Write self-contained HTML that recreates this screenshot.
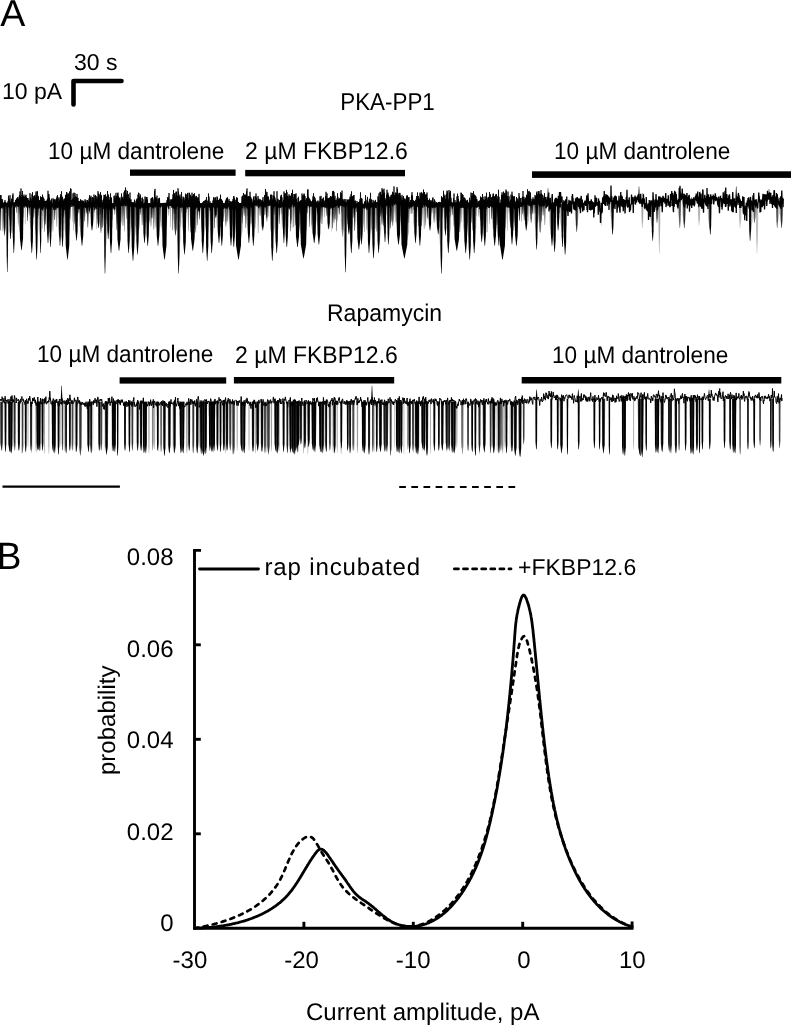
<!DOCTYPE html>
<html><head><meta charset="utf-8"><style>
html,body{margin:0;padding:0;background:#fff;}
svg{display:block;filter:grayscale(1);}
text{font-family:"Liberation Sans", sans-serif;fill:#000;text-rendering:geometricPrecision;}
</style></head><body>
<svg width="792" height="1026" viewBox="0 0 792 1026">
<rect width="792" height="1026" fill="#fff"/>
<text x="0.2" y="26.1" font-size="37.6" text-anchor="start">A</text>
<text x="74" y="70" font-size="23" text-anchor="start">30 s</text>
<text x="2" y="99.3" font-size="23" text-anchor="start">10 pA</text>
<path d="M73.5,104.5 L73.5,81 L121.5,81" fill="none" stroke="#000" stroke-width="4.6" stroke-linecap="round" stroke-linejoin="round"/>
<text x="0" y="0" font-size="22.4" text-anchor="start" transform="translate(340.2 110.3) scale(1.0 1.09)">PKA-PP1</text>
<text x="0" y="0" font-size="22.6" text-anchor="start" transform="translate(48 159) scale(1.0 1.06)">10 &#181;M dantrolene</text>
<text x="0" y="0" font-size="23" text-anchor="start" transform="translate(245 159) scale(1.0 1.05)">2 &#181;M FKBP12.6</text>
<text x="0" y="0" font-size="22.6" text-anchor="start" transform="translate(554 158.5) scale(1.0 1.06)">10 &#181;M dantrolene</text>
<rect x="130" y="169.5" width="105.60" height="6.30"/>
<rect x="245.2" y="169.9" width="159.80" height="6.40"/>
<rect x="532" y="171.3" width="259.00" height="6.60"/>
<text x="0" y="0" font-size="23" text-anchor="start" transform="translate(327 320.8) scale(1.0 1.05)">Rapamycin</text>
<text x="0" y="0" font-size="22.6" text-anchor="start" transform="translate(37 362) scale(1.0 1.06)">10 &#181;M dantrolene</text>
<text x="0" y="0" font-size="23" text-anchor="start" transform="translate(235 363.3) scale(1.0 1.05)">2 &#181;M FKBP12.6</text>
<text x="0" y="0" font-size="22.6" text-anchor="start" transform="translate(552 363) scale(1.0 1.06)">10 &#181;M dantrolene</text>
<rect x="119.6" y="377.3" width="106.60" height="6.30"/>
<rect x="233.9" y="377.0" width="160.30" height="6.50"/>
<rect x="521.7" y="377.0" width="259.60" height="6.50"/>
<line x1="2.5" y1="486.6" x2="119.9" y2="486.6" stroke="#000" stroke-width="2.2"/>
<line x1="399.2" y1="487" x2="515.2" y2="487" stroke="#000" stroke-width="2.2" stroke-dasharray="6.7 5.44"/>
<text x="0" y="0" font-size="37" text-anchor="start" transform="translate(-3.2 568.6) scale(1.0 1.03)">B</text>
<path d="M201,550.4 L194.5,550.4 L194.5,928.3 L632.1,928.3 L632.1,921.5" fill="none" stroke="#000" stroke-width="2.9" stroke-linejoin="miter"/>
<line x1="194.5" y1="833.8" x2="200.8" y2="833.8" stroke="#000" stroke-width="2.9"/>
<line x1="194.5" y1="739.3" x2="200.8" y2="739.3" stroke="#000" stroke-width="2.9"/>
<line x1="194.5" y1="644.8" x2="200.8" y2="644.8" stroke="#000" stroke-width="2.9"/>
<line x1="303.9" y1="928.3" x2="303.9" y2="921.8" stroke="#000" stroke-width="2.9"/>
<line x1="413.3" y1="928.3" x2="413.3" y2="921.8" stroke="#000" stroke-width="2.9"/>
<line x1="522.7" y1="928.3" x2="522.7" y2="921.8" stroke="#000" stroke-width="2.9"/>
<text x="173.5" y="565.1" font-size="24" text-anchor="end">0.08</text>
<text x="173.5" y="656.6" font-size="24" text-anchor="end">0.06</text>
<text x="173.5" y="748.4" font-size="24" text-anchor="end">0.04</text>
<text x="173.5" y="839.7" font-size="24" text-anchor="end">0.02</text>
<text x="173.5" y="931.3000000000001" font-size="24" text-anchor="end">0</text>
<text x="189.9" y="968.4" font-size="24" text-anchor="middle">-30</text>
<text x="301.5" y="968.4" font-size="24" text-anchor="middle">-20</text>
<text x="413.2" y="968.4" font-size="24" text-anchor="middle">-10</text>
<text x="524" y="968.4" font-size="24" text-anchor="middle">0</text>
<text x="632.3" y="968.4" font-size="24" text-anchor="middle">10</text>
<text x="306" y="1020.4" font-size="24" text-anchor="start">Current amplitude, pA</text>
<text x="0" y="0" font-size="24" text-anchor="start" transform="translate(115.3 775) rotate(-90)">probability</text>
<line x1="199.5" y1="569" x2="258.5" y2="569" stroke="#000" stroke-width="2.8" stroke-linecap="round"/>
<text x="264.5" y="575" font-size="24" text-anchor="start" letter-spacing="0.85">rap incubated</text>
<line x1="454.4" y1="568.9" x2="511" y2="568.9" stroke="#000" stroke-width="2.8" stroke-linecap="round" stroke-dasharray="4 5.1"/>
<text x="518" y="575.2" font-size="23" text-anchor="start">+FKBP12.6</text>
<path d="M194.5 928.3L195.3 928.2L196.0 928.0L196.8 927.9L197.6 927.7L198.4 927.6L199.1 927.5L199.9 927.3L200.7 927.1L201.5 927.0L202.2 926.8L203.0 926.7L203.8 926.5L204.6 926.3L205.4 926.2L206.1 926.0L206.9 925.8L207.7 925.6L208.5 925.5L209.3 925.3L210.1 925.1L210.8 924.9L211.6 924.7L212.4 924.5L213.2 924.3L214.0 924.1L214.7 923.9L215.5 923.7L216.3 923.5L217.1 923.2L217.9 923.0L218.6 922.8L219.4 922.6L220.2 922.3L221.0 922.1L221.8 921.9L222.5 921.6L223.3 921.4L224.1 921.1L224.8 920.9L225.6 920.6L226.4 920.4L227.1 920.1L227.9 919.8L228.7 919.6L229.4 919.3L230.2 919.0L230.9 918.7L231.7 918.4L232.5 918.1L233.2 917.9L234.0 917.5L234.7 917.2L235.5 916.9L236.2 916.6L236.9 916.3L237.7 916.0L238.4 915.7L239.2 915.3L239.9 915.0L240.6 914.7L241.3 914.3L242.1 914.0L242.8 913.6L243.5 913.3L244.2 912.9L244.9 912.5L245.7 912.2L246.3 911.8L247.1 911.4L247.8 911.0L248.4 910.6L249.1 910.2L249.8 909.9L250.5 909.5L251.2 909.0L251.9 908.6L252.6 908.2L253.2 907.8L253.9 907.4L254.6 906.9L255.2 906.5L255.9 906.0L256.5 905.6L257.1 905.1L257.8 904.7L258.4 904.2L259.1 903.7L259.7 903.3L260.3 902.8L260.9 902.3L261.6 901.8L262.1 901.3L262.8 900.8L263.4 900.3L263.9 899.8L264.5 899.2L265.1 898.7L265.7 898.2L266.3 897.6L266.8 897.1L267.4 896.6L268.0 896.0L268.5 895.4L269.1 894.9L269.6 894.3L270.1 893.7L270.7 893.1L271.2 892.5L271.7 892.0L272.2 891.3L272.7 890.7L273.2 890.1L273.7 889.5L274.2 888.9L274.7 888.2L275.1 887.6L275.6 886.9L276.1 886.3L276.5 885.6L277.0 885.0L277.4 884.3L277.8 883.6L278.3 882.9L278.7 882.2L279.1 881.5L279.5 880.8L279.9 880.1L280.3 879.4L280.7 878.6L281.0 877.9L281.4 877.2L281.8 876.4L282.1 875.7L282.5 874.9L282.8 874.2L283.2 873.4L283.5 872.6L283.9 871.9L284.2 871.1L284.5 870.3L284.9 869.6L285.2 868.8L285.5 868.0L285.8 867.2L286.1 866.5L286.5 865.7L286.8 864.9L287.1 864.1L287.4 863.4L287.8 862.6L288.1 861.8L288.4 861.0L288.7 860.3L289.1 859.5L289.4 858.7L289.7 858.0L290.1 857.2L290.4 856.5L290.8 855.7L291.1 855.0L291.5 854.3L291.8 853.5L292.2 852.8L292.6 852.1L293.0 851.4L293.4 850.7L293.7 850.0L294.1 849.3L294.6 848.6L295.0 848.0L295.4 847.3L295.8 846.7L296.3 846.0L296.7 845.4L297.2 844.8L297.7 844.2L298.1 843.6L298.6 843.0L299.2 842.5L299.7 841.9L300.2 841.4L300.8 840.8L301.3 840.3L301.9 839.8L302.5 839.3L303.1 838.9L303.7 838.5L304.3 838.1L304.9 837.7L305.5 837.4L306.1 837.1L306.8 836.9L307.4 836.7L308.0 836.6L308.7 836.6L309.3 836.6L309.9 836.7L310.6 836.8L311.2 837.1L311.8 837.4L312.4 837.9L313.0 838.4L313.6 839.0L314.1 839.7L314.7 840.4L315.2 841.2L315.8 842.1L316.3 843.0L316.8 843.9L317.4 844.8L317.9 845.6L318.4 846.5L318.9 847.4L319.3 848.2L319.8 849.0L320.3 849.9L320.7 850.6L321.2 851.4L321.6 852.2L322.1 852.9L322.5 853.7L323.0 854.4L323.4 855.0L323.8 855.7L324.2 856.4L324.6 857.0L325.1 857.6L325.5 858.2L325.9 858.8L326.3 859.4L326.7 860.0L327.1 860.5L327.4 861.1L327.8 861.7L328.2 862.3L328.6 862.9L329.0 863.6L329.4 864.2L329.8 864.8L330.1 865.5L330.5 866.2L330.9 866.9L331.3 867.6L331.6 868.3L332.0 869.0L332.4 869.7L332.8 870.5L333.2 871.2L333.6 871.9L333.9 872.7L334.3 873.4L334.7 874.2L335.1 874.9L335.5 875.7L335.9 876.4L336.3 877.2L336.7 877.9L337.1 878.7L337.6 879.4L338.0 880.1L338.4 880.9L338.8 881.6L339.3 882.3L339.7 883.0L340.2 883.6L340.6 884.3L341.1 885.0L341.5 885.6L342.0 886.2L342.5 886.9L343.0 887.5L343.5 888.0L343.9 888.6L344.5 889.2L345.0 889.8L345.5 890.3L346.0 890.9L346.5 891.4L347.1 891.9L347.6 892.5L348.1 893.0L348.7 893.5L349.2 894.0L349.8 894.5L350.4 894.9L350.9 895.4L351.5 895.9L352.1 896.4L352.6 896.8L353.2 897.3L353.8 897.7L354.4 898.2L355.0 898.6L355.6 899.1L356.2 899.5L356.9 900.0L357.5 900.4L358.1 900.9L358.7 901.3L359.4 901.8L360.0 902.2L360.6 902.6L361.3 903.1L361.9 903.5L362.6 904.0L363.3 904.4L363.9 904.9L364.6 905.3L365.3 905.8L365.9 906.3L366.6 906.7L367.3 907.2L368.0 907.7L368.7 908.1L369.4 908.6L370.1 909.1L370.8 909.6L371.5 910.1L372.2 910.6L372.9 911.0L373.6 911.5L374.3 912.0L375.0 912.5L375.8 913.0L376.5 913.5L377.2 913.9L377.9 914.4L378.7 914.9L379.4 915.3L380.1 915.8L380.9 916.3L381.6 916.7L382.3 917.2L383.1 917.6L383.8 918.0L384.6 918.5L385.3 918.9L386.1 919.3L386.8 919.7L387.6 920.1L388.3 920.5L389.1 920.9L389.8 921.3L390.6 921.6L391.3 922.0L392.1 922.3L392.9 922.7L393.6 923.0L394.4 923.3L395.1 923.6L395.9 923.9L396.7 924.2L397.4 924.4L398.2 924.7L398.9 924.9L399.7 925.1L400.5 925.3L401.2 925.5L402.0 925.7L402.7 925.9L403.5 926.0L404.3 926.1L405.0 926.2L405.8 926.3L406.5 926.4L407.3 926.4L408.1 926.5L408.8 926.5L409.6 926.5L410.3 926.5L411.1 926.4L411.8 926.4L412.6 926.3L413.3 926.3L414.1 926.2L414.8 926.0L415.5 925.9L416.3 925.8L417.0 925.6L417.8 925.5L418.5 925.3L419.2 925.1L419.9 924.9L420.7 924.7L421.4 924.4L422.1 924.2L422.8 923.9L423.6 923.7L424.3 923.4L425.0 923.1L425.7 922.8L426.4 922.5L427.1 922.1L427.8 921.8L428.5 921.5L429.2 921.1L429.9 920.7L430.6 920.4L431.2 920.0L431.9 919.6L432.6 919.2L433.3 918.8L433.9 918.4L434.6 917.9L435.3 917.5L435.9 917.0L436.6 916.6L437.2 916.1L437.9 915.7L438.5 915.2L439.1 914.7L439.8 914.2L440.4 913.8L441.0 913.3L441.6 912.8L442.2 912.3L442.8 911.8L443.4 911.2L444.0 910.7L444.6 910.2L445.2 909.7L445.8 909.1L446.3 908.6L446.9 908.0L447.5 907.5L448.0 906.9L448.6 906.4L449.1 905.8L449.7 905.2L450.2 904.7L450.8 904.1L451.3 903.5L451.9 902.9L452.4 902.3L452.9 901.7L453.4 901.1L453.9 900.5L454.5 899.9L455.0 899.3L455.5 898.7L456.0 898.0L456.5 897.4L456.9 896.8L457.4 896.1L457.9 895.5L458.4 894.9L458.9 894.2L459.3 893.6L459.8 892.9L460.3 892.2L460.7 891.6L461.2 890.9L461.6 890.2L462.1 889.6L462.5 888.9L463.0 888.2L463.4 887.5L463.8 886.9L464.3 886.2L464.7 885.5L465.1 884.8L465.5 884.1L465.9 883.4L466.4 882.7L466.8 882.0L467.2 881.3L467.6 880.6L467.9 879.9L468.3 879.1L468.7 878.4L469.1 877.7L469.5 877.0L469.9 876.3L470.2 875.5L470.6 874.8L471.0 874.1L471.4 873.4L471.7 872.6L472.1 871.9L472.4 871.1L472.8 870.4L473.1 869.7L473.5 868.9L473.8 868.2L474.2 867.4L474.5 866.7L474.8 865.9L475.2 865.2L475.5 864.4L475.8 863.7L476.1 862.9L476.5 862.2L476.8 861.4L477.1 860.7L477.4 859.9L477.7 859.1L478.0 858.4L478.3 857.6L478.6 856.9L478.9 856.1L479.2 855.3L479.5 854.6L479.8 853.8L480.1 853.0L480.3 852.3L480.6 851.5L480.9 850.8L481.2 850.0L481.4 849.2L481.7 848.5L482.0 847.7L482.2 846.9L482.5 846.1L482.8 845.4L483.0 844.6L483.3 843.9L483.5 843.1L483.8 842.3L484.0 841.5L484.2 840.8L484.5 840.0L484.7 839.2L485.0 838.5L485.2 837.7L485.4 836.9L485.7 836.2L485.9 835.4L486.1 834.6L486.4 833.9L486.6 833.1L486.8 832.3L487.0 831.5L487.2 830.8L487.4 830.0L487.6 829.2L487.9 828.5L488.1 827.7L488.3 826.9L488.5 826.1L488.7 825.4L488.9 824.6L489.1 823.8L489.3 823.1L489.5 822.3L489.7 821.5L489.9 820.7L490.1 820.0L490.2 819.2L490.4 818.4L490.6 817.6L490.8 816.9L491.0 816.1L491.2 815.3L491.3 814.5L491.5 813.8L491.7 813.0L491.9 812.2L492.0 811.5L492.2 810.7L492.4 809.9L492.5 809.1L492.7 808.4L492.9 807.6L493.0 806.8L493.2 806.0L493.4 805.2L493.5 804.5L493.7 803.7L493.8 802.9L494.0 802.1L494.1 801.4L494.3 800.6L494.5 799.8L494.6 799.0L494.8 798.2L494.9 797.5L495.1 796.7L495.2 795.9L495.4 795.1L495.5 794.3L495.6 793.6L495.8 792.8L495.9 792.0L496.1 791.2L496.2 790.4L496.4 789.7L496.5 788.9L496.6 788.1L496.8 787.3L496.9 786.5L497.1 785.8L497.2 785.0L497.3 784.2L497.5 783.4L497.6 782.6L497.7 781.8L497.9 781.1L498.0 780.3L498.1 779.5L498.3 778.7L498.4 777.9L498.5 777.1L498.6 776.4L498.8 775.6L498.9 774.8L499.0 774.0L499.2 773.2L499.3 772.4L499.4 771.6L499.6 770.9L499.7 770.1L499.8 769.3L499.9 768.5L500.1 767.7L500.2 766.9L500.3 766.1L500.4 765.4L500.6 764.6L500.7 763.8L500.8 763.0L500.9 762.2L501.1 761.4L501.2 760.6L501.3 759.8L501.4 759.0L501.6 758.3L501.7 757.5L501.8 756.7L501.9 755.9L502.1 755.1L502.2 754.3L502.3 753.5L502.4 752.7L502.6 751.9L502.7 751.1L502.8 750.4L502.9 749.6L503.1 748.8L503.2 748.0L503.3 747.2L503.4 746.4L503.5 745.6L503.7 744.8L503.8 744.0L503.9 743.2L504.0 742.5L504.2 741.7L504.3 740.9L504.4 740.1L504.5 739.3L504.6 738.5L504.8 737.7L504.9 736.9L505.0 736.1L505.1 735.3L505.3 734.5L505.4 733.7L505.5 732.9L505.6 732.1L505.7 731.4L505.9 730.6L506.0 729.8L506.1 729.0L506.2 728.2L506.4 727.4L506.5 726.6L506.6 725.8L506.7 725.0L506.8 724.2L506.9 723.4L507.1 722.6L507.2 721.8L507.3 721.0L507.4 720.2L507.6 719.5L507.7 718.6L507.8 717.9L507.9 717.1L508.0 716.3L508.2 715.5L508.3 714.7L508.4 713.9L508.5 713.1L508.6 712.3L508.8 711.5L508.9 710.7L509.0 709.9L509.1 709.1L509.2 708.3L509.4 707.5L509.5 706.7L509.6 705.9L509.7 705.1L509.8 704.4L509.9 703.6L510.1 702.8L510.2 702.0L510.3 701.2L510.4 700.4L510.5 699.6L510.7 698.8L510.8 698.0L510.9 697.2L511.0 696.4L511.1 695.6L511.2 694.8L511.4 694.0L511.5 693.2L511.6 692.4L511.7 691.6L511.8 690.9L512.0 690.1L512.1 689.3L512.2 688.5L512.3 687.7L512.4 686.9L512.5 686.1L512.7 685.3L512.8 684.5L512.9 683.7L513.0 682.9L513.1 682.1L513.3 681.3L513.4 680.5L513.5 679.8L513.6 679.0L513.7 678.2L513.9 677.4L514.0 676.6L514.1 675.8L514.2 675.0L514.3 674.2L514.4 673.4L514.5 672.6L514.7 671.8L514.8 671.0L514.9 670.3L515.0 669.5L515.1 668.7L515.3 667.9L515.4 667.1L515.5 666.3L515.6 665.5L515.7 664.7L515.9 663.9L516.0 663.1L516.1 662.4L516.2 661.6L516.3 660.8L516.4 660.0L516.5 659.2L516.7 658.4L516.8 657.6L516.9 656.8L517.0 656.0L517.1 655.3L517.2 654.5L517.4 653.7L517.5 652.9L517.6 652.1L517.8 651.3L517.9 650.5L518.0 649.7L518.2 648.9L518.4 648.1L518.6 647.3L518.8 646.5L519.0 645.6L519.2 644.8L519.5 643.9L519.8 643.1L520.1 642.2L520.5 641.3L520.9 640.4L521.3 639.6L521.7 638.8L522.1 638.0L522.5 637.4L523.0 636.9L523.4 636.5L523.8 636.3L524.2 636.2L524.6 636.4L525.0 636.7L525.4 637.1L525.7 637.7L526.0 638.4L526.4 639.2L526.7 640.0L527.0 640.9L527.3 641.8L527.5 642.7L527.8 643.6L528.0 644.4L528.3 645.3L528.5 646.2L528.7 647.0L529.0 647.8L529.2 648.7L529.4 649.5L529.6 650.3L529.8 651.1L530.0 651.9L530.1 652.8L530.3 653.5L530.5 654.4L530.7 655.1L530.9 656.0L531.0 656.8L531.2 657.5L531.4 658.4L531.5 659.1L531.7 659.9L531.9 660.7L532.0 661.5L532.2 662.3L532.4 663.1L532.5 663.9L532.7 664.7L532.8 665.5L533.0 666.3L533.1 667.1L533.3 667.8L533.4 668.6L533.6 669.4L533.7 670.2L533.9 671.0L534.0 671.8L534.2 672.5L534.3 673.3L534.5 674.1L534.6 674.9L534.7 675.7L534.9 676.5L535.0 677.2L535.1 678.0L535.3 678.8L535.4 679.6L535.5 680.4L535.7 681.1L535.8 681.9L535.9 682.7L536.0 683.5L536.2 684.2L536.3 685.0L536.4 685.8L536.5 686.6L536.7 687.4L536.8 688.1L536.9 688.9L537.0 689.7L537.1 690.5L537.2 691.3L537.4 692.0L537.5 692.8L537.6 693.6L537.7 694.4L537.8 695.1L537.9 695.9L538.0 696.7L538.1 697.5L538.3 698.3L538.4 699.0L538.5 699.8L538.6 700.6L538.7 701.4L538.8 702.2L538.9 702.9L539.0 703.7L539.1 704.5L539.2 705.3L539.3 706.1L539.4 706.9L539.5 707.6L539.6 708.4L539.7 709.2L539.8 710.0L539.9 710.8L540.0 711.6L540.1 712.4L540.2 713.1L540.3 713.9L540.4 714.7L540.5 715.5L540.6 716.3L540.7 717.1L540.8 717.9L540.9 718.7L541.0 719.5L541.1 720.3L541.1 721.1L541.2 721.9L541.3 722.7L541.4 723.5L541.5 724.2L541.6 725.0L541.7 725.9L541.8 726.6L541.9 727.4L542.0 728.2L542.1 729.0L542.2 729.8L542.3 730.6L542.4 731.4L542.5 732.2L542.5 733.0L542.6 733.8L542.7 734.6L542.8 735.5L542.9 736.2L543.0 737.0L543.1 737.9L543.2 738.6L543.3 739.5L543.4 740.3L543.5 741.1L543.6 741.9L543.6 742.7L543.8 743.5L543.8 744.3L543.9 745.1L544.0 745.9L544.1 746.7L544.2 747.5L544.3 748.3L544.4 749.1L544.5 749.9L544.6 750.7L544.7 751.5L544.8 752.3L544.9 753.1L545.0 753.9L545.1 754.7L545.2 755.5L545.3 756.3L545.4 757.1L545.5 757.9L545.6 758.7L545.7 759.5L545.8 760.3L545.9 761.1L546.0 761.9L546.1 762.7L546.2 763.5L546.3 764.3L546.4 765.1L546.5 765.9L546.6 766.7L546.7 767.5L546.9 768.3L547.0 769.1L547.1 769.9L547.2 770.7L547.3 771.5L547.4 772.3L547.5 773.1L547.6 773.9L547.8 774.7L547.9 775.5L548.0 776.3L548.1 777.1L548.2 777.9L548.3 778.7L548.5 779.5L548.6 780.2L548.7 781.0L548.8 781.8L549.0 782.6L549.1 783.4L549.2 784.2L549.3 785.0L549.5 785.8L549.6 786.6L549.7 787.4L549.9 788.1L550.0 788.9L550.1 789.7L550.3 790.5L550.4 791.3L550.5 792.1L550.7 792.9L550.8 793.6L551.0 794.4L551.1 795.2L551.3 796.0L551.4 796.8L551.6 797.6L551.7 798.3L551.9 799.1L552.0 799.9L552.2 800.7L552.3 801.5L552.5 802.2L552.6 803.0L552.8 803.8L553.0 804.6L553.1 805.4L553.3 806.1L553.5 806.9L553.6 807.7L553.8 808.5L554.0 809.2L554.2 810.0L554.3 810.8L554.5 811.5L554.7 812.3L554.9 813.1L555.0 813.9L555.2 814.6L555.4 815.4L555.6 816.2L555.8 817.0L556.0 817.7L556.2 818.5L556.4 819.3L556.6 820.0L556.8 820.8L557.0 821.6L557.2 822.3L557.4 823.1L557.6 823.9L557.8 824.6L558.0 825.4L558.2 826.1L558.4 826.9L558.7 827.7L558.9 828.4L559.1 829.2L559.3 830.0L559.5 830.7L559.8 831.5L560.0 832.2L560.2 833.0L560.5 833.8L560.7 834.5L561.0 835.3L561.2 836.0L561.4 836.8L561.7 837.6L561.9 838.3L562.2 839.1L562.4 839.8L562.7 840.6L562.9 841.3L563.2 842.1L563.5 842.8L563.7 843.6L564.0 844.3L564.3 845.1L564.5 845.9L564.8 846.6L565.1 847.4L565.4 848.1L565.6 848.9L565.9 849.6L566.2 850.3L566.5 851.1L566.8 851.8L567.1 852.6L567.4 853.3L567.7 854.1L568.0 854.8L568.3 855.6L568.6 856.3L568.9 857.0L569.2 857.8L569.6 858.5L569.9 859.3L570.2 860.0L570.5 860.8L570.9 861.5L571.2 862.2L571.5 863.0L571.9 863.7L572.2 864.5L572.5 865.2L572.9 865.9L573.2 866.7L573.6 867.4L574.0 868.1L574.3 868.9L574.7 869.6L575.0 870.3L575.4 871.0L575.8 871.8L576.1 872.5L576.5 873.2L576.9 873.9L577.3 874.7L577.7 875.4L578.1 876.1L578.5 876.8L578.9 877.5L579.2 878.2L579.6 878.9L580.0 879.6L580.5 880.4L580.9 881.0L581.3 881.8L581.7 882.5L582.1 883.1L582.6 883.8L583.0 884.5L583.4 885.2L583.9 885.9L584.3 886.6L584.7 887.3L585.2 887.9L585.6 888.6L586.1 889.3L586.5 890.0L587.0 890.6L587.5 891.3L587.9 891.9L588.4 892.6L588.9 893.2L589.4 893.9L589.8 894.5L590.3 895.2L590.8 895.8L591.3 896.5L591.8 897.1L592.3 897.7L592.8 898.3L593.3 899.0L593.8 899.6L594.4 900.2L594.9 900.8L595.4 901.4L595.9 902.0L596.5 902.6L597.0 903.2L597.5 903.8L598.1 904.3L598.6 904.9L599.2 905.5L599.7 906.0L600.3 906.6L600.9 907.2L601.4 907.7L602.0 908.3L602.6 908.8L603.1 909.4L603.7 909.9L604.3 910.4L604.9 910.9L605.5 911.4L606.1 912.0L606.7 912.5L607.3 913.0L607.9 913.5L608.5 914.0L609.2 914.4L609.8 914.9L610.4 915.4L611.1 915.9L611.7 916.3L612.3 916.8L613.0 917.2L613.6 917.6L614.3 918.1L615.0 918.5L615.6 918.9L616.3 919.4L617.0 919.8L617.6 920.2L618.3 920.6L619.0 921.0L619.7 921.4L620.4 921.7L621.1 922.1L621.8 922.5L622.5 922.8L623.2 923.2L624.0 923.5L624.7 923.9L625.4 924.2L626.1 924.5L626.9 924.8L627.6 925.1L628.4 925.4L629.1 925.7L629.9 926.0L630.7 926.3L631.4 926.5L632.2 926.8" fill="none" stroke="#000" stroke-width="2.7" stroke-linecap="round" stroke-linejoin="round" stroke-dasharray="4 5.3"/>
<path d="M194.5 928.3L195.3 928.3L196.0 928.2L196.8 928.2L197.6 928.2L198.3 928.2L199.1 928.1L199.9 928.1L200.7 928.1L201.4 928.0L202.2 928.0L203.0 927.9L203.8 927.9L204.6 927.8L205.4 927.8L206.2 927.7L206.9 927.7L207.7 927.6L208.5 927.5L209.3 927.5L210.1 927.4L210.9 927.3L211.7 927.2L212.5 927.1L213.3 927.0L214.1 927.0L214.9 926.9L215.7 926.8L216.5 926.7L217.3 926.6L218.1 926.5L218.9 926.4L219.7 926.2L220.5 926.1L221.3 926.0L222.1 925.9L222.9 925.8L223.8 925.6L224.6 925.5L225.4 925.3L226.2 925.2L227.0 925.0L227.8 924.9L228.6 924.8L229.4 924.6L230.2 924.4L231.0 924.3L231.8 924.1L232.6 923.9L233.4 923.7L234.2 923.6L235.0 923.4L235.8 923.2L236.6 923.0L237.4 922.8L238.2 922.6L238.9 922.4L239.7 922.2L240.5 922.0L241.3 921.7L242.1 921.5L242.9 921.3L243.7 921.1L244.4 920.8L245.2 920.6L246.0 920.3L246.8 920.1L247.6 919.8L248.3 919.6L249.1 919.3L249.9 919.0L250.6 918.8L251.4 918.5L252.2 918.2L252.9 917.9L253.7 917.6L254.4 917.3L255.2 917.0L255.9 916.7L256.6 916.4L257.4 916.1L258.1 915.8L258.9 915.5L259.6 915.1L260.3 914.8L261.1 914.5L261.8 914.1L262.5 913.8L263.2 913.4L263.9 913.0L264.6 912.7L265.3 912.3L266.0 911.9L266.7 911.5L267.4 911.2L268.1 910.8L268.8 910.4L269.5 910.0L270.1 909.5L270.8 909.1L271.5 908.7L272.1 908.3L272.8 907.9L273.4 907.4L274.1 907.0L274.7 906.5L275.4 906.1L276.0 905.6L276.6 905.2L277.3 904.7L277.9 904.2L278.5 903.7L279.1 903.2L279.7 902.8L280.3 902.3L280.9 901.8L281.5 901.2L282.1 900.7L282.7 900.2L283.2 899.7L283.8 899.1L284.4 898.6L284.9 898.0L285.5 897.5L286.0 896.9L286.6 896.4L287.1 895.8L287.6 895.2L288.1 894.6L288.6 894.0L289.1 893.5L289.6 892.8L290.1 892.2L290.6 891.6L291.1 891.0L291.6 890.4L292.1 889.8L292.5 889.1L293.0 888.5L293.5 887.8L293.9 887.2L294.4 886.5L294.8 885.9L295.3 885.2L295.7 884.5L296.2 883.9L296.6 883.2L297.1 882.5L297.5 881.9L297.9 881.2L298.4 880.5L298.8 879.8L299.2 879.1L299.6 878.4L300.1 877.7L300.5 877.0L300.9 876.3L301.4 875.6L301.8 874.9L302.2 874.2L302.6 873.5L303.0 872.8L303.5 872.1L303.9 871.4L304.3 870.6L304.7 869.9L305.2 869.2L305.6 868.5L306.0 867.8L306.5 867.1L306.9 866.4L307.3 865.6L307.8 864.9L308.2 864.2L308.7 863.5L309.1 862.8L309.6 862.0L310.0 861.3L310.5 860.6L310.9 859.9L311.4 859.2L311.9 858.5L312.3 857.8L312.8 857.1L313.3 856.4L313.8 855.7L314.3 855.0L314.8 854.3L315.3 853.6L315.8 852.9L316.3 852.3L316.8 851.7L317.3 851.1L317.8 850.6L318.4 850.2L318.9 849.8L319.4 849.5L319.9 849.3L320.5 849.2L321.0 849.2L321.6 849.2L322.1 849.4L322.6 849.6L323.2 850.0L323.7 850.3L324.2 850.8L324.8 851.3L325.3 851.9L325.9 852.5L326.4 853.1L326.9 853.8L327.4 854.5L328.0 855.2L328.5 856.0L329.0 856.7L329.5 857.5L330.0 858.2L330.6 859.0L331.1 859.7L331.6 860.5L332.1 861.2L332.6 861.9L333.0 862.6L333.5 863.4L334.0 864.1L334.5 864.8L335.0 865.5L335.5 866.2L335.9 866.9L336.4 867.5L336.9 868.2L337.4 868.9L337.8 869.5L338.3 870.2L338.8 870.9L339.2 871.5L339.7 872.2L340.2 872.8L340.6 873.4L341.1 874.0L341.6 874.7L342.0 875.3L342.5 875.9L342.9 876.5L343.4 877.2L343.9 877.8L344.3 878.4L344.8 879.1L345.3 879.7L345.7 880.4L346.2 881.1L346.7 881.8L347.1 882.5L347.6 883.2L348.1 883.9L348.6 884.6L349.1 885.3L349.5 886.0L350.0 886.7L350.5 887.4L351.0 888.1L351.5 888.8L352.0 889.5L352.5 890.1L353.0 890.8L353.5 891.4L354.0 892.0L354.5 892.6L355.0 893.2L355.6 893.8L356.1 894.3L356.6 894.8L357.2 895.3L357.7 895.8L358.2 896.3L358.8 896.7L359.3 897.1L359.9 897.6L360.4 898.0L361.0 898.4L361.6 898.8L362.2 899.2L362.7 899.6L363.3 900.0L363.9 900.3L364.5 900.7L365.1 901.1L365.7 901.5L366.3 901.9L366.9 902.3L367.5 902.8L368.1 903.2L368.7 903.6L369.3 904.1L370.0 904.6L370.6 905.1L371.2 905.6L371.9 906.1L372.5 906.6L373.1 907.2L373.8 907.7L374.4 908.3L375.1 908.8L375.8 909.4L376.4 910.0L377.1 910.6L377.8 911.2L378.4 911.8L379.1 912.3L379.8 912.9L380.5 913.5L381.2 914.1L381.9 914.7L382.6 915.3L383.3 915.8L384.0 916.4L384.7 917.0L385.4 917.5L386.1 918.0L386.8 918.6L387.5 919.1L388.2 919.6L389.0 920.0L389.7 920.5L390.4 921.0L391.2 921.4L391.9 921.8L392.7 922.2L393.4 922.6L394.2 922.9L394.9 923.3L395.7 923.6L396.4 923.9L397.2 924.2L398.0 924.5L398.7 924.7L399.5 924.9L400.3 925.2L401.0 925.4L401.8 925.5L402.6 925.7L403.3 925.9L404.1 926.0L404.9 926.1L405.7 926.2L406.4 926.3L407.2 926.4L408.0 926.5L408.8 926.5L409.5 926.5L410.3 926.6L411.1 926.6L411.9 926.5L412.6 926.5L413.4 926.5L414.2 926.4L414.9 926.4L415.7 926.3L416.5 926.2L417.2 926.1L418.0 925.9L418.8 925.8L419.5 925.7L420.3 925.5L421.0 925.3L421.8 925.1L422.5 924.9L423.3 924.7L424.0 924.5L424.8 924.3L425.5 924.0L426.2 923.8L427.0 923.5L427.7 923.2L428.4 922.9L429.1 922.6L429.8 922.3L430.5 922.0L431.2 921.6L431.9 921.3L432.6 920.9L433.3 920.6L434.0 920.2L434.7 919.8L435.4 919.4L436.0 919.0L436.7 918.6L437.4 918.2L438.0 917.7L438.7 917.3L439.3 916.9L440.0 916.4L440.6 915.9L441.2 915.5L441.9 915.0L442.5 914.5L443.1 914.0L443.7 913.5L444.4 913.0L445.0 912.4L445.6 911.9L446.2 911.4L446.8 910.8L447.4 910.3L447.9 909.7L448.5 909.2L449.1 908.6L449.7 908.0L450.2 907.4L450.8 906.9L451.4 906.3L451.9 905.7L452.4 905.1L453.0 904.5L453.5 903.8L454.1 903.2L454.6 902.6L455.1 902.0L455.6 901.3L456.2 900.7L456.7 900.1L457.2 899.4L457.7 898.8L458.2 898.1L458.7 897.5L459.2 896.8L459.7 896.1L460.1 895.5L460.6 894.8L461.1 894.1L461.6 893.5L462.0 892.8L462.5 892.1L462.9 891.4L463.4 890.7L463.8 890.1L464.3 889.4L464.7 888.7L465.1 888.0L465.6 887.3L466.0 886.6L466.4 885.9L466.8 885.2L467.2 884.5L467.6 883.8L468.1 883.1L468.4 882.4L468.8 881.7L469.2 881.0L469.6 880.3L470.0 879.6L470.4 878.9L470.7 878.2L471.1 877.5L471.5 876.8L471.8 876.1L472.2 875.4L472.5 874.7L472.9 873.9L473.2 873.2L473.6 872.5L473.9 871.8L474.2 871.1L474.6 870.4L474.9 869.6L475.2 868.9L475.6 868.2L475.9 867.5L476.2 866.8L476.5 866.0L476.8 865.3L477.1 864.6L477.4 863.8L477.7 863.1L478.0 862.4L478.3 861.6L478.6 860.9L478.9 860.2L479.1 859.4L479.4 858.7L479.7 858.0L480.0 857.2L480.2 856.5L480.5 855.8L480.8 855.0L481.0 854.3L481.3 853.5L481.6 852.8L481.8 852.0L482.1 851.3L482.3 850.5L482.6 849.8L482.8 849.1L483.0 848.3L483.3 847.6L483.5 846.8L483.7 846.1L484.0 845.3L484.2 844.6L484.4 843.8L484.7 843.0L484.9 842.3L485.1 841.5L485.3 840.8L485.5 840.0L485.8 839.3L486.0 838.5L486.2 837.7L486.4 837.0L486.6 836.2L486.8 835.5L487.0 834.7L487.2 833.9L487.4 833.2L487.6 832.4L487.8 831.6L488.0 830.9L488.2 830.1L488.4 829.3L488.6 828.6L488.8 827.8L488.9 827.0L489.1 826.2L489.3 825.5L489.5 824.7L489.7 823.9L489.9 823.2L490.1 822.4L490.2 821.6L490.4 820.8L490.6 820.1L490.8 819.3L490.9 818.5L491.1 817.7L491.3 816.9L491.5 816.2L491.6 815.4L491.8 814.6L492.0 813.8L492.1 813.0L492.3 812.3L492.5 811.5L492.6 810.7L492.8 809.9L493.0 809.1L493.1 808.3L493.3 807.5L493.5 806.8L493.6 806.0L493.8 805.2L493.9 804.4L494.1 803.6L494.3 802.8L494.4 802.0L494.6 801.2L494.8 800.5L494.9 799.7L495.1 798.9L495.2 798.1L495.4 797.3L495.5 796.5L495.7 795.7L495.8 794.9L496.0 794.1L496.1 793.3L496.3 792.5L496.4 791.8L496.6 791.0L496.7 790.2L496.9 789.4L497.0 788.6L497.2 787.8L497.3 787.0L497.4 786.2L497.6 785.4L497.7 784.6L497.9 783.8L498.0 783.0L498.1 782.2L498.3 781.4L498.4 780.6L498.6 779.8L498.7 779.0L498.8 778.2L499.0 777.4L499.1 776.6L499.2 775.8L499.4 775.0L499.5 774.2L499.6 773.4L499.8 772.6L499.9 771.8L500.0 771.0L500.2 770.2L500.3 769.4L500.4 768.6L500.6 767.8L500.7 767.0L500.8 766.2L500.9 765.4L501.1 764.6L501.2 763.8L501.3 763.0L501.4 762.1L501.6 761.4L501.7 760.5L501.8 759.7L501.9 758.9L502.0 758.1L502.2 757.3L502.3 756.5L502.4 755.7L502.5 754.9L502.6 754.1L502.8 753.3L502.9 752.5L503.0 751.7L503.1 750.9L503.2 750.1L503.3 749.3L503.4 748.5L503.6 747.7L503.7 746.9L503.8 746.1L503.9 745.3L504.0 744.5L504.1 743.6L504.2 742.9L504.3 742.0L504.4 741.2L504.5 740.4L504.6 739.6L504.7 738.8L504.9 738.0L504.9 737.2L505.1 736.4L505.2 735.6L505.3 734.8L505.4 734.0L505.5 733.2L505.6 732.4L505.7 731.6L505.8 730.8L505.9 730.0L506.0 729.2L506.1 728.4L506.2 727.6L506.3 726.8L506.4 726.0L506.5 725.2L506.6 724.4L506.6 723.6L506.8 722.8L506.8 722.0L506.9 721.2L507.0 720.4L507.1 719.6L507.2 718.8L507.3 718.0L507.4 717.2L507.5 716.4L507.6 715.6L507.7 714.8L507.8 714.0L507.9 713.2L507.9 712.4L508.0 711.6L508.1 710.8L508.2 710.0L508.3 709.2L508.4 708.4L508.5 707.6L508.6 706.8L508.6 706.0L508.7 705.2L508.8 704.4L508.9 703.6L509.0 702.8L509.1 702.0L509.1 701.2L509.2 700.5L509.3 699.7L509.4 698.9L509.5 698.1L509.5 697.3L509.6 696.5L509.7 695.7L509.8 694.9L509.9 694.1L509.9 693.3L510.0 692.5L510.1 691.8L510.2 691.0L510.2 690.2L510.3 689.4L510.4 688.6L510.5 687.8L510.5 687.0L510.6 686.2L510.7 685.5L510.8 684.7L510.8 683.9L510.9 683.1L511.0 682.3L511.1 681.5L511.1 680.7L511.2 680.0L511.3 679.2L511.3 678.4L511.4 677.6L511.5 676.8L511.6 676.0L511.6 675.2L511.7 674.5L511.8 673.7L511.8 672.9L511.9 672.1L512.0 671.3L512.0 670.5L512.1 669.8L512.2 669.0L512.2 668.2L512.3 667.4L512.4 666.6L512.4 665.9L512.5 665.1L512.6 664.3L512.6 663.5L512.7 662.7L512.8 661.9L512.8 661.1L512.9 660.4L513.0 659.6L513.0 658.8L513.1 658.0L513.1 657.2L513.2 656.5L513.3 655.7L513.3 654.9L513.4 654.1L513.4 653.3L513.5 652.5L513.6 651.8L513.6 651.0L513.7 650.2L513.8 649.4L513.8 648.6L513.9 647.9L513.9 647.1L514.0 646.3L514.0 645.5L514.1 644.7L514.2 644.0L514.2 643.2L514.3 642.4L514.3 641.6L514.4 640.8L514.5 640.0L514.5 639.2L514.6 638.5L514.6 637.7L514.7 636.9L514.7 636.1L514.8 635.3L514.8 634.5L514.9 633.8L515.0 633.0L515.0 632.2L515.1 631.4L515.1 630.6L515.2 629.8L515.3 629.1L515.3 628.3L515.4 627.5L515.5 626.7L515.5 625.9L515.6 625.1L515.7 624.3L515.8 623.5L515.9 622.7L516.0 621.9L516.1 621.1L516.2 620.4L516.3 619.5L516.4 618.8L516.5 617.9L516.7 617.1L516.8 616.3L516.9 615.5L517.1 614.7L517.2 613.9L517.4 613.1L517.6 612.2L517.8 611.4L517.9 610.5L518.1 609.7L518.3 608.8L518.5 607.9L518.8 607.0L519.0 606.1L519.2 605.2L519.5 604.2L519.8 603.2L520.0 602.3L520.3 601.3L520.6 600.3L520.9 599.4L521.2 598.5L521.5 597.7L521.9 596.9L522.2 596.3L522.5 595.8L522.9 595.4L523.2 595.1L523.6 595.0L524.0 595.1L524.3 595.3L524.7 595.7L525.0 596.2L525.4 596.9L525.8 597.6L526.1 598.4L526.5 599.2L526.8 600.1L527.1 601.0L527.4 601.8L527.7 602.7L528.0 603.6L528.3 604.5L528.5 605.3L528.8 606.2L529.0 607.0L529.2 607.9L529.4 608.7L529.6 609.6L529.8 610.4L530.0 611.2L530.2 612.1L530.4 612.9L530.5 613.7L530.7 614.5L530.9 615.4L531.0 616.2L531.1 617.0L531.3 617.8L531.4 618.6L531.5 619.4L531.7 620.2L531.8 621.0L531.9 621.8L532.0 622.6L532.1 623.4L532.2 624.2L532.3 625.0L532.4 625.7L532.5 626.5L532.6 627.3L532.7 628.1L532.8 628.9L532.9 629.6L533.0 630.4L533.1 631.2L533.1 632.0L533.2 632.8L533.3 633.6L533.4 634.3L533.5 635.1L533.5 635.9L533.6 636.7L533.7 637.5L533.8 638.2L533.9 639.0L534.0 639.8L534.0 640.6L534.1 641.4L534.2 642.1L534.3 642.9L534.4 643.7L534.4 644.5L534.5 645.3L534.6 646.1L534.7 646.9L534.7 647.6L534.8 648.4L534.9 649.2L535.0 650.0L535.0 650.8L535.1 651.6L535.2 652.4L535.3 653.1L535.4 653.9L535.4 654.7L535.5 655.5L535.6 656.3L535.7 657.1L535.7 657.9L535.8 658.7L535.9 659.5L536.0 660.2L536.0 661.0L536.1 661.8L536.2 662.6L536.3 663.4L536.3 664.2L536.4 665.0L536.5 665.8L536.6 666.6L536.6 667.4L536.7 668.1L536.8 668.9L536.9 669.7L537.0 670.5L537.0 671.3L537.1 672.1L537.2 672.9L537.2 673.7L537.3 674.5L537.4 675.3L537.5 676.1L537.6 676.9L537.6 677.7L537.7 678.5L537.8 679.3L537.9 680.0L537.9 680.9L538.0 681.6L538.1 682.4L538.2 683.2L538.2 684.0L538.3 684.8L538.4 685.6L538.5 686.4L538.5 687.2L538.6 688.0L538.7 688.8L538.8 689.6L538.9 690.4L538.9 691.2L539.0 692.0L539.1 692.8L539.2 693.6L539.2 694.4L539.3 695.2L539.4 696.0L539.5 696.8L539.5 697.6L539.6 698.4L539.7 699.2L539.8 700.0L539.9 700.8L540.0 701.6L540.0 702.4L540.1 703.2L540.2 704.0L540.3 704.8L540.4 705.6L540.4 706.4L540.5 707.1L540.6 708.0L540.7 708.8L540.8 709.5L540.8 710.4L540.9 711.1L541.0 712.0L541.1 712.8L541.2 713.5L541.2 714.3L541.3 715.1L541.4 715.9L541.5 716.7L541.6 717.5L541.7 718.3L541.8 719.1L541.8 719.9L541.9 720.7L542.0 721.5L542.1 722.3L542.2 723.1L542.3 723.9L542.3 724.7L542.4 725.5L542.5 726.3L542.6 727.1L542.7 727.9L542.8 728.7L542.9 729.5L543.0 730.3L543.0 731.1L543.1 731.9L543.2 732.7L543.3 733.5L543.4 734.3L543.5 735.1L543.6 735.9L543.7 736.7L543.8 737.5L543.9 738.3L544.0 739.1L544.0 739.9L544.1 740.7L544.2 741.5L544.3 742.3L544.4 743.1L544.5 743.9L544.6 744.7L544.7 745.5L544.8 746.3L544.9 747.1L545.0 747.9L545.1 748.7L545.2 749.5L545.3 750.3L545.4 751.1L545.5 751.9L545.6 752.7L545.7 753.5L545.8 754.3L545.9 755.1L546.0 755.9L546.1 756.6L546.2 757.5L546.3 758.2L546.4 759.0L546.5 759.8L546.6 760.6L546.7 761.4L546.8 762.2L546.9 763.0L547.0 763.8L547.2 764.6L547.3 765.4L547.4 766.2L547.5 767.0L547.6 767.8L547.7 768.6L547.8 769.4L547.9 770.2L548.0 771.0L548.1 771.8L548.3 772.5L548.4 773.3L548.5 774.1L548.6 774.9L548.7 775.7L548.8 776.5L549.0 777.3L549.1 778.1L549.2 778.9L549.3 779.7L549.4 780.5L549.6 781.2L549.7 782.0L549.8 782.8L549.9 783.6L550.0 784.4L550.2 785.2L550.3 786.0L550.4 786.8L550.6 787.5L550.7 788.3L550.8 789.1L551.0 789.9L551.1 790.7L551.2 791.5L551.4 792.3L551.5 793.1L551.6 793.9L551.8 794.6L551.9 795.4L552.0 796.2L552.2 797.0L552.3 797.8L552.5 798.6L552.6 799.3L552.8 800.1L552.9 800.9L553.1 801.7L553.2 802.5L553.4 803.2L553.5 804.0L553.7 804.8L553.8 805.6L554.0 806.4L554.2 807.2L554.3 807.9L554.5 808.7L554.6 809.5L554.8 810.3L555.0 811.0L555.1 811.8L555.3 812.6L555.5 813.4L555.7 814.2L555.8 814.9L556.0 815.7L556.2 816.5L556.4 817.3L556.6 818.0L556.7 818.8L556.9 819.6L557.1 820.4L557.3 821.1L557.5 821.9L557.7 822.7L557.9 823.5L558.1 824.2L558.3 825.0L558.5 825.8L558.7 826.5L558.9 827.3L559.1 828.1L559.3 828.9L559.5 829.6L559.7 830.4L560.0 831.2L560.2 831.9L560.4 832.7L560.6 833.5L560.8 834.2L561.0 835.0L561.3 835.8L561.5 836.5L561.7 837.3L562.0 838.0L562.2 838.8L562.5 839.6L562.7 840.3L562.9 841.1L563.2 841.9L563.4 842.6L563.7 843.4L563.9 844.1L564.2 844.9L564.5 845.7L564.7 846.4L565.0 847.2L565.2 847.9L565.5 848.7L565.8 849.4L566.0 850.2L566.3 851.0L566.6 851.7L566.9 852.5L567.2 853.2L567.5 854.0L567.7 854.7L568.0 855.5L568.3 856.2L568.6 857.0L568.9 857.7L569.2 858.5L569.5 859.2L569.8 860.0L570.1 860.7L570.5 861.5L570.8 862.2L571.1 863.0L571.4 863.7L571.8 864.5L572.1 865.2L572.4 865.9L572.8 866.7L573.1 867.4L573.4 868.1L573.8 868.9L574.1 869.6L574.5 870.4L574.8 871.1L575.2 871.8L575.5 872.6L575.9 873.3L576.3 874.0L576.6 874.7L577.0 875.5L577.4 876.2L577.8 876.9L578.1 877.6L578.5 878.3L578.9 879.0L579.3 879.8L579.7 880.5L580.1 881.2L580.5 881.9L580.9 882.6L581.3 883.3L581.7 884.0L582.1 884.7L582.6 885.4L583.0 886.0L583.4 886.7L583.9 887.4L584.3 888.1L584.7 888.8L585.2 889.4L585.6 890.1L586.1 890.8L586.5 891.4L587.0 892.1L587.4 892.8L587.9 893.4L588.4 894.0L588.9 894.7L589.3 895.3L589.8 896.0L590.3 896.6L590.8 897.2L591.3 897.9L591.8 898.5L592.3 899.1L592.8 899.7L593.3 900.3L593.8 900.9L594.3 901.5L594.8 902.1L595.4 902.7L595.9 903.3L596.4 903.9L597.0 904.5L597.5 905.0L598.1 905.6L598.6 906.2L599.2 906.7L599.7 907.3L600.3 907.9L600.9 908.4L601.4 908.9L602.0 909.5L602.6 910.0L603.2 910.5L603.8 911.0L604.4 911.5L605.0 912.0L605.6 912.5L606.2 913.0L606.8 913.5L607.4 914.0L608.0 914.5L608.7 915.0L609.3 915.4L610.0 915.9L610.6 916.4L611.2 916.8L611.9 917.2L612.5 917.7L613.2 918.1L613.9 918.5L614.5 918.9L615.2 919.4L615.9 919.8L616.6 920.1L617.3 920.5L618.0 920.9L618.7 921.3L619.4 921.7L620.1 922.0L620.8 922.4L621.5 922.7L622.3 923.1L623.0 923.4L623.7 923.7L624.5 924.0L625.2 924.4L626.0 924.7L626.7 925.0L627.5 925.2L628.3 925.5L629.0 925.8L629.8 926.1L630.6 926.3L631.4 926.6L632.2 926.8" fill="none" stroke="#000" stroke-width="2.8" stroke-linejoin="round"/>
<defs><filter id="bl" x="-5%" y="-5%" width="110%" height="110%"><feGaussianBlur stdDeviation="0.35"/></filter></defs>
<g filter="url(#bl)">
<path d="M0.00 197.0L0.25 206.8L0.50 195.3L0.75 208.3L1.00 195.0L1.25 206.6L1.50 199.0L1.75 208.0L2.00 201.2L2.25 208.5L2.50 199.3L2.75 206.6L3.00 203.2L3.25 207.5L3.50 203.4L3.75 206.7L4.00 202.3L4.25 205.8L4.50 201.8L4.75 206.1L5.00 200.1L5.25 206.9L5.50 202.2L5.75 205.8L6.00 202.5L6.25 205.9L6.50 203.0L6.75 206.8L7.00 203.0L7.25 207.6L7.50 202.9L7.75 207.8L8.00 201.2L8.25 206.8L8.50 195.7L8.75 206.7L9.00 198.4L9.25 206.4L9.50 199.5L9.75 208.5L10.00 195.1L10.25 209.4L10.50 201.9L10.75 206.6L11.00 201.6L11.25 207.9L11.50 198.9L11.75 205.9L12.00 198.7L12.25 205.4L12.50 195.4L12.75 205.2L13.00 193.4L13.25 206.4L13.50 202.7L13.75 205.6L14.00 203.0L14.25 206.9L14.50 202.2L14.75 205.6L15.00 203.0L15.25 207.3L15.50 199.9L15.75 205.9L16.00 200.8L16.25 205.7L16.50 198.7L16.75 205.0L17.00 198.5L17.25 205.7L17.50 197.2L17.75 206.7L18.00 198.6L18.25 207.1L18.50 199.7L18.75 205.7L19.00 196.7L19.25 206.1L19.50 195.0L19.75 205.2L20.00 191.5L20.25 205.4L20.50 196.5L20.75 205.5L21.00 188.5L21.25 205.7L21.50 197.1L21.75 206.5L22.00 194.7L22.25 206.4L22.50 191.0L22.75 206.2L23.00 196.4L23.25 206.7L23.50 196.4L23.75 205.9L24.00 194.6L24.25 207.5L24.50 196.8L24.75 205.7L25.00 198.6L25.25 206.2L25.50 195.9L25.75 205.9L26.00 194.7L26.25 207.1L26.50 197.3L26.75 206.4L27.00 198.3L27.25 208.0L27.50 198.1L27.75 206.4L28.00 198.2L28.25 206.3L28.50 200.1L28.75 205.6L29.00 200.7L29.25 208.1L29.50 200.8L29.75 207.7L30.00 193.1L30.25 206.2L30.50 197.7L30.75 206.6L31.00 198.7L31.25 206.4L31.50 200.9L31.75 206.7L32.00 194.2L32.25 209.7L32.50 192.2L32.75 207.8L33.00 196.2L33.25 207.2L33.50 198.0L33.75 208.2L34.00 195.9L34.25 206.4L34.50 195.9L34.75 207.5L35.00 195.1L35.25 208.7L35.50 197.0L35.75 207.1L36.00 191.6L36.25 207.6L36.50 194.6L36.75 207.8L37.00 191.3L37.25 206.4L37.50 191.5L37.75 208.3L38.00 195.9L38.25 206.9L38.50 196.7L38.75 208.8L39.00 201.2L39.25 207.9L39.50 200.0L39.75 206.9L40.00 201.8L40.25 206.4L40.50 196.3L40.75 209.4L41.00 198.2L41.25 207.5L41.50 197.0L41.75 207.7L42.00 198.4L42.25 209.6L42.50 194.7L42.75 210.4L43.00 196.7L43.25 208.4L43.50 198.3L43.75 206.7L44.00 198.8L44.25 207.1L44.50 201.0L44.75 206.5L45.00 201.0L45.25 206.2L45.50 200.9L45.75 207.4L46.00 201.4L46.25 208.7L46.50 201.3L46.75 207.0L47.00 199.8L47.25 207.4L47.50 198.8L47.75 208.6L48.00 190.8L48.25 207.6L48.50 194.0L48.75 206.7L49.00 194.3L49.25 208.5L49.50 197.8L49.75 208.9L50.00 202.0L50.25 207.4L50.50 201.4L50.75 206.8L51.00 199.9L51.25 206.2L51.50 198.7L51.75 207.3L52.00 202.4L52.25 206.5L52.50 204.1L52.75 207.4L53.00 198.2L53.25 206.6L53.50 199.6L53.75 209.9L54.00 199.5L54.25 208.3L54.50 199.4L54.75 207.4L55.00 203.7L55.25 208.1L55.50 200.5L55.75 209.8L56.00 198.9L56.25 207.1L56.50 198.5L56.75 208.3L57.00 196.5L57.25 207.1L57.50 195.2L57.75 208.1L58.00 198.4L58.25 207.2L58.50 201.8L58.75 207.4L59.00 197.3L59.25 207.0L59.50 200.1L59.75 209.0L60.00 198.8L60.25 207.1L60.50 194.4L60.75 208.0L61.00 197.0L61.25 207.3L61.50 191.3L61.75 207.0L62.00 199.9L62.25 207.8L62.50 196.8L62.75 208.8L63.00 199.9L63.25 207.2L63.50 201.1L63.75 209.4L64.00 198.8L64.25 206.9L64.50 199.1L64.75 210.1L65.00 198.4L65.25 207.6L65.50 194.9L65.75 208.6L66.00 195.9L66.25 207.8L66.50 192.1L66.75 206.2L67.00 192.6L67.25 209.5L67.50 194.3L67.75 206.1L68.00 196.9L68.25 206.8L68.50 193.5L68.75 206.9L69.00 197.0L69.25 208.8L69.50 191.5L69.75 208.2L70.00 196.7L70.25 205.6L70.50 188.4L70.75 205.1L71.00 188.9L71.25 207.0L71.50 200.2L71.75 205.0L72.00 202.1L72.25 204.7L72.50 198.7L72.75 206.5L73.00 193.4L73.25 205.6L73.50 198.3L73.75 206.1L74.00 192.6L74.25 206.0L74.50 197.0L74.75 205.0L75.00 193.2L75.25 205.2L75.50 196.3L75.75 207.7L76.00 197.5L76.25 206.3L76.50 197.0L76.75 205.6L77.00 193.9L77.25 207.6L77.50 197.8L77.75 207.8L78.00 197.9L78.25 208.6L78.50 201.2L78.75 208.2L79.00 202.3L79.25 209.0L79.50 201.0L79.75 206.1L80.00 201.4L80.25 206.3L80.50 199.3L80.75 206.1L81.00 199.9L81.25 207.9L81.50 200.9L81.75 207.5L82.00 202.1L82.25 210.1L82.50 200.5L82.75 208.3L83.00 202.0L83.25 207.3L83.50 200.8L83.75 207.7L84.00 201.6L84.25 207.0L84.50 202.9L84.75 207.0L85.00 199.3L85.25 207.0L85.50 201.4L85.75 207.9L86.00 199.9L86.25 207.9L86.50 203.1L86.75 207.6L87.00 201.6L87.25 206.7L87.50 200.0L87.75 206.2L88.00 202.3L88.25 206.9L88.50 201.3L88.75 207.3L89.00 198.5L89.25 210.6L89.50 195.2L89.75 207.0L90.00 196.9L90.25 206.9L90.50 197.1L90.75 207.6L91.00 195.8L91.25 208.8L91.50 202.2L91.75 206.3L92.00 198.1L92.25 208.4L92.50 197.0L92.75 208.0L93.00 199.7L93.25 206.9L93.50 197.8L93.75 206.6L94.00 194.5L94.25 206.9L94.50 201.0L94.75 209.8L95.00 196.1L95.25 207.3L95.50 195.1L95.75 208.3L96.00 195.9L96.25 207.3L96.50 199.0L96.75 209.0L97.00 196.9L97.25 206.2L97.50 198.9L97.75 205.9L98.00 191.2L98.25 207.0L98.50 193.5L98.75 205.3L99.00 193.9L99.25 205.2L99.50 196.8L99.75 207.7L100.00 195.1L100.25 207.0L100.50 192.1L100.75 206.5L101.00 194.9L101.25 206.1L101.50 195.6L101.75 207.3L102.00 200.0L102.25 207.1L102.50 202.6L102.75 207.2L103.00 202.1L103.25 208.9L103.50 198.7L103.75 206.8L104.00 194.8L104.25 209.2L104.50 195.1L104.75 209.0L105.00 196.1L105.25 207.1L105.50 194.4L105.75 208.1L106.00 199.3L106.25 207.8L106.50 196.5L106.75 207.5L107.00 198.2L107.25 209.7L107.50 191.0L107.75 209.3L108.00 194.2L108.25 208.4L108.50 195.3L108.75 209.2L109.00 199.5L109.25 207.4L109.50 200.1L109.75 209.9L110.00 197.0L110.25 206.8L110.50 193.4L110.75 208.2L111.00 197.2L111.25 208.9L111.50 198.1L111.75 206.2L112.00 203.5L112.25 206.6L112.50 203.2L112.75 208.6L113.00 203.1L113.25 206.7L113.50 203.8L113.75 208.3L114.00 195.9L114.25 209.8L114.50 197.9L114.75 209.3L115.00 195.4L115.25 206.1L115.50 199.3L115.75 206.3L116.00 192.8L116.25 206.0L116.50 196.3L116.75 206.4L117.00 196.3L117.25 206.6L117.50 193.5L117.75 207.6L118.00 192.6L118.25 205.9L118.50 196.5L118.75 205.6L119.00 198.4L119.25 206.1L119.50 198.2L119.75 205.7L120.00 197.3L120.25 206.3L120.50 201.7L120.75 206.1L121.00 199.6L121.25 206.0L121.50 193.5L121.75 205.9L122.00 198.9L122.25 205.2L122.50 197.6L122.75 206.0L123.00 196.7L123.25 204.3L123.50 199.2L123.75 206.0L124.00 192.4L124.25 204.1L124.50 190.9L124.75 205.5L125.00 190.3L125.25 205.2L125.50 187.6L125.75 206.4L126.00 190.0L126.25 205.4L126.50 195.5L126.75 205.0L127.00 193.6L127.25 204.9L127.50 190.9L127.75 205.5L128.00 198.4L128.25 206.7L128.50 194.3L128.75 204.1L129.00 198.9L129.25 206.7L129.50 197.8L129.75 206.6L130.00 192.6L130.25 206.9L130.50 199.9L130.75 204.3L131.00 199.3L131.25 205.0L131.50 202.0L131.75 206.1L132.00 202.0L132.25 207.4L132.50 202.3L132.75 206.8L133.00 202.7L133.25 206.0L133.50 203.0L133.75 205.5L134.00 201.9L134.25 206.3L134.50 199.6L134.75 206.3L135.00 200.9L135.25 206.9L135.50 203.0L135.75 206.8L136.00 203.4L136.25 208.1L136.50 199.7L136.75 207.0L137.00 198.5L137.25 207.2L137.50 199.3L137.75 207.1L138.00 194.6L138.25 208.8L138.50 192.7L138.75 208.1L139.00 193.2L139.25 207.1L139.50 196.8L139.75 208.8L140.00 196.5L140.25 207.2L140.50 194.6L140.75 208.6L141.00 197.9L141.25 206.8L141.50 202.0L141.75 207.7L142.00 201.1L142.25 207.4L142.50 197.5L142.75 206.9L143.00 199.2L143.25 207.6L143.50 204.5L143.75 207.9L144.00 203.3L144.25 209.2L144.50 202.7L144.75 206.7L145.00 196.5L145.25 207.9L145.50 199.8L145.75 206.3L146.00 197.0L146.25 206.2L146.50 197.1L146.75 208.4L147.00 197.0L147.25 209.0L147.50 199.5L147.75 206.6L148.00 203.4L148.25 206.7L148.50 203.6L148.75 207.7L149.00 203.6L149.25 206.6L149.50 203.1L149.75 206.4L150.00 203.4L150.25 206.9L150.50 203.4L150.75 206.7L151.00 198.6L151.25 207.2L151.50 197.9L151.75 206.6L152.00 198.5L152.25 207.5L152.50 197.1L152.75 207.4L153.00 198.5L153.25 208.1L153.50 202.5L153.75 208.4L154.00 200.2L154.25 206.9L154.50 190.9L154.75 206.3L155.00 188.9L155.25 206.4L155.50 197.4L155.75 207.6L156.00 197.5L156.25 206.2L156.50 198.6L156.75 206.5L157.00 195.6L157.25 205.9L157.50 202.3L157.75 207.0L158.00 198.8L158.25 206.5L158.50 198.5L158.75 206.1L159.00 199.2L159.25 206.7L159.50 197.8L159.75 206.9L160.00 202.9L160.25 207.6L160.50 203.5L160.75 206.3L161.00 203.4L161.25 206.4L161.50 203.2L161.75 206.1L162.00 203.6L162.25 206.7L162.50 203.3L162.75 207.3L163.00 203.2L163.25 206.7L163.50 202.9L163.75 208.7L164.00 203.4L164.25 207.3L164.50 203.1L164.75 207.3L165.00 202.8L165.25 207.0L165.50 203.1L165.75 209.7L166.00 202.8L166.25 210.3L166.50 202.8L166.75 205.9L167.00 200.2L167.25 206.3L167.50 197.2L167.75 205.7L168.00 198.3L168.25 207.7L168.50 196.8L168.75 208.8L169.00 193.0L169.25 205.6L169.50 202.2L169.75 205.5L170.00 199.3L170.25 206.0L170.50 200.8L170.75 205.9L171.00 199.8L171.25 205.8L171.50 199.4L171.75 207.5L172.00 201.3L172.25 207.5L172.50 198.7L172.75 206.0L173.00 194.3L173.25 208.4L173.50 190.1L173.75 207.9L174.00 196.3L174.25 208.5L174.50 193.5L174.75 205.4L175.00 193.1L175.25 205.7L175.50 196.5L175.75 205.8L176.00 191.7L176.25 209.0L176.50 191.8L176.75 206.7L177.00 196.5L177.25 206.0L177.50 195.7L177.75 206.8L178.00 188.3L178.25 206.8L178.50 191.6L178.75 205.7L179.00 195.9L179.25 206.3L179.50 196.4L179.75 207.6L180.00 194.5L180.25 207.8L180.50 197.5L180.75 206.3L181.00 200.2L181.25 206.6L181.50 192.1L181.75 207.4L182.00 199.4L182.25 207.6L182.50 203.6L182.75 207.0L183.00 196.6L183.25 206.6L183.50 197.7L183.75 205.6L184.00 197.5L184.25 206.5L184.50 200.7L184.75 207.1L185.00 199.5L185.25 206.8L185.50 193.7L185.75 206.7L186.00 194.8L186.25 206.7L186.50 197.1L186.75 207.0L187.00 194.1L187.25 208.5L187.50 193.3L187.75 206.5L188.00 192.8L188.25 207.0L188.50 200.3L188.75 206.4L189.00 198.4L189.25 206.8L189.50 192.8L189.75 207.3L190.00 196.2L190.25 206.8L190.50 194.8L190.75 206.5L191.00 200.2L191.25 207.0L191.50 196.6L191.75 207.4L192.00 192.7L192.25 207.4L192.50 195.7L192.75 206.5L193.00 195.9L193.25 206.0L193.50 194.2L193.75 207.7L194.00 194.7L194.25 207.8L194.50 193.3L194.75 206.8L195.00 196.8L195.25 206.8L195.50 197.7L195.75 208.9L196.00 195.9L196.25 206.4L196.50 196.1L196.75 207.9L197.00 197.2L197.25 207.1L197.50 198.2L197.75 206.8L198.00 197.6L198.25 208.3L198.50 197.7L198.75 207.2L199.00 193.9L199.25 211.3L199.50 201.2L199.75 207.5L200.00 203.4L200.25 207.2L200.50 203.5L200.75 207.5L201.00 203.6L201.25 206.5L201.50 203.5L201.75 206.9L202.00 203.1L202.25 206.5L202.50 202.8L202.75 207.4L203.00 202.3L203.25 206.6L203.50 201.2L203.75 208.3L204.00 204.6L204.25 207.9L204.50 200.7L204.75 207.8L205.00 201.4L205.25 207.0L205.50 199.8L205.75 206.7L206.00 200.7L206.25 209.0L206.50 197.0L206.75 208.5L207.00 201.0L207.25 206.8L207.50 203.8L207.75 206.7L208.00 200.5L208.25 206.4L208.50 193.5L208.75 207.0L209.00 196.7L209.25 207.6L209.50 203.0L209.75 207.6L210.00 201.3L210.25 210.5L210.50 203.0L210.75 206.0L211.00 202.9L211.25 207.2L211.50 203.2L211.75 207.4L212.00 203.1L212.25 208.3L212.50 203.4L212.75 206.4L213.00 200.5L213.25 207.1L213.50 197.3L213.75 205.3L214.00 197.7L214.25 208.1L214.50 200.8L214.75 205.6L215.00 197.5L215.25 207.3L215.50 197.6L215.75 207.4L216.00 199.8L216.25 206.2L216.50 200.3L216.75 206.6L217.00 196.5L217.25 207.8L217.50 197.3L217.75 205.9L218.00 199.9L218.25 207.2L218.50 200.0L218.75 206.6L219.00 200.3L219.25 208.0L219.50 199.2L219.75 206.0L220.00 198.4L220.25 207.0L220.50 194.7L220.75 206.2L221.00 199.0L221.25 208.5L221.50 199.6L221.75 207.8L222.00 200.4L222.25 209.6L222.50 201.2L222.75 206.0L223.00 203.5L223.25 207.3L223.50 203.3L223.75 208.9L224.00 203.1L224.25 206.3L224.50 203.6L224.75 207.9L225.00 202.8L225.25 207.3L225.50 201.1L225.75 208.3L226.00 199.6L226.25 207.3L226.50 197.9L226.75 209.0L227.00 198.5L227.25 208.0L227.50 197.3L227.75 208.2L228.00 200.1L228.25 206.8L228.50 203.7L228.75 206.4L229.00 198.9L229.25 206.5L229.50 201.2L229.75 209.8L230.00 201.4L230.25 206.8L230.50 201.5L230.75 206.6L231.00 202.5L231.25 208.5L231.50 201.6L231.75 206.2L232.00 202.5L232.25 207.6L232.50 201.2L232.75 209.3L233.00 199.2L233.25 208.3L233.50 196.3L233.75 206.4L234.00 196.3L234.25 210.0L234.50 198.5L234.75 206.8L235.00 200.2L235.25 209.5L235.50 202.2L235.75 207.2L236.00 199.7L236.25 208.7L236.50 197.4L236.75 206.3L237.00 199.8L237.25 207.3L237.50 197.8L237.75 208.1L238.00 202.0L238.25 206.5L238.50 202.2L238.75 206.4L239.00 203.2L239.25 206.1L239.50 203.5L239.75 205.7L240.00 203.0L240.25 207.7L240.50 203.2L240.75 207.8L241.00 203.3L241.25 206.4L241.50 202.4L241.75 205.7L242.00 196.6L242.25 206.1L242.50 195.7L242.75 208.2L243.00 198.8L243.25 205.7L243.50 193.0L243.75 206.1L244.00 199.7L244.25 205.6L244.50 194.6L244.75 207.2L245.00 195.3L245.25 206.1L245.50 194.6L245.75 205.6L246.00 195.4L246.25 206.4L246.50 191.4L246.75 207.7L247.00 188.5L247.25 208.4L247.50 196.5L247.75 208.4L248.00 196.7L248.25 207.3L248.50 196.0L248.75 205.2L249.00 197.1L249.25 207.7L249.50 196.3L249.75 207.5L250.00 191.8L250.25 205.4L250.50 196.6L250.75 205.3L251.00 197.5L251.25 206.7L251.50 199.2L251.75 208.0L252.00 199.4L252.25 205.2L252.50 202.0L252.75 205.5L253.00 201.9L253.25 207.2L253.50 197.3L253.75 206.6L254.00 196.2L254.25 205.6L254.50 200.3L254.75 204.8L255.00 201.2L255.25 205.1L255.50 196.2L255.75 205.6L256.00 193.5L256.25 204.6L256.50 197.6L256.75 206.3L257.00 199.7L257.25 204.7L257.50 200.8L257.75 205.2L258.00 196.0L258.25 207.0L258.50 198.7L258.75 208.2L259.00 198.8L259.25 206.4L259.50 199.7L259.75 206.4L260.00 199.9L260.25 205.7L260.50 199.5L260.75 205.1L261.00 202.4L261.25 206.9L261.50 200.8L261.75 205.4L262.00 200.2L262.25 207.8L262.50 199.7L262.75 206.7L263.00 197.1L263.25 205.7L263.50 202.1L263.75 205.8L264.00 201.4L264.25 207.2L264.50 195.1L264.75 205.7L265.00 198.8L265.25 207.4L265.50 189.1L265.75 205.1L266.00 191.6L266.25 206.2L266.50 193.5L266.75 204.7L267.00 192.2L267.25 204.9L267.50 196.9L267.75 205.7L268.00 196.3L268.25 204.4L268.50 196.9L268.75 206.2L269.00 201.4L269.25 205.5L269.50 200.5L269.75 205.3L270.00 199.6L270.25 205.5L270.50 195.2L270.75 204.8L271.00 194.3L271.25 204.8L271.50 195.0L271.75 205.2L272.00 198.8L272.25 206.1L272.50 199.3L272.75 207.2L273.00 195.1L273.25 207.2L273.50 196.0L273.75 205.8L274.00 191.3L274.25 206.6L274.50 196.5L274.75 206.4L275.00 197.7L275.25 206.5L275.50 199.9L275.75 205.8L276.00 202.9L276.25 206.2L276.50 201.6L276.75 206.0L277.00 191.2L277.25 207.5L277.50 199.2L277.75 207.3L278.00 198.8L278.25 207.0L278.50 203.8L278.75 207.9L279.00 200.0L279.25 206.7L279.50 200.5L279.75 207.3L280.00 200.3L280.25 207.9L280.50 196.7L280.75 207.0L281.00 195.3L281.25 207.4L281.50 194.8L281.75 206.5L282.00 197.4L282.25 206.8L282.50 201.7L282.75 206.9L283.00 203.6L283.25 207.3L283.50 199.9L283.75 209.7L284.00 191.5L284.25 208.0L284.50 193.6L284.75 206.4L285.00 197.0L285.25 207.1L285.50 193.3L285.75 207.0L286.00 197.0L286.25 206.7L286.50 189.9L286.75 207.4L287.00 192.1L287.25 206.3L287.50 196.0L287.75 206.3L288.00 196.0L288.25 207.3L288.50 198.9L288.75 207.5L289.00 194.3L289.25 209.2L289.50 195.8L289.75 207.8L290.00 196.5L290.25 206.3L290.50 195.7L290.75 207.1L291.00 196.7L291.25 206.4L291.50 193.2L291.75 205.2L292.00 193.7L292.25 204.7L292.50 189.8L292.75 204.7L293.00 197.0L293.25 207.4L293.50 199.8L293.75 204.9L294.00 194.0L294.25 206.4L294.50 194.1L294.75 206.1L295.00 194.3L295.25 204.9L295.50 194.9L295.75 206.1L296.00 193.4L296.25 205.4L296.50 199.2L296.75 207.8L297.00 202.6L297.25 207.4L297.50 202.4L297.75 205.5L298.00 197.9L298.25 206.4L298.50 196.8L298.75 206.6L299.00 202.3L299.25 206.6L299.50 201.3L299.75 205.4L300.00 203.0L300.25 208.5L300.50 200.6L300.75 206.3L301.00 200.1L301.25 206.2L301.50 200.5L301.75 206.8L302.00 193.5L302.25 207.3L302.50 196.9L302.75 207.7L303.00 195.0L303.25 206.0L303.50 195.5L303.75 205.3L304.00 193.5L304.25 206.1L304.50 194.7L304.75 205.3L305.00 196.1L305.25 208.6L305.50 200.2L305.75 206.0L306.00 202.6L306.25 207.4L306.50 198.4L306.75 207.2L307.00 198.4L307.25 206.0L307.50 189.8L307.75 205.6L308.00 189.4L308.25 205.9L308.50 196.8L308.75 205.9L309.00 197.9L309.25 207.5L309.50 199.1L309.75 205.6L310.00 199.5L310.25 206.8L310.50 200.9L310.75 206.2L311.00 201.7L311.25 206.3L311.50 202.5L311.75 206.4L312.00 201.0L312.25 206.2L312.50 199.8L312.75 206.2L313.00 196.4L313.25 206.5L313.50 193.3L313.75 207.5L314.00 196.5L314.25 205.9L314.50 197.3L314.75 206.4L315.00 197.9L315.25 206.7L315.50 199.9L315.75 205.8L316.00 203.3L316.25 207.2L316.50 201.6L316.75 207.5L317.00 203.3L317.25 206.3L317.50 201.2L317.75 205.7L318.00 200.5L318.25 206.3L318.50 203.3L318.75 208.3L319.00 201.6L319.25 205.7L319.50 201.7L319.75 206.4L320.00 196.3L320.25 207.5L320.50 197.7L320.75 206.2L321.00 195.9L321.25 207.1L321.50 201.5L321.75 205.8L322.00 198.9L322.25 206.4L322.50 198.7L322.75 207.2L323.00 201.1L323.25 206.9L323.50 197.5L323.75 206.7L324.00 200.9L324.25 207.4L324.50 203.0L324.75 206.3L325.00 200.4L325.25 207.5L325.50 196.1L325.75 206.0L326.00 191.8L326.25 208.1L326.50 196.6L326.75 205.6L327.00 193.4L327.25 207.2L327.50 198.3L327.75 207.2L328.00 198.8L328.25 207.2L328.50 198.4L328.75 208.9L329.00 198.0L329.25 208.8L329.50 197.8L329.75 208.3L330.00 197.3L330.25 206.8L330.50 196.0L330.75 208.6L331.00 197.7L331.25 207.3L331.50 196.6L331.75 207.7L332.00 197.3L332.25 207.6L332.50 191.2L332.75 206.9L333.00 193.2L333.25 208.0L333.50 190.9L333.75 207.8L334.00 191.9L334.25 206.6L334.50 197.8L334.75 206.6L335.00 195.8L335.25 207.0L335.50 200.2L335.75 205.9L336.00 202.2L336.25 205.5L336.50 200.3L336.75 205.6L337.00 198.5L337.25 205.5L337.50 193.3L337.75 205.4L338.00 197.3L338.25 207.8L338.50 199.0L338.75 206.8L339.00 200.2L339.25 205.8L339.50 198.4L339.75 205.4L340.00 198.5L340.25 205.6L340.50 192.4L340.75 205.4L341.00 195.8L341.25 205.6L341.50 193.0L341.75 204.8L342.00 190.6L342.25 205.5L342.50 199.1L342.75 206.5L343.00 200.1L343.25 205.1L343.50 200.7L343.75 206.2L344.00 198.9L344.25 207.2L344.50 201.0L344.75 205.5L345.00 199.4L345.25 205.1L345.50 202.4L345.75 207.1L346.00 199.2L346.25 204.8L346.50 202.2L346.75 206.2L347.00 202.3L347.25 204.9L347.50 200.1L347.75 206.1L348.00 199.2L348.25 206.0L348.50 200.3L348.75 205.6L349.00 199.8L349.25 207.2L349.50 199.2L349.75 206.8L350.00 196.6L350.25 206.0L350.50 197.2L350.75 206.6L351.00 194.0L351.25 206.5L351.50 191.4L351.75 208.0L352.00 196.7L352.25 206.5L352.50 196.2L352.75 208.5L353.00 197.6L353.25 207.6L353.50 195.3L353.75 206.2L354.00 195.0L354.25 207.0L354.50 200.9L354.75 207.2L355.00 200.9L355.25 208.6L355.50 200.6L355.75 207.7L356.00 203.7L356.25 206.2L356.50 203.6L356.75 207.3L357.00 201.0L357.25 206.1L357.50 202.6L357.75 207.2L358.00 203.4L358.25 206.7L358.50 202.1L358.75 206.5L359.00 202.3L359.25 206.4L359.50 201.5L359.75 209.2L360.00 198.9L360.25 206.8L360.50 192.4L360.75 206.0L361.00 199.9L361.25 207.9L361.50 198.2L361.75 207.9L362.00 198.7L362.25 207.5L362.50 204.1L362.75 207.4L363.00 203.9L363.25 207.2L363.50 204.3L363.75 208.3L364.00 203.8L364.25 207.9L364.50 201.5L364.75 208.8L365.00 202.5L365.25 207.3L365.50 195.2L365.75 207.4L366.00 199.7L366.25 207.7L366.50 204.7L366.75 209.8L367.00 201.7L367.25 208.3L367.50 196.9L367.75 207.3L368.00 201.5L368.25 209.9L368.50 203.5L368.75 207.1L369.00 203.0L369.25 206.3L369.50 198.8L369.75 207.0L370.00 202.1L370.25 208.4L370.50 192.8L370.75 207.1L371.00 199.6L371.25 206.7L371.50 199.6L371.75 207.5L372.00 202.7L372.25 207.0L372.50 202.9L372.75 208.2L373.00 199.9L373.25 207.5L373.50 203.0L373.75 206.2L374.00 200.8L374.25 205.5L374.50 202.6L374.75 205.7L375.00 201.5L375.25 207.2L375.50 199.9L375.75 207.9L376.00 202.4L376.25 207.8L376.50 202.6L376.75 205.8L377.00 202.2L377.25 205.0L377.50 202.1L377.75 205.3L378.00 196.2L378.25 204.9L378.50 197.8L378.75 204.5L379.00 193.3L379.25 204.9L379.50 200.0L379.75 205.0L380.00 191.8L380.25 205.8L380.50 192.1L380.75 205.5L381.00 198.3L381.25 205.8L381.50 194.7L381.75 204.8L382.00 188.2L382.25 204.7L382.50 190.7L382.75 206.6L383.00 189.7L383.25 204.3L383.50 193.4L383.75 206.0L384.00 188.7L384.25 204.7L384.50 192.7L384.75 205.6L385.00 198.2L385.25 205.3L385.50 199.7L385.75 206.3L386.00 201.3L386.25 205.3L386.50 194.7L386.75 205.8L387.00 189.8L387.25 205.7L387.50 193.1L387.75 205.0L388.00 192.7L388.25 204.8L388.50 194.9L388.75 205.1L389.00 197.2L389.25 207.5L389.50 199.4L389.75 205.6L390.00 196.5L390.25 204.7L390.50 197.0L390.75 204.1L391.00 195.2L391.25 204.9L391.50 195.0L391.75 205.0L392.00 194.3L392.25 204.5L392.50 191.8L392.75 206.4L393.00 196.9L393.25 203.8L393.50 192.7L393.75 203.2L394.00 186.4L394.25 205.0L394.50 194.9L394.75 204.4L395.00 195.6L395.25 203.8L395.50 192.6L395.75 203.5L396.00 195.3L396.25 204.3L396.50 192.9L396.75 203.6L397.00 187.1L397.25 205.6L397.50 189.0L397.75 205.3L398.00 194.2L398.25 205.4L398.50 194.9L398.75 204.9L399.00 192.9L399.25 203.6L399.50 193.1L399.75 205.0L400.00 192.9L400.25 205.5L400.50 195.7L400.75 203.8L401.00 197.2L401.25 204.6L401.50 199.7L401.75 205.1L402.00 194.9L402.25 206.2L402.50 200.2L402.75 208.6L403.00 197.5L403.25 206.4L403.50 196.0L403.75 205.1L404.00 200.5L404.25 205.4L404.50 198.5L404.75 205.0L405.00 199.3L405.25 204.7L405.50 200.7L405.75 204.2L406.00 198.6L406.25 206.0L406.50 196.4L406.75 206.5L407.00 195.3L407.25 206.1L407.50 195.7L407.75 208.1L408.00 199.6L408.25 205.3L408.50 197.5L408.75 206.8L409.00 197.0L409.25 208.7L409.50 202.1L409.75 208.2L410.00 202.7L410.25 207.2L410.50 200.1L410.75 206.3L411.00 200.2L411.25 207.6L411.50 195.3L411.75 207.0L412.00 192.2L412.25 206.1L412.50 195.5L412.75 206.4L413.00 201.7L413.25 205.2L413.50 200.3L413.75 206.2L414.00 201.4L414.25 209.5L414.50 201.2L414.75 206.7L415.00 203.1L415.25 207.1L415.50 199.8L415.75 209.2L416.00 201.8L416.25 205.4L416.50 196.2L416.75 205.7L417.00 198.2L417.25 205.3L417.50 192.5L417.75 207.1L418.00 196.3L418.25 206.5L418.50 196.3L418.75 207.4L419.00 199.5L419.25 205.1L419.50 198.7L419.75 207.0L420.00 192.6L420.25 205.7L420.50 195.1L420.75 205.1L421.00 192.8L421.25 204.9L421.50 192.4L421.75 206.7L422.00 193.8L422.25 206.2L422.50 194.5L422.75 207.8L423.00 192.8L423.25 204.6L423.50 189.6L423.75 204.7L424.00 192.2L424.25 206.9L424.50 192.0L424.75 205.4L425.00 194.6L425.25 204.7L425.50 195.1L425.75 205.2L426.00 194.1L426.25 205.7L426.50 194.9L426.75 206.7L427.00 192.5L427.25 206.3L427.50 198.1L427.75 204.3L428.00 201.6L428.25 206.9L428.50 200.1L428.75 208.0L429.00 201.5L429.25 205.7L429.50 198.6L429.75 204.7L430.00 200.4L430.25 205.3L430.50 201.5L430.75 207.5L431.00 200.2L431.25 207.1L431.50 201.8L431.75 205.3L432.00 200.8L432.25 208.2L432.50 198.4L432.75 207.2L433.00 197.4L433.25 207.7L433.50 202.6L433.75 205.9L434.00 202.4L434.25 207.4L434.50 199.4L434.75 207.6L435.00 200.8L435.25 205.9L435.50 202.9L435.75 207.5L436.00 202.7L436.25 207.0L436.50 202.1L436.75 206.5L437.00 202.7L437.25 206.0L437.50 203.0L437.75 207.1L438.00 202.7L438.25 205.8L438.50 202.1L438.75 205.6L439.00 202.4L439.25 205.4L439.50 201.9L439.75 205.7L440.00 202.1L440.25 206.4L440.50 202.6L440.75 205.8L441.00 202.4L441.25 207.5L441.50 196.3L441.75 205.5L442.00 197.9L442.25 204.8L442.50 198.3L442.75 207.7L443.00 197.0L443.25 207.7L443.50 190.8L443.75 205.6L444.00 194.4L444.25 206.3L444.50 196.0L444.75 206.4L445.00 198.7L445.25 206.1L445.50 199.1L445.75 205.6L446.00 194.9L446.25 206.3L446.50 193.6L446.75 204.4L447.00 190.6L447.25 205.9L447.50 191.5L447.75 204.5L448.00 198.5L448.25 205.0L448.50 200.5L448.75 204.9L449.00 190.0L449.25 204.1L449.50 193.5L449.75 205.6L450.00 191.8L450.25 204.3L450.50 190.9L450.75 206.2L451.00 197.8L451.25 205.5L451.50 202.0L451.75 206.5L452.00 202.8L452.25 208.5L452.50 202.6L452.75 206.3L453.00 202.9L453.25 205.7L453.50 198.0L453.75 206.1L454.00 193.5L454.25 207.2L454.50 202.9L454.75 206.1L455.00 200.0L455.25 205.4L455.50 202.5L455.75 206.4L456.00 202.7L456.25 206.2L456.50 202.0L456.75 205.5L457.00 196.4L457.25 208.0L457.50 193.7L457.75 207.8L458.00 196.0L458.25 208.3L458.50 199.0L458.75 206.2L459.00 203.3L459.25 208.7L459.50 202.7L459.75 207.2L460.00 201.2L460.25 207.0L460.50 200.3L460.75 207.8L461.00 192.6L461.25 208.1L461.50 193.0L461.75 207.3L462.00 196.7L462.25 207.1L462.50 194.3L462.75 207.6L463.00 194.9L463.25 207.8L463.50 197.5L463.75 207.1L464.00 199.8L464.25 208.0L464.50 197.6L464.75 210.0L465.00 198.2L465.25 207.6L465.50 199.8L465.75 207.1L466.00 201.0L466.25 208.1L466.50 200.8L466.75 208.1L467.00 200.4L467.25 207.0L467.50 199.9L467.75 206.7L468.00 203.0L468.25 209.0L468.50 204.1L468.75 207.3L469.00 202.0L469.25 208.3L469.50 197.8L469.75 206.8L470.00 202.8L470.25 206.5L470.50 200.4L470.75 208.1L471.00 192.6L471.25 208.3L471.50 196.2L471.75 207.2L472.00 193.1L472.25 206.6L472.50 195.9L472.75 206.6L473.00 193.1L473.25 206.1L473.50 191.3L473.75 206.1L474.00 195.0L474.25 206.4L474.50 194.6L474.75 205.9L475.00 196.3L475.25 206.4L475.50 195.6L475.75 207.4L476.00 196.7L476.25 207.2L476.50 199.3L476.75 207.8L477.00 199.3L477.25 207.3L477.50 203.3L477.75 206.2L478.00 201.4L478.25 206.5L478.50 201.0L478.75 206.4L479.00 202.5L479.25 206.9L479.50 200.8L479.75 209.0L480.00 200.3L480.25 206.5L480.50 196.6L480.75 208.4L481.00 198.6L481.25 207.5L481.50 198.5L481.75 208.6L482.00 197.0L482.25 208.6L482.50 194.0L482.75 208.4L483.00 196.8L483.25 207.7L483.50 199.5L483.75 206.6L484.00 201.0L484.25 206.3L484.50 199.9L484.75 206.7L485.00 196.3L485.25 206.7L485.50 199.4L485.75 207.5L486.00 196.8L486.25 208.8L486.50 192.7L486.75 207.0L487.00 198.6L487.25 206.0L487.50 200.1L487.75 207.1L488.00 197.4L488.25 205.9L488.50 197.5L488.75 207.9L489.00 196.8L489.25 208.0L489.50 192.0L489.75 206.6L490.00 200.1L490.25 206.4L490.50 194.3L490.75 205.9L491.00 200.8L491.25 206.5L491.50 197.2L491.75 206.7L492.00 200.7L492.25 206.1L492.50 196.7L492.75 207.4L493.00 193.8L493.25 207.5L493.50 193.7L493.75 206.8L494.00 197.1L494.25 205.4L494.50 196.6L494.75 207.0L495.00 196.2L495.25 208.6L495.50 194.5L495.75 205.9L496.00 198.3L496.25 207.7L496.50 194.1L496.75 205.6L497.00 197.5L497.25 206.3L497.50 199.3L497.75 205.3L498.00 196.0L498.25 206.3L498.50 189.8L498.75 206.9L499.00 196.9L499.25 205.7L499.50 203.0L499.75 205.5L500.00 202.7L500.25 205.9L500.50 202.8L500.75 205.7L501.00 199.6L501.25 205.2L501.50 195.0L501.75 205.6L502.00 192.3L502.25 205.1L502.50 194.5L502.75 206.3L503.00 195.1L503.25 207.1L503.50 191.6L503.75 207.8L504.00 195.4L504.25 206.9L504.50 193.2L504.75 205.3L505.00 192.8L505.25 207.5L505.50 195.4L505.75 205.6L506.00 189.6L506.25 206.7L506.50 191.0L506.75 205.8L507.00 196.8L507.25 207.5L507.50 196.4L507.75 206.7L508.00 191.6L508.25 205.2L508.50 198.8L508.75 207.5L509.00 196.2L509.25 207.4L509.50 202.7L509.75 207.4L510.00 201.2L510.25 205.5L510.50 199.9L510.75 205.9L511.00 194.5L511.25 205.5L511.50 196.6L511.75 206.1L512.00 191.7L512.25 207.6L512.50 195.1L512.75 206.0L513.00 196.5L513.25 207.3L513.50 196.5L513.75 206.3L514.00 199.0L514.25 208.1L514.50 196.2L514.75 209.2L515.00 202.1L515.25 206.5L515.50 202.6L515.75 206.8L516.00 200.8L516.25 207.9L516.50 197.0L516.75 208.6L517.00 198.7L517.25 206.5L517.50 200.5L517.75 206.3L518.00 198.4L518.25 208.2L518.50 200.8L518.75 207.8L519.00 193.1L519.25 206.8L519.50 196.5L519.75 206.2L520.00 202.5L520.25 207.0L520.50 198.0L520.75 205.6L521.00 202.7L521.25 207.0L521.50 202.4L521.75 205.2L522.00 197.7L522.25 206.1L522.50 196.7L522.75 205.9L523.00 191.0L523.25 204.8L523.50 197.2L523.75 204.2L524.00 196.8L524.25 206.4L524.50 199.4L524.75 204.0L525.00 201.2L525.25 204.7L525.50 197.7L525.75 205.6L526.00 198.0L526.25 204.1L526.50 194.8L526.75 204.2L527.00 196.1L527.25 204.1L527.50 189.3L527.75 204.2L528.00 195.2L528.25 204.9L528.50 191.3L528.75 205.6L529.00 195.4L529.25 204.5L529.50 191.4L529.75 206.2L530.00 196.4L530.25 204.1L530.50 192.5L530.75 206.1L531.00 198.8L531.25 206.4L531.50 201.7L531.75 206.3L532.00 200.9L532.25 204.2L532.50 199.3L532.75 203.5L533.00 197.4L533.25 204.8L533.50 199.1L533.75 204.2L534.00 199.0L534.25 204.7L534.50 200.6L534.75 204.5L535.00 195.0L535.25 204.1L535.50 196.5L535.75 205.0L536.00 196.4L536.25 203.4L536.50 192.7L536.75 203.5L537.00 191.5L537.25 203.5L537.50 194.4L537.75 204.3L538.00 194.1L538.25 203.5L538.50 191.2L538.75 204.4L539.00 191.1L539.25 205.5L539.50 194.6L539.75 206.4L540.00 193.6L540.25 206.2L540.50 194.6L540.75 205.6L541.00 190.1L541.25 205.3L541.50 193.7L541.75 205.2L542.00 197.8L542.25 206.3L542.50 194.7L542.75 204.0L543.00 198.1L543.25 204.4L543.50 198.2L543.75 206.4L544.00 195.7L544.25 206.0L544.50 193.1L544.75 204.0L545.00 197.0" fill="none" stroke="#000" stroke-width="0.8"/>
<path d="M545.00 203.2L545.25 202.1L545.50 197.1L545.75 202.0L546.00 208.3L546.25 207.4L546.50 199.5L546.75 204.1L547.00 206.8L547.25 196.8L547.50 204.1L547.75 204.7L548.00 203.7L548.25 204.6L548.50 194.8L548.75 192.5L549.00 211.6L549.25 202.1L549.50 209.2L549.75 209.8L550.00 204.3L550.25 197.7L550.50 209.1L550.75 203.5L551.00 205.6L551.25 205.8L551.50 207.9L551.75 208.4L552.00 196.9L552.25 194.0L552.50 203.1L552.75 203.3L553.00 207.0L553.25 202.9L553.50 202.4L553.75 212.9L554.00 210.7L554.25 209.4L554.50 208.7L554.75 199.8L555.00 199.6L555.25 202.9L555.50 197.9L555.75 198.6L556.00 203.8L556.25 197.8L556.50 202.2L556.75 206.1L557.00 198.8L557.25 202.1L557.50 206.6L557.75 206.6L558.00 206.2L558.25 198.4L558.50 195.7L558.75 213.2L559.00 201.9L559.25 202.2L559.50 192.0L559.75 199.4L560.00 200.1L560.25 207.6L560.50 192.0L560.75 196.4L561.00 201.6L561.25 201.8L561.50 200.5L561.75 202.0L562.00 196.6L562.25 204.9L562.50 210.3L562.75 205.9L563.00 202.3L563.25 210.5L563.50 207.8L563.75 200.3L564.00 201.7L564.25 201.7L564.50 204.4L564.75 210.7L565.00 202.2L565.25 204.0L565.50 205.4L565.75 199.3L566.00 202.2L566.25 207.7L566.50 210.8L566.75 196.6L567.00 207.7L567.25 204.3L567.50 211.7L567.75 209.4L568.00 216.0L568.25 208.8L568.50 205.0L568.75 202.7L569.00 199.8L569.25 209.1L569.50 210.1L569.75 211.9L570.00 210.1L570.25 200.7L570.50 201.4L570.75 205.7L571.00 207.6L571.25 210.4L571.50 213.5L571.75 208.0L572.00 195.9L572.25 199.5L572.50 194.1L572.75 199.8L573.00 198.1L573.25 204.6L573.50 203.0L573.75 208.8L574.00 209.0L574.25 201.6L574.50 207.7L574.75 203.9L575.00 205.7L575.25 210.1L575.50 198.6L575.75 202.6L576.00 210.8L576.25 197.8L576.50 202.3L576.75 204.1L577.00 201.6L577.25 197.1L577.50 199.6L577.75 198.4L578.00 206.3L578.25 205.1L578.50 207.0L578.75 198.2L579.00 205.5L579.25 204.5L579.50 208.7L579.75 198.6L580.00 207.2L580.25 210.5L580.50 213.1L580.75 200.2L581.00 197.8L581.25 195.9L581.50 207.3L581.75 206.6L582.00 205.3L582.25 199.4L582.50 209.0L582.75 211.6L583.00 204.1L583.25 203.0L583.50 209.1L583.75 206.3L584.00 210.2L584.25 202.3L584.50 205.0L584.75 202.0L585.00 200.6L585.25 201.9L585.50 202.1L585.75 205.9L586.00 202.5L586.25 203.9L586.50 199.8L586.75 195.4L587.00 210.0L587.25 199.8L587.50 212.3L587.75 205.2L588.00 193.4L588.25 199.7L588.50 201.4L588.75 203.7L589.00 203.0L589.25 201.2L589.50 210.0L589.75 204.4L590.00 205.3L590.25 201.7L590.50 201.0L590.75 210.5L591.00 203.8L591.25 199.3L591.50 203.4L591.75 209.6L592.00 204.4L592.25 201.2L592.50 207.4L592.75 209.7L593.00 204.3L593.25 203.2L593.50 203.0L593.75 217.6L594.00 205.3L594.25 213.2L594.50 204.9L594.75 206.9L595.00 195.3L595.25 205.0L595.50 205.4L595.75 203.8L596.00 203.2L596.25 198.7L596.50 197.7L596.75 205.6L597.00 202.5L597.25 205.0L597.50 205.0L597.75 203.6L598.00 202.5L598.25 214.8L598.50 198.4L598.75 203.5L599.00 204.9L599.25 201.0L599.50 201.6L599.75 210.5L600.00 211.9L600.25 208.3L600.50 223.1L600.75 212.5L601.00 213.1L601.25 202.7L601.50 210.3L601.75 213.5L602.00 203.4L602.25 212.3L602.50 200.4L602.75 197.3L603.00 201.6L603.25 198.0L603.50 203.9L603.75 195.8L604.00 200.1L604.25 190.9L604.50 199.2L604.75 205.3L605.00 199.8L605.25 201.9L605.50 206.0L605.75 195.9L606.00 194.0L606.25 200.3L606.50 201.8L606.75 195.7L607.00 195.6L607.25 205.7L607.50 195.4L607.75 196.2L608.00 200.0L608.25 203.7L608.50 198.6L608.75 196.4L609.00 209.9L609.25 197.4L609.50 204.1L609.75 200.2L610.00 198.3L610.25 200.1L610.50 199.3L610.75 201.9L611.00 185.5L611.25 199.3L611.50 200.9L611.75 196.3L612.00 198.6L612.25 211.9L612.50 211.1L612.75 205.3L613.00 203.0L613.25 200.3L613.50 208.3L613.75 198.3L614.00 197.9L614.25 205.0L614.50 197.9L614.75 198.2L615.00 209.0L615.25 195.5L615.50 201.6L615.75 200.9L616.00 204.1L616.25 196.3L616.50 201.6L616.75 201.7L617.00 212.7L617.25 209.2L617.50 200.4L617.75 207.3L618.00 206.9L618.25 203.2L618.50 202.2L618.75 201.9L619.00 195.8L619.25 199.6L619.50 207.4L619.75 210.4L620.00 212.8L620.25 202.3L620.50 206.1L620.75 192.1L621.00 200.8L621.25 196.9L621.50 206.5L621.75 195.5L622.00 197.5L622.25 197.5L622.50 204.5L622.75 207.2L623.00 199.2L623.25 211.2L623.50 204.7L623.75 199.1L624.00 204.3L624.25 200.1L624.50 206.9L624.75 204.8L625.00 213.4L625.25 209.1L625.50 200.0L625.75 206.0L626.00 206.5L626.25 198.0L626.50 198.2L626.75 198.0L627.00 189.8L627.25 203.8L627.50 201.2L627.75 207.8L628.00 199.8L628.25 202.1L628.50 205.5L628.75 206.9L629.00 203.9L629.25 197.2L629.50 212.1L629.75 207.0L630.00 208.9L630.25 210.2L630.50 209.4L630.75 204.5L631.00 204.3L631.25 204.8L631.50 194.6L631.75 204.6L632.00 197.1L632.25 202.8L632.50 196.7L632.75 204.4L633.00 199.4L633.25 213.0L633.50 203.4L633.75 203.9L634.00 197.2L634.25 199.5L634.50 200.8L634.75 200.0L635.00 195.5L635.25 197.0L635.50 204.6L635.75 199.9L636.00 197.3L636.25 202.7L636.50 197.6L636.75 200.1L637.00 198.8L637.25 196.6L637.50 199.6L637.75 197.1L638.00 194.7L638.25 202.1L638.50 199.7L638.75 193.8L639.00 198.3L639.25 201.4L639.50 202.9L639.75 202.9L640.00 202.4L640.25 203.8L640.50 196.9L640.75 193.8L641.00 203.4L641.25 199.2L641.50 200.7L641.75 202.2L642.00 205.6L642.25 207.0L642.50 198.2L642.75 198.9L643.00 203.4L643.25 194.8L643.50 195.1L643.75 204.3L644.00 199.9L644.25 198.5L644.50 207.0L644.75 206.8L645.00 209.2L645.25 203.7L645.50 203.8L645.75 204.0L646.00 207.6L646.25 197.1L646.50 202.7L646.75 210.4L647.00 204.5L647.25 207.6L647.50 209.0L647.75 211.4L648.00 207.2L648.25 203.2L648.50 220.1L648.75 205.9L649.00 215.8L649.25 200.0L649.50 207.0L649.75 206.0L650.00 215.7L650.25 216.9L650.50 211.8L650.75 201.3L651.00 200.9L651.25 201.0L651.50 201.8L651.75 205.3L652.00 200.5L652.25 202.4L652.50 210.6L652.75 210.9L653.00 192.3L653.25 197.6L653.50 200.7L653.75 208.9L654.00 202.1L654.25 211.9L654.50 203.3L654.75 210.0L655.00 199.4L655.25 200.9L655.50 207.4L655.75 205.8L656.00 194.0L656.25 200.5L656.50 203.3L656.75 205.5L657.00 199.7L657.25 210.5L657.50 204.1L657.75 209.4L658.00 205.0L658.25 202.7L658.50 200.6L658.75 196.3L659.00 205.4L659.25 205.7L659.50 202.6L659.75 200.2L660.00 196.5L660.25 199.1L660.50 199.8L660.75 201.3L661.00 206.2L661.25 197.6L661.50 198.7L661.75 204.4L662.00 205.9L662.25 212.2L662.50 205.0L662.75 197.5L663.00 195.8L663.25 196.8L663.50 201.0L663.75 202.2L664.00 200.7L664.25 197.9L664.50 199.8L664.75 200.5L665.00 203.7L665.25 201.5L665.50 197.0L665.75 193.0L666.00 207.1L666.25 200.7L666.50 199.7L666.75 200.2L667.00 205.8L667.25 199.2L667.50 200.7L667.75 198.9L668.00 202.6L668.25 195.3L668.50 200.3L668.75 204.6L669.00 206.0L669.25 203.3L669.50 201.5L669.75 207.3L670.00 203.9L670.25 206.7L670.50 194.7L670.75 194.0L671.00 199.1L671.25 198.6L671.50 197.3L671.75 191.1L672.00 206.1L672.25 194.3L672.50 199.4L672.75 192.9L673.00 198.1L673.25 210.0L673.50 212.2L673.75 198.5L674.00 194.7L674.25 206.8L674.50 196.2L674.75 190.7L675.00 200.3L675.25 194.4L675.50 192.0L675.75 204.0L676.00 196.5L676.25 194.0L676.50 199.6L676.75 198.5L677.00 204.7L677.25 200.3L677.50 207.2L677.75 205.5L678.00 208.4L678.25 205.5L678.50 200.4L678.75 199.1L679.00 199.9L679.25 187.8L679.50 193.2L679.75 202.3L680.00 185.8L680.25 194.4L680.50 192.8L680.75 198.5L681.00 194.5L681.25 200.1L681.50 198.7L681.75 197.2L682.00 195.2L682.25 188.6L682.50 198.8L682.75 193.3L683.00 197.6L683.25 201.2L683.50 204.8L683.75 203.6L684.00 207.2L684.25 193.8L684.50 202.4L684.75 207.4L685.00 202.4L685.25 194.8L685.50 201.2L685.75 197.4L686.00 196.4L686.25 204.3L686.50 199.4L686.75 194.5L687.00 193.0L687.25 208.6L687.50 196.8L687.75 202.8L688.00 201.1L688.25 205.5L688.50 199.3L688.75 195.5L689.00 196.5L689.25 194.8L689.50 211.8L689.75 201.9L690.00 198.6L690.25 205.4L690.50 203.5L690.75 199.4L691.00 202.8L691.25 201.3L691.50 205.2L691.75 208.0L692.00 199.1L692.25 199.5L692.50 198.8L692.75 205.3L693.00 202.0L693.25 203.5L693.50 204.5L693.75 197.2L694.00 200.2L694.25 206.3L694.50 204.9L694.75 204.3L695.00 199.2L695.25 198.4L695.50 195.9L695.75 198.5L696.00 199.8L696.25 193.5L696.50 201.1L696.75 197.3L697.00 201.2L697.25 203.2L697.50 198.0L697.75 191.6L698.00 204.1L698.25 202.7L698.50 199.4L698.75 205.5L699.00 205.1L699.25 196.2L699.50 199.5L699.75 191.9L700.00 198.2L700.25 206.8L700.50 197.1L700.75 204.0L701.00 193.5L701.25 198.0L701.50 204.4L701.75 208.6L702.00 203.0L702.25 203.9L702.50 208.6L702.75 189.4L703.00 190.9L703.25 208.0L703.50 212.7L703.75 204.2L704.00 201.0L704.25 201.5L704.50 200.5L704.75 194.9L705.00 200.0L705.25 199.7L705.50 203.5L705.75 203.8L706.00 205.3L706.25 203.5L706.50 196.0L706.75 206.4L707.00 188.1L707.25 199.4L707.50 197.8L707.75 197.9L708.00 208.9L708.25 195.9L708.50 194.3L708.75 197.3L709.00 197.7L709.25 204.3L709.50 201.4L709.75 203.8L710.00 197.7L710.25 197.5L710.50 197.5L710.75 194.3L711.00 201.1L711.25 199.0L711.50 203.9L711.75 196.3L712.00 198.0L712.25 197.9L712.50 197.1L712.75 196.1L713.00 199.5L713.25 194.5L713.50 202.9L713.75 204.4L714.00 201.4L714.25 200.2L714.50 196.9L714.75 196.1L715.00 199.7L715.25 193.4L715.50 195.2L715.75 201.2L716.00 197.5L716.25 199.0L716.50 196.9L716.75 200.2L717.00 197.6L717.25 198.7L717.50 201.8L717.75 204.6L718.00 205.2L718.25 198.8L718.50 206.9L718.75 196.5L719.00 200.2L719.25 207.4L719.50 213.3L719.75 203.3L720.00 200.1L720.25 199.7L720.50 195.7L720.75 200.4L721.00 199.6L721.25 197.9L721.50 207.1L721.75 198.6L722.00 209.6L722.25 206.7L722.50 205.5L722.75 199.5L723.00 199.2L723.25 192.2L723.50 202.2L723.75 200.6L724.00 203.5L724.25 198.8L724.50 203.9L724.75 195.0L725.00 190.9L725.25 202.8L725.50 206.9L725.75 187.4L726.00 206.4L726.25 200.4L726.50 200.7L726.75 194.0L727.00 195.9L727.25 204.0L727.50 198.1L727.75 200.8L728.00 200.6L728.25 210.7L728.50 206.4L728.75 195.6L729.00 198.6L729.25 195.7L729.50 194.3L729.75 197.5L730.00 206.4L730.25 202.3L730.50 204.7L730.75 200.9L731.00 199.4L731.25 201.5L731.50 201.1L731.75 210.4L732.00 210.7L732.25 203.9L732.50 200.0L732.75 192.1L733.00 199.7L733.25 212.2L733.50 198.5L733.75 204.6L734.00 207.1L734.25 199.5L734.50 199.5L734.75 198.4L735.00 204.1L735.25 201.0L735.50 207.7L735.75 206.9L736.00 201.3L736.25 213.0L736.50 200.6L736.75 198.0L737.00 199.5L737.25 196.6L737.50 198.6L737.75 200.3L738.00 205.1L738.25 193.9L738.50 193.7L738.75 196.5L739.00 195.1L739.25 203.0L739.50 197.7L739.75 207.9L740.00 199.5L740.25 200.4L740.50 202.1L740.75 207.9L741.00 204.7L741.25 203.3L741.50 201.0L741.75 204.5L742.00 206.1L742.25 203.1L742.50 202.7L742.75 196.4L743.00 202.1L743.25 211.2L743.50 213.6L743.75 204.0L744.00 196.9L744.25 214.9L744.50 207.7L744.75 220.2L745.00 207.9L745.25 213.0L745.50 205.7L745.75 214.0L746.00 213.6L746.25 202.8L746.50 212.5L746.75 220.9L747.00 206.9L747.25 200.6L747.50 206.7L747.75 203.8L748.00 198.1L748.25 199.4L748.50 205.4L748.75 197.3L749.00 208.6L749.25 206.4L749.50 203.0L749.75 209.9L750.00 199.4L750.25 205.8L750.50 196.9L750.75 200.8L751.00 203.7L751.25 200.6L751.50 202.2L751.75 205.8L752.00 210.2L752.25 209.6L752.50 205.5L752.75 201.5L753.00 195.4L753.25 209.7L753.50 211.9L753.75 192.9L754.00 205.5L754.25 202.2L754.50 205.4L754.75 199.6L755.00 201.3L755.25 201.9L755.50 201.8L755.75 207.4L756.00 201.2L756.25 199.3L756.50 204.7L756.75 205.0L757.00 203.9L757.25 203.0L757.50 208.4L757.75 207.2L758.00 202.8L758.25 200.5L758.50 200.8L758.75 192.6L759.00 197.8L759.25 197.5L759.50 201.7L759.75 199.3L760.00 212.5L760.25 205.6L760.50 203.5L760.75 211.9L761.00 202.2L761.25 199.6L761.50 206.7L761.75 205.4L762.00 205.8L762.25 207.2L762.50 199.9L762.75 197.7L763.00 193.8L763.25 201.1L763.50 205.8L763.75 196.5L764.00 197.9L764.25 194.2L764.50 209.5L764.75 205.4L765.00 202.2L765.25 195.0L765.50 195.1L765.75 196.9L766.00 200.3L766.25 194.3L766.50 198.7L766.75 205.9L767.00 200.9L767.25 200.8L767.50 190.7L767.75 197.9L768.00 199.2L768.25 196.7L768.50 193.3L768.75 199.0L769.00 195.1L769.25 196.9L769.50 192.3L769.75 196.6L770.00 204.1L770.25 196.2L770.50 200.9L770.75 192.7L771.00 201.8L771.25 202.7L771.50 198.5L771.75 204.1L772.00 196.4L772.25 200.0L772.50 208.1L772.75 200.8L773.00 195.0L773.25 205.0L773.50 203.1L773.75 197.2L774.00 191.4L774.25 190.2L774.50 192.0L774.75 206.5L775.00 202.2L775.25 196.4L775.50 205.3L775.75 207.6L776.00 197.1L776.25 202.2L776.50 192.9L776.75 201.5L777.00 209.1L777.25 194.4L777.50 199.9L777.75 197.2L778.00 199.5L778.25 200.7L778.50 201.8L778.75 204.6L779.00 203.1L779.25 205.5L779.50 205.7L779.75 206.1L780.00 197.8L780.25 202.0L780.50 198.8L780.75 196.2L781.00 209.0L781.25 202.6L781.50 200.8L781.75 190.4L782.00 198.3L782.25 203.8L782.50 199.8L782.75 197.8L783.00 207.2L783.25 199.8L783.50 199.0" fill="none" stroke="#000" stroke-width="1.3"/>
<path d="M-0.03 204.5L0.13 214.9L0.30 230.5L0.70 230.5L0.87 214.9L1.03 204.5Z" fill-opacity="1.0"/>
<path d="M1.25 204.5L1.58 215.1L2.14 230.9L2.54 230.9L3.11 215.1L3.43 204.5Z" fill-opacity="0.4"/>
<path d="M3.40 204.5L3.68 214.1L4.13 228.4L4.53 228.4L4.98 214.1L5.26 204.5Z" fill-opacity="1.0"/>
<path d="M5.51 204.5L5.67 207.9L5.85 213.1L6.25 213.1L6.44 207.9L6.60 204.5Z" fill-opacity="1.0"/>
<path d="M7.58 204.5L7.79 209.2L8.07 216.1L8.47 216.1L8.75 209.2L8.96 204.5Z" fill-opacity="0.4"/>
<path d="M8.58 204.5L8.91 210.4L9.48 219.3L9.88 219.3L10.45 210.4L10.78 204.5Z" fill-opacity="0.6"/>
<path d="M11.20 204.5L11.45 215.9L11.84 233.0L12.24 233.0L12.63 215.9L12.88 204.5Z" fill-opacity="0.4"/>
<path d="M13.19 204.5L13.43 213.4L13.78 226.7L14.18 226.7L14.54 213.4L14.78 204.5Z" fill-opacity="1.0"/>
<path d="M15.89 204.5L16.05 207.9L16.22 213.1L16.62 213.1L16.80 207.9L16.96 204.5Z" fill-opacity="0.8"/>
<path d="M17.22 204.5L17.47 212.2L17.87 223.7L18.27 223.7L18.67 212.2L18.93 204.5Z" fill-opacity="0.4"/>
<path d="M18.35 204.5L18.57 208.1L18.90 213.5L19.30 213.5L19.62 208.1L19.85 204.5Z" fill-opacity="0.8"/>
<path d="M20.74 204.5L20.92 213.3L21.15 226.6L21.55 226.6L21.77 213.3L21.96 204.5Z" fill-opacity="1.0"/>
<path d="M23.03 204.5L23.21 209.6L23.42 217.4L23.82 217.4L24.03 209.6L24.21 204.5Z" fill-opacity="0.4"/>
<path d="M24.64 204.5L24.81 212.4L25.01 224.3L25.41 224.3L25.61 212.4L25.78 204.5Z" fill-opacity="0.4"/>
<path d="M26.85 204.5L27.08 211.1L27.40 220.9L27.80 220.9L28.13 211.1L28.36 204.5Z" fill-opacity="1.0"/>
<path d="M28.31 204.5L28.60 208.8L29.07 215.2L29.47 215.2L29.94 208.8L30.23 204.5Z" fill-opacity="0.6"/>
<path d="M30.82 204.5L31.01 215.5L31.26 231.9L31.66 231.9L31.92 215.5L32.11 204.5Z" fill-opacity="0.6"/>
<path d="M32.71 204.5L33.02 209.7L33.55 217.6L33.95 217.6L34.48 209.7L34.80 204.5Z" fill-opacity="0.8"/>
<path d="M35.28 204.5L35.45 214.7L35.63 230.0L36.03 230.0L36.22 214.7L36.38 204.5Z" fill-opacity="0.8"/>
<path d="M36.59 204.5L36.79 210.2L37.05 218.9L37.45 218.9L37.71 210.2L37.90 204.5Z" fill-opacity="1.0"/>
<path d="M37.70 204.5L37.93 209.0L38.26 215.8L38.66 215.8L38.98 209.0L39.21 204.5Z" fill-opacity="0.6"/>
<path d="M40.54 204.5L40.69 209.0L40.85 215.7L41.25 215.7L41.41 209.0L41.56 204.5Z" fill-opacity="1.0"/>
<path d="M41.86 204.5L42.10 214.2L42.48 228.8L42.88 228.8L43.26 214.2L43.51 204.5Z" fill-opacity="0.4"/>
<path d="M43.48 204.5L43.77 215.4L44.24 231.8L44.64 231.8L45.12 215.4L45.40 204.5Z" fill-opacity="0.8"/>
<path d="M44.93 204.5L45.15 212.5L45.46 224.5L45.86 224.5L46.17 212.5L46.38 204.5Z" fill-opacity="1.0"/>
<path d="M46.97 204.5L47.30 214.4L47.85 229.4L48.25 229.4L48.81 214.4L49.13 204.5Z" fill-opacity="0.6"/>
<path d="M48.73 204.5L49.02 215.8L49.49 232.7L49.89 232.7L50.36 215.8L50.65 204.5Z" fill-opacity="0.8"/>
<path d="M51.10 204.5L51.35 215.6L51.73 232.3L52.13 232.3L52.50 215.6L52.75 204.5Z" fill-opacity="0.8"/>
<path d="M52.18 204.5L52.45 215.0L52.89 230.7L53.29 230.7L53.72 215.0L53.99 204.5Z" fill-opacity="0.4"/>
<path d="M53.99 204.4L54.22 210.7L54.54 220.0L54.94 220.0L55.26 210.7L55.48 204.4Z" fill-opacity="1.0"/>
<path d="M55.42 204.4L55.73 213.5L56.24 227.0L56.64 227.0L57.16 213.5L57.47 204.4Z" fill-opacity="0.4"/>
<path d="M58.28 204.4L58.49 210.3L58.77 219.1L59.17 219.1L59.44 210.3L59.65 204.4Z" fill-opacity="0.6"/>
<path d="M60.63 204.4L60.82 210.9L61.07 220.5L61.47 220.5L61.71 210.9L61.90 204.4Z" fill-opacity="0.4"/>
<path d="M61.54 204.4L61.87 209.3L62.43 216.5L62.83 216.5L63.40 209.3L63.72 204.4Z" fill-opacity="0.6"/>
<path d="M62.62 204.4L62.93 209.9L63.45 218.0L63.85 218.0L64.37 209.9L64.68 204.4Z" fill-opacity="0.8"/>
<path d="M64.55 204.4L64.80 208.9L65.20 215.6L65.60 215.6L66.00 208.9L66.25 204.4Z" fill-opacity="0.6"/>
<path d="M66.05 204.4L66.29 210.4L66.66 219.5L67.06 219.5L67.42 210.4L67.66 204.4Z" fill-opacity="0.6"/>
<path d="M68.15 204.4L68.42 209.7L68.87 217.5L69.27 217.5L69.72 209.7L70.00 204.4Z" fill-opacity="0.6"/>
<path d="M69.32 204.4L69.57 210.4L69.96 219.3L70.36 219.3L70.75 210.4L71.00 204.4Z" fill-opacity="0.6"/>
<path d="M72.00 204.4L72.15 211.4L72.32 221.8L72.72 221.8L72.88 211.4L73.04 204.4Z" fill-opacity="0.4"/>
<path d="M73.27 204.4L73.43 214.8L73.61 230.4L74.01 230.4L74.19 214.8L74.35 204.4Z" fill-opacity="0.6"/>
<path d="M74.14 204.4L74.39 212.1L74.76 223.6L75.16 223.6L75.54 212.1L75.79 204.4Z" fill-opacity="1.0"/>
<path d="M76.32 204.4L76.60 209.2L77.06 216.2L77.46 216.2L77.93 209.2L78.21 204.4Z" fill-opacity="0.4"/>
<path d="M77.67 204.4L78.00 208.1L78.57 213.6L78.97 213.6L79.54 208.1L79.86 204.4Z" fill-opacity="0.8"/>
<path d="M79.48 204.4L79.75 210.2L80.19 218.8L80.59 218.8L81.03 210.2L81.31 204.4Z" fill-opacity="0.6"/>
<path d="M82.15 204.4L82.36 208.8L82.65 215.4L83.05 215.4L83.35 208.8L83.56 204.4Z" fill-opacity="1.0"/>
<path d="M83.67 204.4L83.97 211.3L84.46 221.5L84.86 221.5L85.36 211.3L85.66 204.4Z" fill-opacity="0.8"/>
<path d="M85.63 204.4L85.87 208.0L86.22 213.5L86.62 213.5L86.98 208.0L87.22 204.4Z" fill-opacity="1.0"/>
<path d="M86.93 204.4L87.21 213.5L87.66 227.2L88.06 227.2L88.50 213.5L88.78 204.4Z" fill-opacity="1.0"/>
<path d="M88.53 204.4L88.83 208.0L89.32 213.4L89.72 213.4L90.21 208.0L90.50 204.4Z" fill-opacity="0.8"/>
<path d="M90.82 204.4L91.05 211.1L91.39 221.2L91.79 221.2L92.13 211.1L92.36 204.4Z" fill-opacity="0.4"/>
<path d="M93.35 204.4L93.57 207.6L93.89 212.5L94.29 212.5L94.61 207.6L94.84 204.4Z" fill-opacity="0.8"/>
<path d="M95.69 204.4L95.93 214.2L96.31 228.9L96.71 228.9L97.08 214.2L97.33 204.4Z" fill-opacity="0.4"/>
<path d="M97.23 204.4L97.46 212.2L97.80 223.9L98.20 223.9L98.53 212.2L98.76 204.4Z" fill-opacity="0.4"/>
<path d="M99.54 204.4L99.80 208.7L100.19 215.1L100.59 215.1L100.98 208.7L101.24 204.4Z" fill-opacity="0.8"/>
<path d="M101.21 204.4L101.51 213.7L102.02 227.7L102.42 227.7L102.92 213.7L103.23 204.4Z" fill-opacity="1.0"/>
<path d="M102.62 204.4L102.88 213.0L103.29 226.0L103.69 226.0L104.11 213.0L104.37 204.4Z" fill-opacity="0.4"/>
<path d="M103.45 204.4L103.77 211.0L104.31 220.9L104.71 220.9L105.26 211.0L105.58 204.4Z" fill-opacity="0.4"/>
<path d="M105.17 204.4L105.41 210.5L105.76 219.7L106.16 219.7L106.52 210.5L106.76 204.4Z" fill-opacity="0.8"/>
<path d="M106.25 204.4L106.51 212.3L106.92 224.1L107.32 224.1L107.74 212.3L108.00 204.4Z" fill-opacity="0.8"/>
<path d="M108.27 204.4L108.48 208.0L108.79 213.4L109.19 213.4L109.50 208.0L109.72 204.4Z" fill-opacity="0.4"/>
<path d="M110.04 204.4L110.26 208.0L110.56 213.4L110.96 213.4L111.26 208.0L111.47 204.4Z" fill-opacity="0.8"/>
<path d="M111.57 204.4L111.84 210.7L112.25 220.2L112.65 220.2L113.07 210.7L113.34 204.4Z" fill-opacity="0.4"/>
<path d="M113.85 204.4L114.13 208.5L114.58 214.7L114.98 214.7L115.43 208.5L115.71 204.4Z" fill-opacity="0.6"/>
<path d="M115.79 204.4L115.98 214.6L116.25 230.0L116.65 230.0L116.91 214.6L117.10 204.4Z" fill-opacity="0.8"/>
<path d="M117.26 204.4L117.48 212.1L117.80 223.6L118.20 223.6L118.51 212.1L118.73 204.4Z" fill-opacity="0.8"/>
<path d="M118.35 204.4L118.66 212.6L119.17 225.0L119.57 225.0L120.09 212.6L120.40 204.4Z" fill-opacity="1.0"/>
<path d="M120.19 204.4L120.41 211.4L120.71 221.8L121.11 221.8L121.41 211.4L121.63 204.4Z" fill-opacity="0.8"/>
<path d="M122.23 204.4L122.46 213.0L122.79 225.8L123.19 225.8L123.52 213.0L123.75 204.4Z" fill-opacity="1.0"/>
<path d="M123.70 204.4L123.92 215.1L124.22 231.2L124.62 231.2L124.92 215.1L125.14 204.4Z" fill-opacity="0.6"/>
<path d="M125.50 204.4L125.74 210.3L126.13 219.2L126.53 219.2L126.91 210.3L127.16 204.4Z" fill-opacity="0.6"/>
<path d="M127.77 204.4L128.03 212.2L128.44 223.9L128.84 223.9L129.25 212.2L129.52 204.4Z" fill-opacity="0.6"/>
<path d="M128.90 204.4L129.17 212.9L129.59 225.6L129.99 225.6L130.41 212.9L130.68 204.4Z" fill-opacity="0.4"/>
<path d="M130.46 204.4L130.70 213.8L131.08 228.0L131.48 228.0L131.85 213.8L132.09 204.4Z" fill-opacity="0.8"/>
<path d="M131.82 204.4L132.13 211.7L132.67 222.6L133.07 222.6L133.60 211.7L133.91 204.4Z" fill-opacity="0.4"/>
<path d="M134.48 204.4L134.70 213.3L135.01 226.6L135.41 226.6L135.72 213.3L135.94 204.4Z" fill-opacity="0.4"/>
<path d="M136.90 204.4L137.13 213.1L137.46 226.1L137.86 226.1L138.19 213.1L138.42 204.4Z" fill-opacity="0.8"/>
<path d="M137.73 204.4L138.03 214.9L138.53 230.7L138.93 230.7L139.43 214.9L139.73 204.4Z" fill-opacity="1.0"/>
<path d="M139.63 204.4L139.86 208.5L140.21 214.8L140.61 214.8L140.96 208.5L141.19 204.4Z" fill-opacity="0.8"/>
<path d="M141.42 204.4L141.63 212.6L141.90 225.0L142.30 225.0L142.58 212.6L142.78 204.4Z" fill-opacity="1.0"/>
<path d="M143.25 204.4L143.40 208.4L143.56 214.4L143.96 214.4L144.12 208.4L144.27 204.4Z" fill-opacity="1.0"/>
<path d="M144.99 204.4L145.15 211.1L145.31 221.3L145.71 221.3L145.87 211.1L146.03 204.4Z" fill-opacity="0.4"/>
<path d="M146.70 204.4L146.99 211.4L147.46 222.1L147.86 222.1L148.32 211.4L148.61 204.4Z" fill-opacity="1.0"/>
<path d="M148.33 204.4L148.58 211.4L148.97 221.9L149.37 221.9L149.76 211.4L150.01 204.4Z" fill-opacity="0.6"/>
<path d="M150.72 204.4L150.91 209.9L151.16 218.3L151.56 218.3L151.81 209.9L152.00 204.4Z" fill-opacity="1.0"/>
<path d="M151.95 204.4L152.12 209.9L152.31 218.2L152.71 218.2L152.90 209.9L153.07 204.4Z" fill-opacity="0.8"/>
<path d="M152.98 204.4L153.25 214.4L153.68 229.5L154.08 229.5L154.52 214.4L154.79 204.4Z" fill-opacity="0.8"/>
<path d="M154.33 204.4L154.63 213.7L155.12 227.6L155.52 227.6L156.02 213.7L156.31 204.4Z" fill-opacity="0.4"/>
<path d="M156.61 204.4L156.85 207.9L157.19 213.1L157.59 213.1L157.93 207.9L158.17 204.4Z" fill-opacity="1.0"/>
<path d="M158.02 204.4L158.18 208.1L158.36 213.7L158.76 213.7L158.94 208.1L159.11 204.4Z" fill-opacity="0.8"/>
<path d="M159.74 204.4L159.93 211.4L160.15 221.9L160.55 221.9L160.78 211.4L160.97 204.4Z" fill-opacity="0.4"/>
<path d="M162.18 204.3L162.34 212.9L162.49 225.7L162.89 225.7L163.04 212.9L163.20 204.3Z" fill-opacity="1.0"/>
<path d="M163.35 204.3L163.65 211.3L164.15 221.7L164.55 221.7L165.05 211.3L165.35 204.3Z" fill-opacity="1.0"/>
<path d="M165.74 204.3L165.95 211.9L166.24 223.2L166.64 223.2L166.93 211.9L167.14 204.3Z" fill-opacity="0.4"/>
<path d="M167.77 204.3L168.08 208.9L168.60 215.8L169.00 215.8L169.52 208.9L169.83 204.3Z" fill-opacity="0.4"/>
<path d="M170.07 204.3L170.24 213.5L170.44 227.2L170.84 227.2L171.04 213.5L171.21 204.3Z" fill-opacity="0.4"/>
<path d="M172.23 204.3L172.41 214.7L172.64 230.3L173.04 230.3L173.27 214.7L173.45 204.3Z" fill-opacity="1.0"/>
<path d="M173.47 204.3L173.66 208.2L173.91 214.0L174.31 214.0L174.55 208.2L174.74 204.3Z" fill-opacity="1.0"/>
<path d="M174.30 204.3L174.60 208.3L175.09 214.3L175.49 214.3L175.99 208.3L176.28 204.3Z" fill-opacity="0.8"/>
<path d="M176.24 204.3L176.41 214.9L176.62 230.6L177.02 230.6L177.23 214.9L177.41 204.3Z" fill-opacity="0.4"/>
<path d="M178.46 204.3L178.64 211.1L178.87 221.2L179.27 221.2L179.50 211.1L179.69 204.3Z" fill-opacity="0.4"/>
<path d="M179.45 204.3L179.73 213.5L180.19 227.2L180.59 227.2L181.05 213.5L181.34 204.3Z" fill-opacity="0.4"/>
<path d="M180.76 204.3L181.01 207.8L181.41 213.0L181.81 213.0L182.20 207.8L182.46 204.3Z" fill-opacity="0.4"/>
<path d="M182.07 204.3L182.30 209.6L182.63 217.6L183.03 217.6L183.36 209.6L183.59 204.3Z" fill-opacity="0.4"/>
<path d="M184.14 204.3L184.44 212.9L184.94 225.8L185.34 225.8L185.84 212.9L186.14 204.3Z" fill-opacity="0.6"/>
<path d="M185.68 204.3L185.96 207.9L186.41 213.3L186.81 213.3L187.25 207.9L187.53 204.3Z" fill-opacity="0.4"/>
<path d="M187.61 204.3L187.83 215.1L188.13 231.3L188.53 231.3L188.84 215.1L189.06 204.3Z" fill-opacity="0.6"/>
<path d="M189.66 204.3L189.94 215.6L190.39 232.6L190.79 232.6L191.24 215.6L191.52 204.3Z" fill-opacity="0.8"/>
<path d="M192.57 204.3L192.75 211.1L192.97 221.2L193.37 221.2L193.58 211.1L193.76 204.3Z" fill-opacity="1.0"/>
<path d="M193.38 204.3L193.70 214.1L194.24 228.7L194.64 228.7L195.19 214.1L195.51 204.3Z" fill-opacity="0.8"/>
<path d="M195.22 204.3L195.41 215.5L195.64 232.4L196.04 232.4L196.28 215.5L196.47 204.3Z" fill-opacity="0.8"/>
<path d="M196.83 204.3L197.04 212.6L197.32 225.1L197.72 225.1L198.00 212.6L198.20 204.3Z" fill-opacity="0.8"/>
<path d="M198.25 204.3L198.57 210.4L199.13 219.5L199.53 219.5L200.09 210.4L200.41 204.3Z" fill-opacity="0.8"/>
<path d="M200.59 204.3L200.91 215.3L201.45 231.8L201.85 231.8L202.38 215.3L202.70 204.3Z" fill-opacity="0.6"/>
<path d="M202.53 204.3L202.78 213.0L203.15 226.0L203.55 226.0L203.92 213.0L204.16 204.3Z" fill-opacity="0.6"/>
<path d="M204.70 204.3L204.92 209.6L205.24 217.5L205.64 217.5L205.96 209.6L206.18 204.3Z" fill-opacity="0.4"/>
<path d="M207.21 204.3L207.43 210.8L207.72 220.7L208.12 220.7L208.42 210.8L208.63 204.3Z" fill-opacity="0.6"/>
<path d="M209.44 204.3L209.76 211.3L210.31 221.8L210.71 221.8L211.27 211.3L211.59 204.3Z" fill-opacity="0.4"/>
<path d="M211.89 204.3L212.07 209.6L212.28 217.6L212.68 217.6L212.90 209.6L213.07 204.3Z" fill-opacity="1.0"/>
<path d="M213.73 204.3L213.90 213.8L214.11 228.0L214.51 228.0L214.71 213.8L214.89 204.3Z" fill-opacity="1.0"/>
<path d="M216.07 204.3L216.31 208.3L216.68 214.2L217.08 214.2L217.45 208.3L217.69 204.3Z" fill-opacity="0.4"/>
<path d="M218.04 204.3L218.30 210.2L218.72 219.0L219.12 219.0L219.53 210.2L219.79 204.3Z" fill-opacity="1.0"/>
<path d="M219.72 204.3L219.94 213.4L220.25 227.1L220.65 227.1L220.96 213.4L221.18 204.3Z" fill-opacity="1.0"/>
<path d="M220.99 204.3L221.22 210.0L221.56 218.6L221.96 218.6L222.30 210.0L222.53 204.3Z" fill-opacity="0.4"/>
<path d="M222.42 204.3L222.74 211.3L223.29 221.7L223.69 221.7L224.25 211.3L224.57 204.3Z" fill-opacity="0.6"/>
<path d="M225.04 204.3L225.22 207.9L225.42 213.4L225.82 213.4L226.02 207.9L226.20 204.3Z" fill-opacity="0.4"/>
<path d="M227.03 204.3L227.26 211.1L227.59 221.4L227.99 221.4L228.32 211.1L228.55 204.3Z" fill-opacity="0.8"/>
<path d="M229.46 204.3L229.67 210.8L229.96 220.6L230.36 220.6L230.66 210.8L230.87 204.3Z" fill-opacity="1.0"/>
<path d="M230.87 204.3L231.13 209.2L231.55 216.6L231.95 216.6L232.36 209.2L232.62 204.3Z" fill-opacity="0.4"/>
<path d="M233.00 204.3L233.28 211.7L233.75 222.8L234.15 222.8L234.61 211.7L234.89 204.3Z" fill-opacity="1.0"/>
<path d="M235.69 204.3L235.92 209.3L236.26 216.9L236.66 216.9L237.00 209.3L237.23 204.3Z" fill-opacity="0.4"/>
<path d="M237.59 204.3L237.90 213.0L238.42 226.2L238.82 226.2L239.34 213.0L239.65 204.3Z" fill-opacity="0.6"/>
<path d="M239.36 204.3L239.56 213.4L239.83 227.0L240.23 227.0L240.50 213.4L240.70 204.3Z" fill-opacity="0.4"/>
<path d="M240.21 204.3L240.46 209.4L240.87 217.1L241.27 217.1L241.67 209.4L241.93 204.3Z" fill-opacity="0.8"/>
<path d="M241.61 204.3L241.90 212.0L242.36 223.6L242.76 223.6L243.22 212.0L243.50 204.3Z" fill-opacity="0.6"/>
<path d="M243.21 204.3L243.51 208.8L244.02 215.7L244.42 215.7L244.92 208.8L245.22 204.3Z" fill-opacity="0.8"/>
<path d="M244.92 204.3L245.20 213.8L245.66 228.0L246.06 228.0L246.52 213.8L246.80 204.3Z" fill-opacity="0.8"/>
<path d="M247.21 204.3L247.43 208.9L247.76 215.9L248.16 215.9L248.49 208.9L248.72 204.3Z" fill-opacity="0.6"/>
<path d="M249.10 204.3L249.37 209.3L249.80 217.0L250.20 217.0L250.63 209.3L250.90 204.3Z" fill-opacity="0.6"/>
<path d="M250.42 204.3L250.60 212.0L250.82 223.6L251.22 223.6L251.44 212.0L251.61 204.3Z" fill-opacity="1.0"/>
<path d="M251.49 204.3L251.75 213.5L252.16 227.4L252.56 227.4L252.97 213.5L253.23 204.3Z" fill-opacity="1.0"/>
<path d="M252.70 204.3L252.95 214.7L253.33 230.3L253.73 230.3L254.11 214.7L254.36 204.3Z" fill-opacity="0.6"/>
<path d="M254.98 204.3L255.19 214.0L255.47 228.6L255.87 228.6L256.16 214.0L256.37 204.3Z" fill-opacity="0.4"/>
<path d="M257.45 204.3L257.66 215.7L257.96 232.9L258.36 232.9L258.65 215.7L258.86 204.3Z" fill-opacity="0.6"/>
<path d="M259.24 204.3L259.47 208.9L259.81 215.8L260.21 215.8L260.54 208.9L260.77 204.3Z" fill-opacity="0.8"/>
<path d="M260.87 204.3L261.03 213.5L261.19 227.4L261.59 227.4L261.74 213.5L261.90 204.3Z" fill-opacity="0.6"/>
<path d="M262.38 204.3L262.58 213.3L262.84 226.9L263.24 226.9L263.50 213.3L263.69 204.3Z" fill-opacity="1.0"/>
<path d="M264.25 204.3L264.42 208.6L264.61 215.0L265.01 215.0L265.20 208.6L265.37 204.3Z" fill-opacity="0.8"/>
<path d="M265.34 204.3L265.65 209.8L266.20 218.2L266.60 218.2L267.14 209.8L267.46 204.3Z" fill-opacity="0.8"/>
<path d="M267.49 204.3L267.66 209.2L267.84 216.6L268.24 216.6L268.42 209.2L268.58 204.3Z" fill-opacity="0.8"/>
<path d="M269.71 204.2L269.90 215.0L270.14 231.2L270.54 231.2L270.79 215.0L270.98 204.2Z" fill-opacity="0.4"/>
<path d="M270.76 204.2L271.04 210.7L271.51 220.4L271.91 220.4L272.37 210.7L272.65 204.2Z" fill-opacity="0.8"/>
<path d="M272.25 204.2L272.49 207.6L272.87 212.6L273.27 212.6L273.64 207.6L273.89 204.2Z" fill-opacity="1.0"/>
<path d="M273.77 204.2L274.06 208.5L274.54 214.9L274.94 214.9L275.41 208.5L275.70 204.2Z" fill-opacity="0.6"/>
<path d="M275.96 204.2L276.21 208.8L276.59 215.6L276.99 215.6L277.37 208.8L277.62 204.2Z" fill-opacity="1.0"/>
<path d="M277.19 204.2L277.40 212.4L277.68 224.5L278.08 224.5L278.37 212.4L278.57 204.2Z" fill-opacity="1.0"/>
<path d="M278.75 204.2L278.97 212.1L279.28 223.8L279.68 223.8L279.98 212.1L280.20 204.2Z" fill-opacity="0.8"/>
<path d="M280.38 204.2L280.61 208.3L280.93 214.5L281.33 214.5L281.66 208.3L281.89 204.2Z" fill-opacity="0.6"/>
<path d="M281.48 204.2L281.69 214.4L281.98 229.5L282.38 229.5L282.68 214.4L282.89 204.2Z" fill-opacity="0.6"/>
<path d="M282.47 204.2L282.76 212.0L283.24 223.8L283.64 223.8L284.11 212.0L284.40 204.2Z" fill-opacity="0.4"/>
<path d="M283.90 204.2L284.15 213.4L284.53 227.0L284.93 227.0L285.31 213.4L285.56 204.2Z" fill-opacity="1.0"/>
<path d="M285.85 204.2L286.02 211.0L286.21 221.2L286.61 221.2L286.80 211.0L286.96 204.2Z" fill-opacity="0.8"/>
<path d="M287.76 204.2L287.96 209.2L288.23 216.5L288.63 216.5L288.90 209.2L289.10 204.2Z" fill-opacity="0.4"/>
<path d="M290.18 204.2L290.35 215.1L290.56 231.3L290.96 231.3L291.17 215.1L291.35 204.2Z" fill-opacity="1.0"/>
<path d="M291.39 204.2L291.59 213.7L291.85 227.9L292.25 227.9L292.51 213.7L292.71 204.2Z" fill-opacity="0.4"/>
<path d="M293.31 204.2L293.48 213.5L293.67 227.3L294.07 227.3L294.27 213.5L294.44 204.2Z" fill-opacity="1.0"/>
<path d="M294.68 204.2L294.87 212.7L295.09 225.3L295.49 225.3L295.71 212.7L295.89 204.2Z" fill-opacity="1.0"/>
<path d="M297.11 204.2L297.28 210.9L297.48 220.8L297.88 220.8L298.09 210.9L298.26 204.2Z" fill-opacity="0.8"/>
<path d="M298.89 204.2L299.16 208.0L299.59 213.8L299.99 213.8L300.42 208.0L300.69 204.2Z" fill-opacity="1.0"/>
<path d="M300.29 204.2L300.57 209.4L301.03 217.2L301.43 217.2L301.88 209.4L302.16 204.2Z" fill-opacity="0.4"/>
<path d="M302.16 204.2L302.35 212.2L302.59 224.3L302.99 224.3L303.23 212.2L303.42 204.2Z" fill-opacity="1.0"/>
<path d="M304.41 204.2L304.68 207.7L305.11 212.8L305.51 212.8L305.95 207.7L306.22 204.2Z" fill-opacity="0.4"/>
<path d="M306.61 204.2L306.78 207.7L306.98 212.9L307.38 212.9L307.58 207.7L307.75 204.2Z" fill-opacity="1.0"/>
<path d="M308.74 204.2L308.98 213.4L309.34 227.1L309.74 227.1L310.10 213.4L310.34 204.2Z" fill-opacity="0.8"/>
<path d="M310.99 204.2L311.28 212.4L311.76 224.8L312.16 224.8L312.63 212.4L312.92 204.2Z" fill-opacity="0.4"/>
<path d="M312.28 204.2L312.54 212.2L312.94 224.2L313.34 224.2L313.75 212.2L314.01 204.2Z" fill-opacity="1.0"/>
<path d="M314.71 204.2L314.94 211.9L315.27 223.6L315.67 223.6L316.00 211.9L316.23 204.2Z" fill-opacity="0.6"/>
<path d="M316.38 204.2L316.69 208.2L317.23 214.3L317.63 214.3L318.17 208.2L318.49 204.2Z" fill-opacity="1.0"/>
<path d="M318.80 204.2L319.12 211.7L319.66 222.9L320.06 222.9L320.61 211.7L320.93 204.2Z" fill-opacity="0.8"/>
<path d="M321.10 204.2L321.36 212.1L321.77 223.9L322.17 223.9L322.58 212.1L322.84 204.2Z" fill-opacity="1.0"/>
<path d="M323.69 204.2L323.85 209.3L324.01 216.9L324.41 216.9L324.57 209.3L324.72 204.2Z" fill-opacity="0.6"/>
<path d="M325.60 204.2L325.81 208.9L326.10 215.8L326.50 215.8L326.79 208.9L326.99 204.2Z" fill-opacity="0.8"/>
<path d="M327.50 204.2L327.69 213.8L327.93 228.2L328.33 228.2L328.58 213.8L328.77 204.2Z" fill-opacity="1.0"/>
<path d="M328.37 204.2L328.62 208.6L329.02 215.1L329.42 215.1L329.82 208.6L330.08 204.2Z" fill-opacity="1.0"/>
<path d="M330.56 204.2L330.75 215.1L330.99 231.4L331.39 231.4L331.62 215.1L331.81 204.2Z" fill-opacity="0.4"/>
<path d="M331.85 204.2L332.12 213.9L332.54 228.5L332.94 228.5L333.36 213.9L333.62 204.2Z" fill-opacity="1.0"/>
<path d="M334.40 204.2L334.65 210.3L335.04 219.5L335.44 219.5L335.84 210.3L336.09 204.2Z" fill-opacity="0.8"/>
<path d="M336.04 204.2L336.24 215.0L336.50 231.2L336.90 231.2L337.16 215.0L337.35 204.2Z" fill-opacity="0.8"/>
<path d="M336.70 204.2L337.01 211.0L337.55 221.3L337.95 221.3L338.48 211.0L338.79 204.2Z" fill-opacity="0.4"/>
<path d="M338.47 204.2L338.73 208.3L339.13 214.5L339.53 214.5L339.93 208.3L340.19 204.2Z" fill-opacity="0.8"/>
<path d="M340.56 204.2L340.84 207.8L341.30 213.1L341.70 213.1L342.16 207.8L342.45 204.2Z" fill-opacity="0.4"/>
<path d="M341.56 204.2L341.86 214.2L342.38 229.2L342.78 229.2L343.29 214.2L343.60 204.2Z" fill-opacity="0.4"/>
<path d="M343.93 204.2L344.17 212.6L344.52 225.3L344.92 225.3L345.26 212.6L345.50 204.2Z" fill-opacity="0.4"/>
<path d="M345.65 204.2L345.82 215.3L346.01 232.1L346.41 232.1L346.60 215.3L346.76 204.2Z" fill-opacity="0.4"/>
<path d="M346.22 204.2L346.54 212.4L347.10 224.6L347.50 224.6L348.06 212.4L348.38 204.2Z" fill-opacity="0.8"/>
<path d="M347.82 204.2L348.13 215.3L348.66 232.1L349.06 232.1L349.59 215.3L349.90 204.2Z" fill-opacity="0.8"/>
<path d="M349.01 204.2L349.33 212.5L349.88 224.9L350.28 224.9L350.82 212.5L351.15 204.2Z" fill-opacity="1.0"/>
<path d="M351.11 204.2L351.32 213.9L351.61 228.6L352.01 228.6L352.31 213.9L352.52 204.2Z" fill-opacity="1.0"/>
<path d="M352.63 204.2L352.85 209.6L353.16 217.7L353.56 217.7L353.86 209.6L354.08 204.2Z" fill-opacity="0.8"/>
<path d="M353.79 204.2L354.09 214.8L354.58 230.8L354.98 230.8L355.46 214.8L355.76 204.2Z" fill-opacity="1.0"/>
<path d="M355.69 204.2L355.86 207.3L356.06 212.0L356.46 212.0L356.66 207.3L356.83 204.2Z" fill-opacity="1.0"/>
<path d="M358.12 204.2L358.32 215.4L358.59 232.2L358.99 232.2L359.26 215.4L359.46 204.2Z" fill-opacity="1.0"/>
<path d="M359.95 204.2L360.15 213.0L360.43 226.2L360.83 226.2L361.10 213.0L361.30 204.2Z" fill-opacity="0.8"/>
<path d="M361.47 204.2L361.66 208.2L361.88 214.2L362.28 214.2L362.51 208.2L362.69 204.2Z" fill-opacity="0.8"/>
<path d="M363.47 204.2L363.69 215.3L364.01 232.0L364.41 232.0L364.73 215.3L364.95 204.2Z" fill-opacity="0.6"/>
<path d="M365.84 204.2L366.09 214.5L366.47 229.9L366.87 229.9L367.25 214.5L367.49 204.2Z" fill-opacity="0.4"/>
<path d="M368.04 204.2L368.22 214.7L368.45 230.6L368.85 230.6L369.08 214.7L369.26 204.2Z" fill-opacity="1.0"/>
<path d="M368.82 204.2L369.08 211.2L369.49 221.9L369.89 221.9L370.30 211.2L370.56 204.2Z" fill-opacity="1.0"/>
<path d="M369.95 204.2L370.28 214.3L370.84 229.6L371.24 229.6L371.80 214.3L372.12 204.2Z" fill-opacity="0.4"/>
<path d="M372.81 204.2L373.02 215.5L373.33 232.4L373.73 232.4L374.03 215.5L374.25 204.2Z" fill-opacity="0.6"/>
<path d="M374.59 204.2L374.77 213.9L374.99 228.5L375.39 228.5L375.61 213.9L375.79 204.2Z" fill-opacity="0.6"/>
<path d="M376.09 204.1L376.27 215.1L376.50 231.4L376.90 231.4L377.13 215.1L377.31 204.1Z" fill-opacity="0.8"/>
<path d="M377.26 204.1L377.55 215.4L378.03 232.4L378.43 232.4L378.92 215.4L379.21 204.1Z" fill-opacity="0.4"/>
<path d="M379.41 204.1L379.73 209.1L380.27 216.5L380.67 216.5L381.21 209.1L381.53 204.1Z" fill-opacity="0.8"/>
<path d="M380.92 204.1L381.24 212.4L381.79 224.8L382.19 224.8L382.74 212.4L383.06 204.1Z" fill-opacity="1.0"/>
<path d="M382.60 204.1L382.88 212.7L383.33 225.7L383.73 225.7L384.19 212.7L384.47 204.1Z" fill-opacity="1.0"/>
<path d="M384.68 204.1L384.96 210.5L385.41 220.1L385.81 220.1L386.27 210.5L386.54 204.1Z" fill-opacity="0.8"/>
<path d="M386.66 204.1L386.83 211.6L387.01 222.8L387.41 222.8L387.59 211.6L387.75 204.1Z" fill-opacity="0.4"/>
<path d="M387.80 204.1L388.01 209.7L388.28 217.9L388.68 217.9L388.95 209.7L389.16 204.1Z" fill-opacity="0.8"/>
<path d="M389.53 204.1L389.77 213.8L390.13 228.2L390.53 228.2L390.89 213.8L391.13 204.1Z" fill-opacity="1.0"/>
<path d="M390.45 204.1L390.72 211.3L391.15 222.1L391.55 222.1L391.98 211.3L392.25 204.1Z" fill-opacity="0.8"/>
<path d="M391.92 204.1L392.10 213.1L392.30 226.6L392.70 226.6L392.91 213.1L393.08 204.1Z" fill-opacity="0.4"/>
<path d="M393.21 204.1L393.43 207.6L393.76 212.9L394.16 212.9L394.48 207.6L394.71 204.1Z" fill-opacity="0.4"/>
<path d="M394.67 204.1L394.87 211.5L395.14 222.6L395.54 222.6L395.82 211.5L396.02 204.1Z" fill-opacity="0.4"/>
<path d="M396.13 204.1L396.40 214.0L396.83 228.7L397.23 228.7L397.67 214.0L397.94 204.1Z" fill-opacity="0.4"/>
<path d="M398.86 204.1L399.04 213.8L399.25 228.3L399.65 228.3L399.85 213.8L400.03 204.1Z" fill-opacity="1.0"/>
<path d="M400.52 204.1L400.68 209.2L400.84 216.7L401.24 216.7L401.40 209.2L401.56 204.1Z" fill-opacity="1.0"/>
<path d="M401.17 204.1L401.49 209.4L402.03 217.3L402.43 217.3L402.97 209.4L403.29 204.1Z" fill-opacity="0.4"/>
<path d="M403.90 204.1L404.11 209.8L404.39 218.4L404.79 218.4L405.07 209.8L405.28 204.1Z" fill-opacity="0.6"/>
<path d="M406.60 204.1L406.76 209.9L406.95 218.7L407.35 218.7L407.54 209.9L407.70 204.1Z" fill-opacity="0.6"/>
<path d="M407.80 204.1L408.06 211.7L408.47 223.1L408.87 223.1L409.29 211.7L409.55 204.1Z" fill-opacity="0.6"/>
<path d="M410.44 204.1L410.64 208.1L410.90 214.1L411.30 214.1L411.57 208.1L411.77 204.1Z" fill-opacity="1.0"/>
<path d="M412.21 204.1L412.37 207.9L412.54 213.5L412.94 213.5L413.12 207.9L413.28 204.1Z" fill-opacity="0.6"/>
<path d="M414.06 204.1L414.35 212.2L414.84 224.4L415.24 224.4L415.73 212.2L416.03 204.1Z" fill-opacity="0.4"/>
<path d="M415.65 204.1L415.90 207.5L416.30 212.5L416.70 212.5L417.10 207.5L417.35 204.1Z" fill-opacity="0.8"/>
<path d="M417.92 204.1L418.15 213.0L418.48 226.3L418.88 226.3L419.21 213.0L419.44 204.1Z" fill-opacity="0.8"/>
<path d="M418.94 204.1L419.21 209.4L419.62 217.3L420.02 217.3L420.44 209.4L420.70 204.1Z" fill-opacity="0.4"/>
<path d="M420.97 204.1L421.21 212.9L421.56 226.0L421.96 226.0L422.31 212.9L422.55 204.1Z" fill-opacity="1.0"/>
<path d="M423.48 204.1L423.68 213.9L423.92 228.7L424.32 228.7L424.57 213.9L424.76 204.1Z" fill-opacity="0.8"/>
<path d="M424.71 204.1L425.00 212.7L425.50 225.7L425.90 225.7L426.39 212.7L426.69 204.1Z" fill-opacity="0.6"/>
<path d="M426.98 204.1L427.16 209.8L427.38 218.4L427.78 218.4L428.01 209.8L428.19 204.1Z" fill-opacity="1.0"/>
<path d="M429.49 204.1L429.67 208.7L429.87 215.6L430.27 215.6L430.47 208.7L430.64 204.1Z" fill-opacity="1.0"/>
<path d="M430.87 204.1L431.20 208.0L431.77 213.8L432.17 213.8L432.74 208.0L433.06 204.1Z" fill-opacity="0.6"/>
<path d="M433.59 204.1L433.77 207.7L433.99 213.2L434.39 213.2L434.61 207.7L434.79 204.1Z" fill-opacity="0.4"/>
<path d="M435.42 204.1L435.67 210.7L436.07 220.6L436.47 220.6L436.87 210.7L437.12 204.1Z" fill-opacity="0.4"/>
<path d="M436.65 204.1L436.90 214.0L437.29 228.9L437.69 228.9L438.08 214.0L438.33 204.1Z" fill-opacity="0.8"/>
<path d="M438.97 204.1L439.16 211.0L439.42 221.4L439.82 221.4L440.08 211.0L440.28 204.1Z" fill-opacity="0.6"/>
<path d="M440.60 204.1L440.86 213.1L441.26 226.5L441.66 226.5L442.06 213.1L442.32 204.1Z" fill-opacity="0.8"/>
<path d="M441.68 204.1L441.95 209.6L442.40 217.8L442.80 217.8L443.25 209.6L443.52 204.1Z" fill-opacity="0.4"/>
<path d="M443.51 204.1L443.73 214.7L444.04 230.6L444.44 230.6L444.75 214.7L444.97 204.1Z" fill-opacity="0.4"/>
<path d="M444.55 204.1L444.79 210.5L445.17 220.2L445.57 220.2L445.94 210.5L446.19 204.1Z" fill-opacity="0.6"/>
<path d="M445.77 204.1L445.99 209.7L446.30 218.0L446.70 218.0L447.02 209.7L447.24 204.1Z" fill-opacity="1.0"/>
<path d="M447.46 204.1L447.64 207.6L447.85 212.9L448.25 212.9L448.47 207.6L448.65 204.1Z" fill-opacity="1.0"/>
<path d="M448.63 204.1L448.89 207.5L449.28 212.7L449.68 212.7L450.07 207.5L450.32 204.1Z" fill-opacity="0.4"/>
<path d="M449.84 204.1L450.12 209.2L450.56 216.9L450.96 216.9L451.41 209.2L451.69 204.1Z" fill-opacity="0.6"/>
<path d="M451.63 204.1L451.84 208.6L452.13 215.3L452.53 215.3L452.82 208.6L453.03 204.1Z" fill-opacity="0.8"/>
<path d="M452.66 204.1L452.98 213.1L453.54 226.5L453.94 226.5L454.49 213.1L454.82 204.1Z" fill-opacity="0.4"/>
<path d="M454.70 204.1L455.01 209.2L455.54 216.9L455.94 216.9L456.47 209.2L456.79 204.1Z" fill-opacity="0.4"/>
<path d="M457.45 204.1L457.70 210.5L458.06 220.0L458.46 220.0L458.82 210.5L459.06 204.1Z" fill-opacity="0.8"/>
<path d="M459.12 204.1L459.35 215.2L459.68 231.9L460.08 231.9L460.41 215.2L460.64 204.1Z" fill-opacity="1.0"/>
<path d="M460.72 204.1L461.01 211.5L461.49 222.5L461.89 222.5L462.37 211.5L462.66 204.1Z" fill-opacity="0.4"/>
<path d="M463.49 204.1L463.69 213.9L463.96 228.7L464.36 228.7L464.63 213.9L464.83 204.1Z" fill-opacity="0.8"/>
<path d="M466.02 204.1L466.21 215.6L466.45 232.9L466.85 232.9L467.09 215.6L467.28 204.1Z" fill-opacity="0.6"/>
<path d="M467.08 204.1L467.29 212.7L467.56 225.6L467.96 225.6L468.23 212.7L468.44 204.1Z" fill-opacity="0.8"/>
<path d="M468.66 204.1L468.93 213.5L469.37 227.7L469.77 227.7L470.21 213.5L470.48 204.1Z" fill-opacity="1.0"/>
<path d="M470.64 204.1L470.86 211.5L471.16 222.8L471.56 222.8L471.86 211.5L472.08 204.1Z" fill-opacity="0.8"/>
<path d="M471.88 204.1L472.09 214.6L472.37 230.4L472.77 230.4L473.05 214.6L473.26 204.1Z" fill-opacity="0.6"/>
<path d="M472.98 204.1L473.27 214.6L473.75 230.4L474.15 230.4L474.63 214.6L474.92 204.1Z" fill-opacity="0.6"/>
<path d="M475.41 204.1L475.64 208.9L476.00 216.1L476.40 216.1L476.75 208.9L476.99 204.1Z" fill-opacity="0.4"/>
<path d="M477.70 204.1L477.94 209.1L478.29 216.8L478.69 216.8L479.04 209.1L479.28 204.1Z" fill-opacity="0.4"/>
<path d="M479.42 204.1L479.69 210.6L480.10 220.5L480.50 220.5L480.92 210.6L481.18 204.1Z" fill-opacity="1.0"/>
<path d="M480.70 204.1L481.01 208.8L481.54 215.9L481.94 215.9L482.48 208.8L482.79 204.1Z" fill-opacity="0.6"/>
<path d="M481.92 204.1L482.21 213.5L482.68 227.6L483.08 227.6L483.55 213.5L483.84 204.1Z" fill-opacity="1.0"/>
<path d="M483.92 204.0L484.16 208.3L484.51 214.6L484.91 214.6L485.26 208.3L485.49 204.0Z" fill-opacity="0.8"/>
<path d="M486.48 204.0L486.63 215.3L486.80 232.3L487.20 232.3L487.37 215.3L487.52 204.0Z" fill-opacity="1.0"/>
<path d="M488.58 204.0L488.85 212.0L489.30 224.0L489.70 224.0L490.14 212.0L490.42 204.0Z" fill-opacity="0.4"/>
<path d="M491.05 204.0L491.25 210.0L491.50 218.9L491.90 218.9L492.15 210.0L492.34 204.0Z" fill-opacity="1.0"/>
<path d="M492.25 204.0L492.51 214.0L492.93 229.0L493.33 229.0L493.75 214.0L494.02 204.0Z" fill-opacity="0.8"/>
<path d="M493.84 204.0L494.13 214.0L494.61 229.0L495.01 229.0L495.50 214.0L495.79 204.0Z" fill-opacity="0.4"/>
<path d="M495.95 204.0L496.27 212.4L496.84 224.9L497.24 224.9L497.80 212.4L498.13 204.0Z" fill-opacity="1.0"/>
<path d="M497.73 204.0L498.03 215.5L498.54 232.7L498.94 232.7L499.46 215.5L499.76 204.0Z" fill-opacity="0.6"/>
<path d="M499.24 204.0L499.54 213.9L500.03 228.8L500.43 228.8L500.93 213.9L501.23 204.0Z" fill-opacity="0.8"/>
<path d="M501.60 204.0L501.82 211.5L502.13 222.6L502.53 222.6L502.85 211.5L503.07 204.0Z" fill-opacity="0.6"/>
<path d="M504.11 204.0L504.33 213.5L504.64 227.7L505.04 227.7L505.35 213.5L505.57 204.0Z" fill-opacity="0.8"/>
<path d="M506.58 204.0L506.79 214.9L507.08 231.2L507.48 231.2L507.77 214.9L507.98 204.0Z" fill-opacity="0.4"/>
<path d="M508.11 204.0L508.35 207.7L508.71 213.1L509.11 213.1L509.47 207.7L509.70 204.0Z" fill-opacity="0.4"/>
<path d="M509.40 204.0L509.68 213.5L510.15 227.6L510.55 227.6L511.02 213.5L511.31 204.0Z" fill-opacity="1.0"/>
<path d="M511.40 204.0L511.67 209.3L512.10 217.2L512.50 217.2L512.94 209.3L513.21 204.0Z" fill-opacity="1.0"/>
<path d="M513.00 204.0L513.26 214.8L513.67 231.0L514.07 231.0L514.48 214.8L514.75 204.0Z" fill-opacity="0.8"/>
<path d="M514.50 204.0L514.67 210.7L514.87 220.7L515.27 220.7L515.46 210.7L515.63 204.0Z" fill-opacity="1.0"/>
<path d="M516.23 204.0L516.49 215.6L516.91 233.0L517.31 233.0L517.73 215.6L517.99 204.0Z" fill-opacity="0.6"/>
<path d="M518.31 204.0L518.62 210.7L519.13 220.8L519.53 220.8L520.05 210.7L520.35 204.0Z" fill-opacity="1.0"/>
<path d="M520.59 204.0L520.80 211.1L521.07 221.8L521.47 221.8L521.74 211.1L521.94 204.0Z" fill-opacity="0.6"/>
<path d="M522.03 204.0L522.25 208.1L522.57 214.2L522.97 214.2L523.28 208.1L523.50 204.0Z" fill-opacity="1.0"/>
<path d="M523.31 204.0L523.57 210.6L523.97 220.4L524.37 220.4L524.77 210.6L525.03 204.0Z" fill-opacity="1.0"/>
<path d="M525.58 204.0L525.81 211.1L526.12 221.6L526.52 221.6L526.84 211.1L527.06 204.0Z" fill-opacity="0.6"/>
<path d="M527.77 204.0L527.96 211.1L528.20 221.7L528.60 221.7L528.84 211.1L529.03 204.0Z" fill-opacity="0.4"/>
<path d="M530.15 204.0L530.40 208.1L530.79 214.3L531.19 214.3L531.57 208.1L531.82 204.0Z" fill-opacity="0.8"/>
<path d="M531.53 204.0L531.79 207.9L532.20 213.8L532.60 213.8L533.01 207.9L533.27 204.0Z" fill-opacity="0.8"/>
<path d="M533.39 204.0L533.57 207.9L533.81 213.7L534.21 213.7L534.45 207.9L534.64 204.0Z" fill-opacity="0.8"/>
<path d="M535.22 204.0L535.54 208.4L536.10 214.9L536.50 214.9L537.06 208.4L537.39 204.0Z" fill-opacity="1.0"/>
<path d="M536.99 204.0L537.26 211.7L537.69 223.3L538.09 223.3L538.52 211.7L538.79 204.0Z" fill-opacity="0.8"/>
<path d="M539.18 204.0L539.42 215.2L539.76 232.1L540.16 232.1L540.50 215.2L540.74 204.0Z" fill-opacity="1.0"/>
<path d="M541.10 204.0L541.25 211.0L541.41 221.4L541.81 221.4L541.96 211.0L542.11 204.0Z" fill-opacity="1.0"/>
<path d="M542.26 204.0L542.51 208.6L542.88 215.5L543.28 215.5L543.65 208.6L543.89 204.0Z" fill-opacity="1.0"/>
<path d="M543.87 204.0L544.16 212.4L544.64 224.9L545.04 224.9L545.52 212.4L545.81 204.0Z" fill-opacity="0.6"/>
<path d="M2.58 204.5L3.04 220.3L4.60 230.8L5.10 230.8L6.67 220.3L7.12 204.5Z" fill-opacity="0.24"/>
<path d="M5.61 204.5L5.96 232.7L7.11 251.6L7.61 251.6L8.76 232.7L9.11 204.5Z" fill-opacity="0.3"/>
<path d="M8.37 204.5L8.78 218.5L10.19 227.8L10.69 227.8L12.10 218.5L12.52 204.5Z" fill-opacity="0.3"/>
<path d="M11.03 204.5L11.44 224.7L12.85 238.2L13.35 238.2L14.76 224.7L15.18 204.5Z" fill-opacity="0.3"/>
<path d="M17.71 204.5L18.32 223.9L20.51 236.8L21.01 236.8L23.20 223.9L23.81 204.5Z" fill-opacity="0.3"/>
<path d="M29.30 204.5L29.78 222.4L31.45 234.3L31.95 234.3L33.62 222.4L34.10 204.5Z" fill-opacity="0.3"/>
<path d="M34.58 204.5L35.00 229.7L36.41 246.5L36.91 246.5L38.32 229.7L38.73 204.5Z" fill-opacity="0.3"/>
<path d="M38.50 204.5L38.85 224.6L40.00 238.0L40.50 238.0L41.65 224.6L42.00 204.5Z" fill-opacity="0.3"/>
<path d="M45.73 204.5L46.14 223.9L47.55 236.8L48.05 236.8L49.46 223.9L49.88 204.5Z" fill-opacity="0.3"/>
<path d="M48.18 204.5L48.59 222.1L50.00 233.9L50.50 233.9L51.91 222.1L52.33 204.5Z" fill-opacity="0.3"/>
<path d="M57.26 204.4L57.68 224.5L59.09 237.8L59.59 237.8L61.00 224.5L61.41 204.4Z" fill-opacity="0.3"/>
<path d="M60.51 204.4L60.92 222.6L62.33 234.6L62.83 234.6L64.24 222.6L64.66 204.4Z" fill-opacity="0.3"/>
<path d="M63.80 204.4L64.48 228.7L66.93 244.9L67.43 244.9L69.88 228.7L70.55 204.4Z" fill-opacity="0.3"/>
<path d="M73.46 204.4L73.94 219.4L75.61 229.4L76.11 229.4L77.78 219.4L78.26 204.4Z" fill-opacity="0.3"/>
<path d="M78.81 204.4L79.36 224.1L81.29 237.2L81.79 237.2L83.72 224.1L84.26 204.4Z" fill-opacity="0.3"/>
<path d="M90.06 204.4L90.54 216.4L92.21 224.4L92.71 224.4L94.38 216.4L94.86 204.4Z" fill-opacity="0.3"/>
<path d="M95.85 204.4L96.26 213.7L97.67 219.9L98.17 219.9L99.58 213.7L100.00 204.4Z" fill-opacity="0.3"/>
<path d="M97.94 204.4L98.42 217.2L100.09 225.7L100.59 225.7L102.26 217.2L102.74 204.4Z" fill-opacity="0.18"/>
<path d="M103.54 204.4L103.92 233.3L105.17 252.6L105.67 252.6L106.92 233.3L107.30 204.4Z" fill-opacity="0.3"/>
<path d="M105.89 204.4L106.30 221.8L107.71 233.5L108.21 233.5L109.62 221.8L110.04 204.4Z" fill-opacity="0.3"/>
<path d="M108.29 204.4L108.77 224.4L110.44 237.7L110.94 237.7L112.61 224.4L113.09 204.4Z" fill-opacity="0.3"/>
<path d="M116.16 204.4L116.77 221.8L118.96 233.3L119.46 233.3L121.65 221.8L122.26 204.4Z" fill-opacity="0.3"/>
<path d="M126.88 204.4L127.36 226.6L129.03 241.4L129.53 241.4L131.20 226.6L131.68 204.4Z" fill-opacity="0.3"/>
<path d="M131.01 204.4L131.55 229.4L133.48 246.0L133.98 246.0L135.91 229.4L136.46 204.4Z" fill-opacity="0.3"/>
<path d="M135.29 204.4L135.77 226.0L137.44 240.5L137.94 240.5L139.61 226.0L140.09 204.4Z" fill-opacity="0.3"/>
<path d="M142.28 204.4L142.76 219.5L144.43 229.6L144.93 229.6L146.60 219.5L147.08 204.4Z" fill-opacity="0.3"/>
<path d="M145.66 204.4L146.14 219.7L147.81 229.9L148.31 229.9L149.98 219.7L150.46 204.4Z" fill-opacity="0.3"/>
<path d="M149.47 204.4L149.82 213.2L150.97 219.2L151.47 219.2L152.62 213.2L152.97 204.4Z" fill-opacity="0.15"/>
<path d="M155.56 204.4L156.10 224.5L158.03 237.9L158.53 237.9L160.46 224.5L161.01 204.4Z" fill-opacity="0.3"/>
<path d="M160.10 204.3L160.84 225.1L163.55 239.0L164.05 239.0L166.76 225.1L167.50 204.3Z" fill-opacity="0.3"/>
<path d="M172.86 204.3L173.34 217.4L175.01 226.2L175.51 226.2L177.18 217.4L177.66 204.3Z" fill-opacity="0.24"/>
<path d="M176.67 204.3L177.08 238.4L178.49 261.2L178.99 261.2L180.40 238.4L180.82 204.3Z" fill-opacity="0.3"/>
<path d="M181.21 204.3L181.76 223.7L183.69 236.6L184.19 236.6L186.12 223.7L186.66 204.3Z" fill-opacity="0.3"/>
<path d="M190.21 204.3L190.88 225.9L193.33 240.2L193.83 240.2L196.28 225.9L196.96 204.3Z" fill-opacity="0.3"/>
<path d="M201.18 204.3L201.66 225.3L203.33 239.3L203.83 239.3L205.50 225.3L205.98 204.3Z" fill-opacity="0.3"/>
<path d="M204.69 204.3L205.17 225.5L206.84 239.6L207.34 239.6L209.01 225.5L209.49 204.3Z" fill-opacity="0.3"/>
<path d="M209.42 204.3L209.90 229.1L211.57 245.6L212.07 245.6L213.74 229.1L214.22 204.3Z" fill-opacity="0.3"/>
<path d="M213.57 204.3L213.99 210.9L215.40 215.4L215.90 215.4L217.31 210.9L217.72 204.3Z" fill-opacity="0.3"/>
<path d="M216.17 204.3L216.65 223.9L218.32 237.0L218.82 237.0L220.49 223.9L220.97 204.3Z" fill-opacity="0.3"/>
<path d="M218.82 204.3L219.30 221.4L220.97 232.7L221.47 232.7L223.14 221.4L223.62 204.3Z" fill-opacity="0.3"/>
<path d="M223.99 204.3L224.41 214.8L225.82 221.8L226.32 221.8L227.73 214.8L228.14 204.3Z" fill-opacity="0.15"/>
<path d="M228.52 204.3L229.00 221.4L230.67 232.8L231.17 232.8L232.84 221.4L233.32 204.3Z" fill-opacity="0.3"/>
<path d="M231.46 204.3L231.94 224.1L233.61 237.4L234.11 237.4L235.78 224.1L236.26 204.3Z" fill-opacity="0.3"/>
<path d="M234.72 204.3L235.59 230.4L238.82 247.8L239.32 247.8L242.55 230.4L243.42 204.3Z" fill-opacity="0.3"/>
<path d="M246.37 204.3L246.85 224.1L248.52 237.3L249.02 237.3L250.69 224.1L251.17 204.3Z" fill-opacity="0.3"/>
<path d="M250.90 204.3L251.38 223.5L253.05 236.4L253.55 236.4L255.22 223.5L255.70 204.3Z" fill-opacity="0.3"/>
<path d="M260.06 204.3L260.54 214.7L262.21 221.7L262.71 221.7L264.38 214.7L264.86 204.3Z" fill-opacity="0.3"/>
<path d="M264.42 204.3L264.83 213.0L266.24 218.8L266.74 218.8L268.15 213.0L268.57 204.3Z" fill-opacity="0.15"/>
<path d="M270.01 204.2L270.49 227.3L272.16 242.6L272.66 242.6L274.33 227.3L274.81 204.2Z" fill-opacity="0.3"/>
<path d="M273.96 204.2L274.44 228.0L276.11 243.8L276.61 243.8L278.28 228.0L278.76 204.2Z" fill-opacity="0.3"/>
<path d="M281.54 204.2L281.96 219.8L283.37 230.1L283.87 230.1L285.28 219.8L285.69 204.2Z" fill-opacity="0.3"/>
<path d="M284.28 204.2L284.76 225.6L286.43 239.8L286.93 239.8L288.60 225.6L289.08 204.2Z" fill-opacity="0.3"/>
<path d="M289.52 204.2L289.93 213.9L291.34 220.4L291.84 220.4L293.25 213.9L293.67 204.2Z" fill-opacity="0.15"/>
<path d="M295.04 204.2L295.65 222.4L297.84 234.5L298.34 234.5L300.53 222.4L301.14 204.2Z" fill-opacity="0.3"/>
<path d="M298.44 204.2L299.38 228.2L302.87 244.1L303.37 244.1L306.86 228.2L307.79 204.2Z" fill-opacity="0.3"/>
<path d="M310.36 204.2L310.97 223.7L313.16 236.7L313.66 236.7L315.85 223.7L316.46 204.2Z" fill-opacity="0.3"/>
<path d="M315.74 204.2L316.29 219.8L318.22 230.2L318.72 230.2L320.65 219.8L321.19 204.2Z" fill-opacity="0.3"/>
<path d="M326.41 204.2L326.89 214.1L328.56 220.6L329.06 220.6L330.73 214.1L331.21 204.2Z" fill-opacity="0.3"/>
<path d="M332.54 204.2L332.96 212.5L334.37 218.0L334.87 218.0L336.28 212.5L336.69 204.2Z" fill-opacity="0.15"/>
<path d="M340.22 204.2L340.70 220.4L342.37 231.3L342.87 231.3L344.54 220.4L345.02 204.2Z" fill-opacity="0.15"/>
<path d="M343.48 204.2L343.86 238.4L345.11 261.3L345.61 261.3L346.87 238.4L347.24 204.2Z" fill-opacity="0.3"/>
<path d="M346.53 204.2L347.01 217.1L348.68 225.7L349.18 225.7L350.85 217.1L351.33 204.2Z" fill-opacity="0.3"/>
<path d="M348.30 204.2L348.78 225.3L350.45 239.5L350.95 239.5L352.62 225.3L353.10 204.2Z" fill-opacity="0.3"/>
<path d="M356.19 204.2L356.80 221.4L358.99 232.9L359.49 232.9L361.68 221.4L362.29 204.2Z" fill-opacity="0.3"/>
<path d="M359.86 204.2L360.34 220.5L362.01 231.4L362.51 231.4L364.18 220.5L364.66 204.2Z" fill-opacity="0.3"/>
<path d="M366.84 204.2L367.32 228.2L368.99 244.2L369.49 244.2L371.16 228.2L371.64 204.2Z" fill-opacity="0.3"/>
<path d="M370.44 204.2L370.92 225.9L372.59 240.5L373.09 240.5L374.76 225.9L375.24 204.2Z" fill-opacity="0.3"/>
<path d="M376.81 204.1L377.29 228.7L378.96 245.1L379.46 245.1L381.13 228.7L381.61 204.1Z" fill-opacity="0.3"/>
<path d="M382.21 204.1L382.63 221.4L384.04 232.9L384.54 232.9L385.95 221.4L386.36 204.1Z" fill-opacity="0.3"/>
<path d="M386.68 204.1L387.09 221.0L388.50 232.3L389.00 232.3L390.41 221.0L390.83 204.1Z" fill-opacity="0.3"/>
<path d="M391.22 204.1L391.63 214.1L393.04 220.7L393.54 220.7L394.95 214.1L395.37 204.1Z" fill-opacity="0.15"/>
<path d="M395.33 204.1L395.94 220.1L398.13 230.7L398.63 230.7L400.82 220.1L401.43 204.1Z" fill-opacity="0.3"/>
<path d="M400.04 204.1L401.04 231.8L404.79 250.2L405.29 250.2L409.04 231.8L410.04 204.1Z" fill-opacity="0.3"/>
<path d="M412.81 204.1L413.29 222.5L414.96 234.7L415.46 234.7L417.13 222.5L417.61 204.1Z" fill-opacity="0.3"/>
<path d="M417.64 204.1L418.12 223.8L419.79 236.9L420.29 236.9L421.96 223.8L422.44 204.1Z" fill-opacity="0.3"/>
<path d="M427.08 204.1L427.56 214.9L429.23 222.1L429.73 222.1L431.40 214.9L431.88 204.1Z" fill-opacity="0.3"/>
<path d="M432.48 204.1L432.89 211.5L434.30 216.4L434.80 216.4L436.21 211.5L436.63 204.1Z" fill-opacity="0.15"/>
<path d="M435.14 204.1L435.62 219.3L437.29 229.4L437.79 229.4L439.46 219.3L439.94 204.1Z" fill-opacity="0.3"/>
<path d="M438.68 204.1L439.10 233.0L440.51 252.3L441.01 252.3L442.42 233.0L442.83 204.1Z" fill-opacity="0.3"/>
<path d="M443.70 204.1L444.12 216.4L445.53 224.6L446.03 224.6L447.44 216.4L447.85 204.1Z" fill-opacity="0.3"/>
<path d="M446.53 204.1L447.01 227.1L448.68 242.4L449.18 242.4L450.85 227.1L451.33 204.1Z" fill-opacity="0.3"/>
<path d="M453.12 204.1L453.93 223.2L456.90 235.9L457.40 235.9L460.37 223.2L461.17 204.1Z" fill-opacity="0.3"/>
<path d="M462.92 204.1L463.47 228.8L465.40 245.3L465.90 245.3L467.83 228.8L468.37 204.1Z" fill-opacity="0.3"/>
<path d="M466.67 204.1L467.15 227.7L468.82 243.5L469.32 243.5L470.99 227.7L471.47 204.1Z" fill-opacity="0.3"/>
<path d="M471.89 204.1L472.37 226.9L474.04 242.2L474.54 242.2L476.21 226.9L476.69 204.1Z" fill-opacity="0.3"/>
<path d="M479.52 204.1L480.00 221.7L481.67 233.5L482.17 233.5L483.84 221.7L484.32 204.1Z" fill-opacity="0.3"/>
<path d="M481.86 204.0L482.34 222.9L484.01 235.5L484.51 235.5L486.18 222.9L486.66 204.0Z" fill-opacity="0.3"/>
<path d="M492.44 204.0L492.99 224.0L494.92 237.3L495.42 237.3L497.35 224.0L497.89 204.0Z" fill-opacity="0.3"/>
<path d="M495.78 204.0L496.26 223.8L497.93 237.0L498.43 237.0L500.10 223.8L500.58 204.0Z" fill-opacity="0.3"/>
<path d="M498.10 204.0L498.97 226.3L502.20 241.1L502.70 241.1L505.93 226.3L506.80 204.0Z" fill-opacity="0.3"/>
<path d="M509.21 204.0L509.69 221.0L511.36 232.3L511.86 232.3L513.53 221.0L514.01 204.0Z" fill-opacity="0.3"/>
<path d="M513.01 204.0L513.56 220.3L515.49 231.2L515.99 231.2L517.92 220.3L518.46 204.0Z" fill-opacity="0.3"/>
<path d="M523.58 204.0L524.06 214.6L525.73 221.6L526.23 221.6L527.90 214.6L528.38 204.0Z" fill-opacity="0.3"/>
<path d="M528.87 204.0L529.29 213.0L530.70 219.0L531.20 219.0L532.61 213.0L533.02 204.0Z" fill-opacity="0.18"/>
<path d="M534.21 204.0L534.63 221.7L536.04 233.4L536.54 233.4L537.95 221.7L538.36 204.0Z" fill-opacity="0.3"/>
<path d="M538.22 204.0L538.63 215.9L540.04 223.9L540.54 223.9L541.95 215.9L542.37 204.0Z" fill-opacity="0.12"/>
<path d="M549.17 204.0L549.65 225.1L551.32 239.1L551.82 239.1L553.49 225.1L553.97 204.0Z" fill-opacity="0.3"/>
<path d="M551.78 204.0L552.26 224.7L553.93 238.5L554.43 238.5L556.10 224.7L556.58 204.0Z" fill-opacity="0.3"/>
<path d="M556.22 204.4L556.63 216.5L558.04 224.5L558.54 224.5L559.95 216.5L560.37 204.4Z" fill-opacity="0.3"/>
<path d="M559.97 204.9L560.38 221.4L561.79 232.4L562.29 232.4L563.70 221.4L564.12 204.9Z" fill-opacity="0.3"/>
<path d="M562.50 205.2L562.98 224.7L564.65 237.7L565.15 237.7L566.82 224.7L567.30 205.2Z" fill-opacity="0.3"/>
<path d="M574.67 203.5L575.09 217.1L576.50 226.2L577.00 226.2L578.41 217.1L578.82 203.5Z" fill-opacity="0.24"/>
<path d="M599.12 206.9L599.47 215.2L600.62 220.7L601.12 220.7L602.27 215.2L602.62 206.9Z" fill-opacity="0.09"/>
<path d="M610.20 201.6L610.61 215.3L612.02 224.4L612.52 224.4L613.93 215.3L614.35 201.6Z" fill-opacity="0.3"/>
<path d="M640.91 201.5L641.26 214.6L642.41 223.4L642.91 223.4L644.06 214.6L644.41 201.5Z" fill-opacity="0.09"/>
<path d="M650.02 204.6L650.43 218.1L651.84 227.2L652.34 227.2L653.75 218.1L654.17 204.6Z" fill-opacity="0.3"/>
<path d="M655.51 202.7L655.93 212.3L657.34 218.7L657.84 218.7L659.25 212.3L659.66 202.7Z" fill-opacity="0.18"/>
<path d="M657.80 202.3L658.13 225.6L659.17 241.2L659.67 241.2L660.72 225.6L661.04 202.3Z" fill-opacity="0.09"/>
<path d="M677.22 200.1L677.63 211.6L679.04 219.3L679.54 219.3L680.95 211.6L681.37 200.1Z" fill-opacity="0.18"/>
<path d="M682.02 200.2L682.43 214.5L683.84 224.0L684.34 224.0L685.75 214.5L686.17 200.2Z" fill-opacity="0.24"/>
<path d="M697.48 200.5L697.83 213.7L698.98 222.4L699.48 222.4L700.63 213.7L700.98 200.5Z" fill-opacity="0.09"/>
<path d="M707.55 201.5L707.97 217.8L709.38 228.6L709.88 228.6L711.29 217.8L711.70 201.5Z" fill-opacity="0.3"/>
<path d="M738.87 202.4L739.22 215.7L740.37 224.6L740.87 224.6L742.02 215.7L742.37 202.4Z" fill-opacity="0.09"/>
<path d="M748.67 203.4L749.09 221.0L750.50 232.8L751.00 232.8L752.41 221.0L752.82 203.4Z" fill-opacity="0.3"/>
<path d="M753.16 202.6L753.58 211.5L754.99 217.4L755.49 217.4L756.90 211.5L757.31 202.6Z" fill-opacity="0.18"/>
<path d="M755.44 202.3L755.77 228.4L756.81 245.8L757.31 245.8L758.36 228.4L758.68 202.3Z" fill-opacity="0.09"/>
<path d="M775.76 200.3L776.18 213.2L777.59 221.9L778.09 221.9L779.50 213.2L779.91 200.3Z" fill-opacity="0.18"/>
<path d="M779.21 200.4L779.63 213.2L781.04 221.8L781.54 221.8L782.95 213.2L783.36 200.4Z" fill-opacity="0.24"/>
<path d="M3.17 203.5L3.50 227.5L4.28 235.5L4.72 235.5L5.50 227.5L5.83 203.5Z" fill-opacity="0.8"/>
<path d="M6.45 203.5L6.66 254.9L7.08 272.0L7.52 272.0L7.94 254.9L8.15 203.5Z" fill-opacity="1"/>
<path d="M9.35 203.5L9.64 230.1L10.28 239.0L10.72 239.0L11.36 230.1L11.65 203.5Z" fill-opacity="1"/>
<path d="M12.65 203.5L12.94 240.6L13.58 253.0L14.03 253.0L14.66 240.6L14.95 203.5Z" fill-opacity="1"/>
<path d="M19.45 203.5L19.96 238.4L21.27 250.0L21.73 250.0L23.04 238.4L23.55 203.5Z" fill-opacity="1"/>
<path d="M30.35 203.5L30.71 240.6L31.57 253.0L32.02 253.0L32.89 240.6L33.25 203.5Z" fill-opacity="1"/>
<path d="M35.45 203.5L35.74 245.5L36.38 259.5L36.83 259.5L37.46 245.5L37.75 203.5Z" fill-opacity="1"/>
<path d="M39.75 203.5L39.96 240.6L40.38 253.0L40.83 253.0L41.24 240.6L41.45 203.5Z" fill-opacity="1"/>
<path d="M46.85 203.5L47.14 233.1L47.77 243.0L48.23 243.0L48.86 233.1L49.15 203.5Z" fill-opacity="1"/>
<path d="M49.35 203.5L49.64 236.1L50.27 247.0L50.73 247.0L51.36 236.1L51.65 203.5Z" fill-opacity="1"/>
<path d="M58.85 203.4L59.14 235.1L59.77 245.7L60.23 245.7L60.86 235.1L61.15 203.4Z" fill-opacity="1"/>
<path d="M61.35 203.4L61.64 236.1L62.27 247.0L62.73 247.0L63.36 236.1L63.65 203.4Z" fill-opacity="1"/>
<path d="M65.15 203.4L65.74 245.5L67.28 259.5L67.72 259.5L69.26 245.5L69.85 203.4Z" fill-opacity="1"/>
<path d="M75.05 203.4L75.41 231.3L76.28 240.6L76.72 240.6L77.59 231.3L77.95 203.4Z" fill-opacity="1"/>
<path d="M80.25 203.4L80.69 235.1L81.78 245.7L82.22 245.7L83.31 235.1L83.75 203.4Z" fill-opacity="1"/>
<path d="M90.55 203.4L90.91 223.7L91.78 230.5L92.22 230.5L93.09 223.7L93.45 203.4Z" fill-opacity="1"/>
<path d="M97.35 203.4L97.64 221.9L98.28 228.0L98.72 228.0L99.36 221.9L99.65 203.4Z" fill-opacity="1"/>
<path d="M99.55 203.4L99.91 225.6L100.78 233.0L101.22 233.0L102.09 225.6L102.45 203.4Z" fill-opacity="0.6"/>
<path d="M104.03 203.4L104.27 255.9L104.78 273.4L105.22 273.4L105.73 255.9L105.97 203.4Z" fill-opacity="1"/>
<path d="M107.05 203.4L107.34 230.1L107.98 239.0L108.42 239.0L109.06 230.1L109.35 203.4Z" fill-opacity="1"/>
<path d="M109.55 203.4L109.91 240.6L110.78 253.0L111.22 253.0L112.09 240.6L112.45 203.4Z" fill-opacity="1"/>
<path d="M116.95 203.4L117.46 238.9L118.78 250.7L119.22 250.7L120.54 238.9L121.05 203.4Z" fill-opacity="1"/>
<path d="M127.15 203.4L127.51 240.6L128.38 253.0L128.82 253.0L129.69 240.6L130.05 203.4Z" fill-opacity="1"/>
<path d="M131.25 203.4L131.69 246.4L132.78 260.8L133.22 260.8L134.31 246.4L134.75 203.4Z" fill-opacity="1"/>
<path d="M136.05 203.4L136.41 241.7L137.28 254.5L137.72 254.5L138.59 241.7L138.95 203.4Z" fill-opacity="1"/>
<path d="M143.05 203.4L143.41 233.1L144.28 243.0L144.72 243.0L145.59 233.1L145.95 203.4Z" fill-opacity="1"/>
<path d="M146.25 203.4L146.61 235.1L147.47 245.7L147.92 245.7L148.79 235.1L149.15 203.4Z" fill-opacity="1"/>
<path d="M150.15 203.4L150.36 220.9L150.78 226.7L151.22 226.7L151.64 220.9L151.85 203.4Z" fill-opacity="0.5"/>
<path d="M156.25 203.4L156.69 235.1L157.78 245.7L158.22 245.7L159.31 235.1L159.75 203.4Z" fill-opacity="1"/>
<path d="M161.85 203.3L162.51 245.5L164.28 259.5L164.72 259.5L166.49 245.5L167.15 203.3Z" fill-opacity="1"/>
<path d="M174.05 203.3L174.41 227.5L175.28 235.5L175.72 235.5L176.59 227.5L176.95 203.3Z" fill-opacity="0.8"/>
<path d="M177.45 203.3L177.74 255.9L178.38 273.4L178.82 273.4L179.46 255.9L179.75 203.3Z" fill-opacity="1"/>
<path d="M182.75 203.3L183.19 241.7L184.28 254.5L184.72 254.5L185.81 241.7L186.25 203.3Z" fill-opacity="1"/>
<path d="M190.45 203.3L191.04 238.9L192.58 250.7L193.03 250.7L194.56 238.9L195.15 203.3Z" fill-opacity="1"/>
<path d="M197.55 203.3L197.91 209.5L198.78 211.6L199.22 211.6L200.09 209.5L200.45 203.3Z" fill-opacity="1"/>
<path d="M201.35 203.3L201.71 240.6L202.58 253.0L203.03 253.0L203.89 240.6L204.25 203.3Z" fill-opacity="1"/>
<path d="M205.75 203.3L206.11 246.4L206.97 260.8L207.42 260.8L208.29 246.4L208.65 203.3Z" fill-opacity="1"/>
<path d="M210.25 203.3L210.61 240.6L211.47 253.0L211.92 253.0L212.79 240.6L213.15 203.3Z" fill-opacity="1"/>
<path d="M214.65 203.3L214.94 214.3L215.58 218.0L216.03 218.0L216.66 214.3L216.95 203.3Z" fill-opacity="1"/>
<path d="M217.55 203.3L217.91 233.1L218.78 243.0L219.22 243.0L220.09 233.1L220.45 203.3Z" fill-opacity="1"/>
<path d="M220.35 203.3L220.71 235.1L221.58 245.7L222.03 245.7L222.89 235.1L223.25 203.3Z" fill-opacity="1"/>
<path d="M224.75 203.3L225.04 220.8L225.68 226.7L226.12 226.7L226.76 220.8L227.05 203.3Z" fill-opacity="0.5"/>
<path d="M229.55 203.3L229.91 235.1L230.78 245.7L231.22 245.7L232.09 235.1L232.45 203.3Z" fill-opacity="1"/>
<path d="M232.35 203.3L232.71 236.1L233.58 247.0L234.03 247.0L234.89 236.1L235.25 203.3Z" fill-opacity="1"/>
<path d="M235.25 203.3L236.06 245.4L238.28 259.5L238.72 259.5L240.94 245.4L241.75 203.3Z" fill-opacity="1"/>
<path d="M247.45 203.3L247.81 233.1L248.68 243.0L249.12 243.0L249.99 233.1L250.35 203.3Z" fill-opacity="1"/>
<path d="M251.85 203.3L252.21 235.1L253.08 245.7L253.53 245.7L254.39 235.1L254.75 203.3Z" fill-opacity="1"/>
<path d="M261.35 203.3L261.71 223.7L262.57 230.5L263.03 230.5L263.89 223.7L264.25 203.3Z" fill-opacity="1"/>
<path d="M265.75 203.3L266.04 217.1L266.67 221.7L267.12 221.7L267.76 217.1L268.05 203.3Z" fill-opacity="0.5"/>
<path d="M270.85 203.2L271.21 246.4L272.07 260.8L272.53 260.8L273.39 246.4L273.75 203.2Z" fill-opacity="1"/>
<path d="M275.25 203.2L275.61 240.6L276.47 253.0L276.93 253.0L277.79 240.6L278.15 203.2Z" fill-opacity="1"/>
<path d="M282.75 203.2L283.04 233.1L283.67 243.0L284.12 243.0L284.76 233.1L285.05 203.2Z" fill-opacity="1"/>
<path d="M285.35 203.2L285.71 236.1L286.57 247.0L287.03 247.0L287.89 236.1L288.25 203.2Z" fill-opacity="1"/>
<path d="M289.75 203.2L290.04 218.8L290.67 224.0L291.12 224.0L291.76 218.8L292.05 203.2Z" fill-opacity="0.5"/>
<path d="M295.45 203.2L295.96 236.1L297.27 247.0L297.73 247.0L299.04 236.1L299.55 203.2Z" fill-opacity="1"/>
<path d="M299.95 203.2L300.84 244.5L303.27 258.3L303.73 258.3L306.16 244.5L307.05 203.2Z" fill-opacity="1"/>
<path d="M312.15 203.2L312.66 233.1L313.97 243.0L314.43 243.0L315.74 233.1L316.25 203.2Z" fill-opacity="1"/>
<path d="M317.15 203.2L317.59 234.1L318.67 244.4L319.12 244.4L320.21 234.1L320.65 203.2Z" fill-opacity="1"/>
<path d="M327.25 203.2L327.61 222.7L328.47 229.2L328.93 229.2L329.79 222.7L330.15 203.2Z" fill-opacity="1"/>
<path d="M332.95 203.2L333.24 218.0L333.88 223.0L334.33 223.0L334.96 218.0L335.25 203.2Z" fill-opacity="0.5"/>
<path d="M341.15 203.2L341.51 228.4L342.38 236.8L342.83 236.8L343.69 228.4L344.05 203.2Z" fill-opacity="0.5"/>
<path d="M344.53 203.2L344.77 254.9L345.27 272.2L345.73 272.2L346.23 254.9L346.47 203.2Z" fill-opacity="1"/>
<path d="M347.45 203.2L347.81 226.5L348.67 234.3L349.12 234.3L349.99 226.5L350.35 203.2Z" fill-opacity="1"/>
<path d="M349.85 203.2L350.21 240.5L351.07 253.0L351.53 253.0L352.39 240.5L352.75 203.2Z" fill-opacity="1"/>
<path d="M356.85 203.2L357.36 237.8L358.67 249.4L359.12 249.4L360.44 237.8L360.95 203.2Z" fill-opacity="1"/>
<path d="M360.05 203.2L360.41 234.1L361.27 244.4L361.73 244.4L362.59 234.1L362.95 203.2Z" fill-opacity="1"/>
<path d="M367.55 203.2L367.91 240.5L368.77 253.0L369.23 253.0L370.09 240.5L370.45 203.2Z" fill-opacity="1"/>
<path d="M372.05 203.2L372.41 244.5L373.27 258.3L373.73 258.3L374.59 244.5L374.95 203.2Z" fill-opacity="1"/>
<path d="M377.15 203.1L377.51 240.5L378.38 253.0L378.83 253.0L379.69 240.5L380.05 203.1Z" fill-opacity="1"/>
<path d="M383.85 203.1L384.14 232.2L384.77 241.9L385.23 241.9L385.86 232.2L386.15 203.1Z" fill-opacity="1"/>
<path d="M387.25 203.1L387.54 234.1L388.17 244.4L388.62 244.4L389.26 234.1L389.55 203.1Z" fill-opacity="1"/>
<path d="M391.65 203.1L391.94 219.9L392.57 225.5L393.03 225.5L393.66 219.9L393.95 203.1Z" fill-opacity="0.5"/>
<path d="M396.45 203.1L396.96 234.1L398.27 244.4L398.73 244.4L400.04 234.1L400.55 203.1Z" fill-opacity="1"/>
<path d="M400.55 203.1L401.51 244.5L404.17 258.3L404.62 258.3L407.29 244.5L408.25 203.1Z" fill-opacity="1"/>
<path d="M414.05 203.1L414.41 233.0L415.27 243.0L415.73 243.0L416.59 233.0L416.95 203.1Z" fill-opacity="1"/>
<path d="M418.45 203.1L418.81 235.1L419.67 245.7L420.12 245.7L420.99 235.1L421.35 203.1Z" fill-opacity="1"/>
<path d="M428.55 203.1L428.91 223.7L429.77 230.5L430.23 230.5L431.09 223.7L431.45 203.1Z" fill-opacity="1"/>
<path d="M432.95 203.1L433.24 218.0L433.88 223.0L434.33 223.0L434.96 218.0L435.25 203.1Z" fill-opacity="0.5"/>
<path d="M436.75 203.1L437.11 226.5L437.97 234.3L438.43 234.3L439.29 226.5L439.65 203.1Z" fill-opacity="1"/>
<path d="M440.25 203.1L440.54 255.8L441.17 273.4L441.62 273.4L442.26 255.8L442.55 203.1Z" fill-opacity="1"/>
<path d="M444.35 203.1L444.64 227.4L445.27 235.5L445.73 235.5L446.36 227.4L446.65 203.1Z" fill-opacity="1"/>
<path d="M446.85 203.1L447.21 240.5L448.07 253.0L448.53 253.0L449.39 240.5L449.75 203.1Z" fill-opacity="1"/>
<path d="M453.85 203.1L454.59 238.8L456.57 250.7L457.03 250.7L459.01 238.8L459.75 203.1Z" fill-opacity="1"/>
<path d="M463.95 203.1L464.39 240.5L465.47 253.0L465.93 253.0L467.01 240.5L467.45 203.1Z" fill-opacity="1"/>
<path d="M468.25 203.1L468.61 245.4L469.47 259.5L469.93 259.5L470.79 245.4L471.15 203.1Z" fill-opacity="1"/>
<path d="M472.75 203.1L473.11 240.5L473.97 253.0L474.43 253.0L475.29 240.5L475.65 203.1Z" fill-opacity="1"/>
<path d="M480.25 203.1L480.61 232.2L481.47 241.9L481.93 241.9L482.79 232.2L483.15 203.1Z" fill-opacity="1"/>
<path d="M483.35 203.0L483.71 235.0L484.57 245.7L485.03 245.7L485.89 235.0L486.25 203.0Z" fill-opacity="1"/>
<path d="M492.95 203.0L493.39 235.0L494.47 245.7L494.93 245.7L496.01 235.0L496.45 203.0Z" fill-opacity="1"/>
<path d="M497.45 203.0L497.81 235.0L498.67 245.7L499.12 245.7L499.99 235.0L500.35 203.0Z" fill-opacity="1"/>
<path d="M499.25 203.0L500.06 245.4L502.27 259.5L502.73 259.5L504.94 245.4L505.75 203.0Z" fill-opacity="1"/>
<path d="M510.55 203.0L510.91 234.1L511.77 244.4L512.23 244.4L513.09 234.1L513.45 203.0Z" fill-opacity="1"/>
<path d="M514.65 203.0L515.09 235.0L516.17 245.7L516.62 245.7L517.71 235.0L518.15 203.0Z" fill-opacity="1"/>
<path d="M524.75 203.0L525.11 223.6L525.98 230.5L526.43 230.5L527.29 223.6L527.65 203.0Z" fill-opacity="1"/>
<path d="M530.05 203.0L530.34 218.0L530.98 223.0L531.43 223.0L532.06 218.0L532.35 203.0Z" fill-opacity="0.6"/>
<path d="M535.45 203.0L535.74 237.8L536.38 249.4L536.83 249.4L537.46 237.8L537.75 203.0Z" fill-opacity="1"/>
<path d="M539.25 203.0L539.54 225.5L540.17 233.0L540.62 233.0L541.26 225.5L541.55 203.0Z" fill-opacity="0.4"/>
<path d="M550.55 203.0L550.91 235.0L551.77 245.7L552.23 245.7L553.09 235.0L553.45 203.0Z" fill-opacity="1"/>
<path d="M553.15 203.0L553.51 239.8L554.38 252.0L554.83 252.0L555.69 239.8L556.05 203.0Z" fill-opacity="1"/>
<path d="M556.95 203.4L557.24 223.7L557.88 230.5L558.33 230.5L558.96 223.7L559.25 203.4Z" fill-opacity="1"/>
<path d="M561.35 203.9L561.64 236.2L562.27 247.0L562.73 247.0L563.36 236.2L563.65 203.9Z" fill-opacity="1"/>
<path d="M563.65 204.3L564.01 241.9L564.88 254.5L565.33 254.5L566.19 241.9L566.55 204.3Z" fill-opacity="1"/>
<path d="M575.55 202.5L575.84 224.5L576.48 231.8L576.93 231.8L577.56 224.5L577.85 202.5Z" fill-opacity="0.8"/>
<path d="M600.45 205.1L600.66 220.5L601.07 225.6L601.52 225.6L601.94 220.5L602.15 205.1Z" fill-opacity="0.3"/>
<path d="M611.45 200.8L611.74 226.0L612.38 234.4L612.83 234.4L613.46 226.0L613.75 200.8Z" fill-opacity="1"/>
<path d="M641.45 200.5L641.66 221.1L642.07 228.0L642.52 228.0L642.94 221.1L643.15 200.5Z" fill-opacity="0.3"/>
<path d="M651.55 202.9L651.84 231.2L652.48 240.7L652.93 240.7L653.56 231.2L653.85 202.9Z" fill-opacity="1"/>
<path d="M655.85 201.8L656.14 217.7L656.77 223.0L657.23 223.0L657.86 217.7L658.15 201.8Z" fill-opacity="0.6"/>
<path d="M658.57 201.3L658.75 240.3L659.07 253.3L659.52 253.3L659.85 240.3L660.03 201.3Z" fill-opacity="0.3"/>
<path d="M678.65 199.1L678.94 220.8L679.57 228.0L680.02 228.0L680.66 220.8L680.95 199.1Z" fill-opacity="0.6"/>
<path d="M683.15 199.2L683.44 220.8L684.07 228.0L684.52 228.0L685.16 220.8L685.45 199.2Z" fill-opacity="0.8"/>
<path d="M698.15 199.5L698.36 219.1L698.77 225.6L699.23 225.6L699.64 219.1L699.85 199.5Z" fill-opacity="0.3"/>
<path d="M709.15 200.5L709.44 225.9L710.07 234.4L710.52 234.4L711.16 225.9L711.45 200.5Z" fill-opacity="1"/>
<path d="M739.15 200.5L739.36 221.1L739.77 228.0L740.23 228.0L740.64 221.1L740.85 200.5Z" fill-opacity="0.3"/>
<path d="M748.95 202.5L749.24 231.1L749.88 240.7L750.33 240.7L750.96 231.1L751.25 202.5Z" fill-opacity="1"/>
<path d="M753.35 201.7L753.64 217.7L754.27 223.0L754.73 223.0L755.36 217.7L755.65 201.7Z" fill-opacity="0.6"/>
<path d="M756.27 201.3L756.45 240.3L756.77 253.3L757.23 253.3L757.55 240.3L757.73 201.3Z" fill-opacity="0.3"/>
<path d="M776.05 199.3L776.34 220.8L776.98 228.0L777.43 228.0L778.06 220.8L778.35 199.3Z" fill-opacity="0.6"/>
<path d="M780.45 199.4L780.74 220.9L781.38 228.0L781.83 228.0L782.46 220.9L782.75 199.4Z" fill-opacity="0.8"/>
<path d="M547.1 203.5L547.8 188.2L548.2 188.2L548.9 203.5Z"/>
<path d="M638.1 201.0L638.8 186.4L639.2 186.4L639.9 201.0Z"/>
<path d="M735.3 200.6L736.0 186.4L736.4 186.4L737.1 200.6Z"/>
<path d="M768.1 199.7L768.8 189.0L769.2 189.0L769.9 199.7Z"/>
<path d="M0.00 399.6L0.30 399.3L0.60 400.6L0.90 399.0L1.20 399.6L1.50 400.6L1.80 398.8L2.10 396.7L2.40 397.8L2.70 399.9L3.00 402.5L3.30 402.2L3.60 399.4L3.90 398.3L4.20 400.3L4.50 403.1L4.80 403.2L5.10 396.2L5.40 399.2L5.70 400.9L6.00 400.1L6.30 400.0L6.60 401.4L6.90 402.6L7.20 401.1L7.50 399.8L7.80 399.5L8.10 403.6L8.40 402.7L8.70 402.6L9.00 399.2L9.30 400.9L9.60 404.1L9.90 404.4L10.20 401.6L10.50 401.4L10.80 396.7L11.10 396.7L11.40 401.2L11.70 399.7L12.00 395.5L12.30 399.9L12.60 402.3L12.90 399.2L13.20 402.0L13.50 400.6L13.80 399.8L14.10 402.2L14.40 395.4L14.70 396.3L15.00 397.9L15.30 399.8L15.60 400.2L15.90 399.9L16.20 403.0L16.50 397.9L16.80 398.8L17.10 399.4L17.40 399.9L17.70 400.7L18.00 400.1L18.30 400.1L18.60 399.3L18.90 401.3L19.20 400.7L19.50 401.6L19.80 401.2L20.10 403.4L20.40 400.3L20.70 399.1L21.00 402.0L21.30 398.2L21.60 398.1L21.90 396.5L22.20 399.5L22.50 400.0L22.80 400.5L23.10 398.8L23.40 401.3L23.70 400.1L24.00 402.2L24.30 402.1L24.60 402.0L24.90 403.9L25.20 404.9L25.50 400.3L25.80 403.9L26.10 401.4L26.40 400.5L26.70 398.8L27.00 402.0L27.30 401.1L27.60 403.5L27.90 403.9L28.20 403.3L28.50 398.5L28.80 398.2L29.10 400.5L29.40 399.9L29.70 396.1L30.00 397.7L30.30 401.1L30.60 401.6L30.90 403.5L31.20 406.5L31.50 403.4L31.80 402.2L32.10 404.0L32.40 401.5L32.70 398.1L33.00 401.1L33.30 398.8L33.60 401.0L33.90 399.3L34.20 397.3L34.50 399.1L34.80 401.7L35.10 402.9L35.40 399.8L35.70 404.5L36.00 405.5L36.30 405.6L36.60 403.4L36.90 402.9L37.20 403.7L37.50 403.3L37.80 397.0L38.10 402.8L38.40 403.1L38.70 405.6L39.00 401.8L39.30 402.5L39.60 402.8L39.90 403.8L40.20 403.2L40.50 398.0L40.80 402.6L41.10 404.3L41.40 401.4L41.70 400.6L42.00 399.3L42.30 398.7L42.60 401.8L42.90 401.1L43.20 399.3L43.50 400.2L43.80 400.0L44.10 403.7L44.40 402.6L44.70 398.4L45.00 403.0L45.30 402.8L45.60 399.0L45.90 396.7L46.20 404.1L46.50 404.2L46.80 402.9L47.10 402.2L47.40 401.3L47.70 403.1L48.00 402.4L48.30 402.0L48.60 400.3L48.90 402.0L49.20 397.5L49.50 399.6L49.80 391.1L50.10 396.5L50.40 397.8L50.70 401.3L51.00 404.1L51.30 403.9L51.60 404.3L51.90 403.9L52.20 400.8L52.50 403.8L52.80 402.0L53.10 398.6L53.40 398.7L53.70 400.0L54.00 402.5L54.30 401.9L54.60 400.8L54.90 399.9L55.20 399.7L55.50 400.7L55.80 402.0L56.10 400.1L56.40 402.7L56.70 399.0L57.00 401.2L57.30 401.6L57.60 401.8L57.90 403.2L58.20 405.2L58.50 401.5L58.80 402.3L59.10 406.2L59.40 399.0L59.70 400.6L60.00 399.1L60.30 402.8L60.60 403.7L60.90 403.7L61.20 401.8L61.50 404.3L61.80 404.4L62.10 398.6L62.40 403.0L62.70 400.1L63.00 401.3L63.30 402.3L63.60 401.3L63.90 402.0L64.20 403.9L64.50 402.5L64.80 400.5L65.10 400.9L65.40 401.8L65.70 403.4L66.00 402.7L66.30 402.4L66.60 399.9L66.90 402.4L67.20 402.6L67.50 404.9L67.80 398.1L68.10 401.0L68.40 403.8L68.70 399.3L69.00 400.8L69.30 400.8L69.60 399.6L69.90 394.8L70.20 400.1L70.50 398.4L70.80 401.3L71.10 400.7L71.40 400.4L71.70 403.4L72.00 404.0L72.30 400.6L72.60 400.6L72.90 402.4L73.20 402.8L73.50 403.5L73.80 402.3L74.10 399.9L74.40 397.8L74.70 401.2L75.00 401.6L75.30 400.0L75.60 400.1L75.90 400.1L76.20 400.0L76.50 403.5L76.80 405.4L77.10 403.2L77.40 399.8L77.70 396.9L78.00 398.2L78.30 401.5L78.60 400.9L78.90 403.4L79.20 401.8L79.50 400.4L79.80 403.5L80.10 403.2L80.40 404.0L80.70 404.8L81.00 402.7L81.30 404.4L81.60 404.6L81.90 404.7L82.20 402.7L82.50 402.0L82.80 403.5L83.10 404.6L83.40 403.7L83.70 402.9L84.00 404.9L84.30 402.9L84.60 405.8L84.90 404.0L85.20 406.7L85.50 402.9L85.80 404.2L86.10 401.7L86.40 406.3L86.70 404.7L87.00 406.9L87.30 409.1L87.60 403.4L87.90 406.3L88.20 405.9L88.50 404.8L88.80 404.9L89.10 403.9L89.40 406.2L89.70 399.2L90.00 401.4L90.30 403.5L90.60 406.2L90.90 404.1L91.20 403.6L91.50 402.8L91.80 402.6L92.10 401.5L92.40 403.2L92.70 403.0L93.00 403.7L93.30 404.9L93.60 400.5L93.90 401.7L94.20 403.2L94.50 402.8L94.80 398.9L95.10 398.2L95.40 401.2L95.70 400.9L96.00 403.2L96.30 399.7L96.60 402.2L96.90 406.7L97.20 403.3L97.50 397.9L97.80 396.9L98.10 397.5L98.40 403.2L98.70 402.3L99.00 400.3L99.30 400.2L99.60 400.5L99.90 401.0L100.20 399.1L100.50 400.0L100.80 399.6L101.10 400.8L101.40 400.3L101.70 399.3L102.00 401.9L102.30 406.3L102.60 406.3L102.90 404.3L103.20 403.6L103.50 403.8L103.80 409.1L104.10 405.8L104.40 409.5L104.70 404.5L105.00 403.2L105.30 401.8L105.60 404.0L105.90 401.1L106.20 405.6L106.50 406.0L106.80 401.8L107.10 402.7L107.40 404.6L107.70 402.6L108.00 404.1L108.30 398.0L108.60 401.3L108.90 402.8L109.20 403.0L109.50 397.9L109.80 399.9L110.10 405.6L110.40 401.8L110.70 402.3L111.00 402.1L111.30 402.8L111.60 400.9L111.90 396.7L112.20 401.8L112.50 402.3L112.80 403.5L113.10 403.4L113.40 398.6L113.70 400.9L114.00 404.5L114.30 404.4L114.60 401.9L114.90 400.6L115.20 402.5L115.50 402.2L115.80 404.3L116.10 404.1L116.40 402.7L116.70 401.0L117.00 400.1L117.30 402.5L117.60 399.6L117.90 402.5L118.20 403.0L118.50 399.5L118.80 402.2L119.10 401.1L119.40 403.6L119.70 400.2L120.00 401.8L120.30 405.1L120.60 401.3L120.90 402.5L121.20 399.7L121.50 401.6L121.80 401.7L122.10 402.5L122.40 399.7L122.70 402.3L123.00 402.6L123.30 402.4L123.60 405.7L123.90 402.9L124.20 404.9L124.50 403.8L124.80 405.5L125.10 403.9L125.40 404.3L125.70 404.5L126.00 402.0L126.30 401.3L126.60 403.1L126.90 406.8L127.20 402.2L127.50 404.8L127.80 405.7L128.10 405.8L128.40 406.1L128.70 400.1L129.00 406.2L129.30 403.4L129.60 404.7L129.90 400.5L130.20 404.8L130.50 404.3L130.80 404.0L131.10 402.1L131.40 401.5L131.70 406.3L132.00 405.4L132.30 405.6L132.60 402.7L132.90 403.4L133.20 399.9L133.50 400.8L133.80 397.4L134.10 406.5L134.40 402.3L134.70 405.3L135.00 405.3L135.30 406.3L135.60 406.8L135.90 405.6L136.20 404.4L136.50 405.6L136.80 403.4L137.10 405.3L137.40 402.4L137.70 400.1L138.00 402.5L138.30 401.6L138.60 404.0L138.90 403.4L139.20 404.2L139.50 409.4L139.80 407.7L140.10 407.6L140.40 400.8L140.70 401.6L141.00 400.9L141.30 401.3L141.60 403.6L141.90 400.6L142.20 401.9L142.50 403.1L142.80 403.3L143.10 400.0L143.40 397.8L143.70 404.5L144.00 406.2L144.30 403.4L144.60 403.0L144.90 405.0L145.20 406.9L145.50 404.7L145.80 402.8L146.10 402.5L146.40 404.0L146.70 406.1L147.00 404.2L147.30 406.1L147.60 406.2L147.90 404.2L148.20 401.6L148.50 403.5L148.80 402.8L149.10 405.1L149.40 405.9L149.70 402.0L150.00 402.1L150.30 403.9L150.60 399.7L150.90 405.4L151.20 404.8L151.50 405.6L151.80 402.6L152.10 401.4L152.40 402.7L152.70 401.8L153.00 404.8L153.30 399.4L153.60 408.0L153.90 403.7L154.20 402.9L154.50 401.0L154.80 401.2L155.10 403.4L155.40 405.2L155.70 404.3L156.00 402.9L156.30 403.8L156.60 406.3L156.90 401.7L157.20 404.3L157.50 406.0L157.80 405.0L158.10 401.9L158.40 404.3L158.70 404.8L159.00 404.5L159.30 403.8L159.60 405.3L159.90 403.2L160.20 402.2L160.50 402.6L160.80 403.5L161.10 404.4L161.40 404.8L161.70 401.1L162.00 401.9L162.30 402.6L162.60 406.0L162.90 400.4L163.20 401.3L163.50 402.6L163.80 401.5L164.10 403.5L164.40 401.1L164.70 402.9L165.00 403.6L165.30 403.6L165.60 405.1L165.90 404.9L166.20 406.5L166.50 403.3L166.80 404.3L167.10 405.4L167.40 404.5L167.70 405.3L168.00 407.9L168.30 405.4L168.60 404.0L168.90 404.0L169.20 402.4L169.50 401.6L169.80 404.6L170.10 406.2L170.40 404.8L170.70 401.8L171.00 399.4L171.30 403.9L171.60 402.5L171.90 403.1L172.20 403.0L172.50 403.0L172.80 404.0L173.10 404.1L173.40 404.9L173.70 404.0L174.00 404.6L174.30 401.0L174.60 402.9L174.90 399.8L175.20 401.1L175.50 397.2L175.80 404.1L176.10 404.0L176.40 406.3L176.70 404.6L177.00 403.4L177.30 402.5L177.60 400.5L177.90 398.0L178.20 404.0L178.50 406.1L178.80 401.4L179.10 404.3L179.40 403.2L179.70 408.6L180.00 404.6L180.30 405.6L180.60 405.6L180.90 404.6L181.20 405.0L181.50 404.2L181.80 404.0L182.10 407.2L182.40 406.3L182.70 407.0L183.00 402.8L183.30 405.8L183.60 408.1L183.90 406.8L184.20 406.7L184.50 406.0L184.80 407.0L185.10 405.8L185.40 404.7L185.70 403.9L186.00 405.3L186.30 403.4L186.60 404.5L186.90 402.5L187.20 405.2L187.50 402.7L187.80 403.1L188.10 404.0L188.40 400.6L188.70 398.4L189.00 400.7L189.30 404.2L189.60 403.6L189.90 403.6L190.20 401.4L190.50 399.1L190.80 404.8L191.10 404.0L191.40 400.9L191.70 399.6L192.00 399.5L192.30 401.9L192.60 403.4L192.90 401.1L193.20 403.8L193.50 402.2L193.80 401.8L194.10 402.5L194.40 404.2L194.70 400.5L195.00 404.4L195.30 406.3L195.60 404.0L195.90 403.2L196.20 404.2L196.50 399.3L196.80 401.6L197.10 402.0L197.40 401.8L197.70 401.8L198.00 396.9L198.30 396.3L198.60 399.3L198.90 399.8L199.20 407.4L199.50 406.4L199.80 406.9L200.10 405.1L200.40 402.1L200.70 402.4L201.00 400.4L201.30 404.0L201.60 403.1L201.90 401.8L202.20 403.6L202.50 405.4L202.80 402.6L203.10 400.7L203.40 401.3L203.70 404.7L204.00 402.3L204.30 400.3L204.60 399.8L204.90 399.4L205.20 400.8L205.50 400.9L205.80 400.1L206.10 402.5L206.40 399.4L206.70 401.4L207.00 401.2L207.30 403.1L207.60 403.9L207.90 401.6L208.20 400.9L208.50 402.1L208.80 401.6L209.10 402.0L209.40 401.8L209.70 403.2L210.00 404.3L210.30 401.6L210.60 398.6L210.90 398.9L211.20 401.5L211.50 401.2L211.80 401.3L212.10 407.0L212.40 407.7L212.70 402.8L213.00 407.1L213.30 402.5L213.60 404.6L213.90 403.4L214.20 400.6L214.50 402.6L214.80 399.2L215.10 399.0L215.40 403.6L215.70 404.3L216.00 400.9L216.30 401.2L216.60 401.6L216.90 402.7L217.20 400.6L217.50 400.7L217.80 404.2L218.10 402.3L218.40 402.8L218.70 402.8L219.00 397.4L219.30 401.2L219.60 400.0L219.90 399.6L220.20 400.6L220.50 399.0L220.80 400.4L221.10 400.8L221.40 402.5L221.70 401.9L222.00 400.5L222.30 402.3L222.60 404.8L222.90 403.1L223.20 405.6L223.50 400.1L223.80 401.2L224.10 407.1L224.40 399.8L224.70 400.6L225.00 401.7L225.30 400.6L225.60 397.6L225.90 403.4L226.20 404.5L226.50 402.9L226.80 402.7L227.10 403.8L227.40 402.2L227.70 399.9L228.00 399.3L228.30 398.2L228.60 401.9L228.90 402.5L229.20 403.6L229.50 402.9L229.80 399.3L230.10 399.3L230.40 402.9L230.70 401.0L231.00 402.2L231.30 402.0L231.60 403.9L231.90 404.2L232.20 402.9L232.50 399.5L232.80 403.9L233.10 402.8L233.40 401.6L233.70 400.9L234.00 402.5L234.30 404.9L234.60 403.0L234.90 400.3L235.20 400.3L235.50 399.9L235.80 400.2L236.10 400.7L236.40 400.4L236.70 404.0L237.00 405.5L237.30 401.0L237.60 402.0L237.90 402.5L238.20 405.7L238.50 402.8L238.80 400.9L239.10 402.2L239.40 400.5L239.70 402.5L240.00 401.7L240.30 400.7L240.60 400.8L240.90 400.3L241.20 396.5L241.50 403.0L241.80 403.6L242.10 402.2L242.40 402.6L242.70 405.5L243.00 406.1L243.30 403.9L243.60 402.7L243.90 403.0L244.20 400.3L244.50 404.2L244.80 406.4L245.10 404.7L245.40 402.6L245.70 401.6L246.00 399.5L246.30 402.7L246.60 401.9L246.90 397.9L247.20 398.5L247.50 400.0L247.80 403.8L248.10 401.2L248.40 402.8L248.70 402.0L249.00 402.2L249.30 403.7L249.60 403.1L249.90 405.7L250.20 401.8L250.50 405.2L250.80 408.1L251.10 408.7L251.40 404.3L251.70 404.9L252.00 405.4L252.30 402.0L252.60 404.8L252.90 404.5L253.20 402.1L253.50 400.9L253.80 402.6L254.10 399.8L254.40 403.8L254.70 400.7L255.00 403.7L255.30 402.6L255.60 407.0L255.90 407.9L256.20 406.0L256.50 406.5L256.80 405.1L257.10 404.1L257.40 405.7L257.70 402.8L258.00 401.7L258.30 402.2L258.60 401.3L258.90 399.9L259.20 403.3L259.50 402.6L259.80 401.7L260.10 402.0L260.40 402.1L260.70 401.8L261.00 399.3L261.30 399.0L261.60 402.3L261.90 402.2L262.20 403.5L262.50 401.8L262.80 403.1L263.10 399.4L263.40 405.4L263.70 404.9L264.00 404.4L264.30 403.7L264.60 402.9L264.90 403.6L265.20 406.2L265.50 404.2L265.80 402.8L266.10 405.3L266.40 404.4L266.70 405.8L267.00 403.9L267.30 401.9L267.60 399.5L267.90 400.3L268.20 401.8L268.50 403.9L268.80 400.6L269.10 400.4L269.40 402.2L269.70 403.4L270.00 403.4L270.30 401.3L270.60 399.6L270.90 401.6L271.20 403.4L271.50 401.4L271.80 401.7L272.10 402.0L272.40 402.3L272.70 401.5L273.00 400.6L273.30 396.9L273.60 397.7L273.90 403.2L274.20 402.6L274.50 399.3L274.80 401.1L275.10 398.7L275.40 402.9L275.70 402.5L276.00 401.0L276.30 405.5L276.60 403.8L276.90 404.7L277.20 402.6L277.50 400.2L277.80 401.3L278.10 402.1L278.40 403.1L278.70 400.2L279.00 402.4L279.30 400.3L279.60 398.4L279.90 401.1L280.20 402.4L280.50 403.9L280.80 399.2L281.10 402.9L281.40 402.8L281.70 403.9L282.00 403.4L282.30 402.3L282.60 400.6L282.90 398.4L283.20 398.9L283.50 404.2L283.80 401.4L284.10 401.1L284.40 400.8L284.70 399.1L285.00 400.2L285.30 396.9L285.60 398.8L285.90 399.9L286.20 401.3L286.50 403.0L286.80 403.7L287.10 401.8L287.40 403.3L287.70 407.3L288.00 404.5L288.30 402.5L288.60 401.6L288.90 400.2L289.20 400.9L289.50 400.5L289.80 401.5L290.10 398.2L290.40 397.4L290.70 403.9L291.00 404.1L291.30 404.2L291.60 403.2L291.90 406.1L292.20 401.5L292.50 403.3L292.80 404.5L293.10 404.6L293.40 399.8L293.70 405.5L294.00 404.9L294.30 401.7L294.60 399.4L294.90 399.3L295.20 402.2L295.50 400.2L295.80 403.3L296.10 401.9L296.40 402.3L296.70 401.5L297.00 401.2L297.30 401.3L297.60 402.9L297.90 403.7L298.20 402.3L298.50 401.0L298.80 403.2L299.10 400.4L299.40 400.8L299.70 401.3L300.00 405.9L300.30 405.0L300.60 405.9L300.90 401.5L301.20 401.9L301.50 400.6L301.80 398.0L302.10 401.3L302.40 402.0L302.70 404.7L303.00 405.7L303.30 404.6L303.60 404.5L303.90 404.3L304.20 401.2L304.50 400.6L304.80 402.8L305.10 402.5L305.40 405.3L305.70 404.6L306.00 400.0L306.30 401.2L306.60 401.9L306.90 402.5L307.20 404.0L307.50 403.1L307.80 403.2L308.10 400.9L308.40 400.3L308.70 402.3L309.00 402.7L309.30 405.5L309.60 402.9L309.90 402.3L310.20 401.2L310.50 404.2L310.80 402.8L311.10 403.9L311.40 404.7L311.70 403.0L312.00 402.8L312.30 405.0L312.60 403.9L312.90 398.2L313.20 399.9L313.50 399.4L313.80 400.6L314.10 399.7L314.40 398.1L314.70 403.8L315.00 403.3L315.30 402.6L315.60 402.1L315.90 402.3L316.20 402.7L316.50 398.3L316.80 401.5L317.10 398.7L317.40 397.5L317.70 400.0L318.00 402.0L318.30 401.8L318.60 406.1L318.90 403.6L319.20 402.0L319.50 405.8L319.80 409.0L320.10 407.1L320.40 403.5L320.70 404.4L321.00 402.8L321.30 403.5L321.60 402.6L321.90 402.5L322.20 401.7L322.50 401.9L322.80 403.1L323.10 405.2L323.40 397.4L323.70 400.0L324.00 402.7L324.30 404.6L324.60 401.1L324.90 402.8L325.20 401.9L325.50 401.1L325.80 400.8L326.10 404.4L326.40 399.7L326.70 402.6L327.00 399.6L327.30 400.5L327.60 400.7L327.90 403.6L328.20 405.9L328.50 404.2L328.80 407.1L329.10 406.5L329.40 403.8L329.70 406.7L330.00 402.6L330.30 403.5L330.60 401.0L330.90 400.3L331.20 399.8L331.50 400.8L331.80 399.4L332.10 398.1L332.40 405.2L332.70 401.0L333.00 399.8L333.30 402.2L333.60 399.8L333.90 401.3L334.20 397.3L334.50 399.7L334.80 397.7L335.10 398.7L335.40 402.1L335.70 404.3L336.00 400.6L336.30 401.2L336.60 404.7L336.90 404.7L337.20 400.9L337.50 402.4L337.80 404.5L338.10 401.2L338.40 400.8L338.70 398.1L339.00 398.2L339.30 397.4L339.60 400.3L339.90 402.8L340.20 402.2L340.50 403.5L340.80 402.6L341.10 401.9L341.40 403.6L341.70 400.6L342.00 403.3L342.30 398.9L342.60 399.0L342.90 400.3L343.20 402.3L343.50 402.6L343.80 402.9L344.10 404.0L344.40 401.8L344.70 401.1L345.00 402.9L345.30 404.5L345.60 403.5L345.90 401.7L346.20 404.4L346.50 403.2L346.80 400.1L347.10 402.1L347.40 405.4L347.70 401.6L348.00 401.3L348.30 404.3L348.60 403.4L348.90 402.7L349.20 401.1L349.50 403.7L349.80 401.6L350.10 401.7L350.40 400.7L350.70 402.1L351.00 401.7L351.30 399.0L351.60 400.9L351.90 404.7L352.20 403.3L352.50 400.6L352.80 401.1L353.10 403.0L353.40 400.3L353.70 405.1L354.00 403.1L354.30 402.6L354.60 400.2L354.90 399.5L355.20 398.4L355.50 397.5L355.80 399.3L356.10 396.2L356.40 399.5L356.70 400.5L357.00 405.0L357.30 404.9L357.60 401.3L357.90 398.3L358.20 400.6L358.50 403.1L358.80 401.2L359.10 401.6L359.40 402.4L359.70 400.4L360.00 401.1L360.30 400.1L360.60 397.1L360.90 400.3L361.20 399.5L361.50 401.0L361.80 405.0L362.10 406.9L362.40 404.0L362.70 405.1L363.00 405.1L363.30 403.8L363.60 403.8L363.90 400.3L364.20 401.2L364.50 401.8L364.80 404.0L365.10 400.2L365.40 405.0L365.70 402.7L366.00 402.8L366.30 402.4L366.60 405.3L366.90 402.9L367.20 401.9L367.50 400.4L367.80 397.4L368.10 401.7L368.40 403.9L368.70 406.3L369.00 407.0L369.30 405.5L369.60 405.0L369.90 402.5L370.20 401.1L370.50 399.7L370.80 403.6L371.10 400.1L371.40 400.2L371.70 405.0L372.00 397.3L372.30 398.5L372.60 400.3L372.90 402.5L373.20 400.0L373.50 400.7L373.80 405.5L374.10 402.9L374.40 397.6L374.70 401.2L375.00 404.2L375.30 402.3L375.60 400.2L375.90 405.0L376.20 406.2L376.50 405.6L376.80 406.5L377.10 401.9L377.40 401.5L377.70 403.3L378.00 401.0L378.30 403.2L378.60 401.4L378.90 398.4L379.20 400.3L379.50 403.3L379.80 402.7L380.10 402.8L380.40 404.4L380.70 399.9L381.00 402.7L381.30 403.0L381.60 401.6L381.90 399.5L382.20 401.4L382.50 402.6L382.80 404.7L383.10 403.1L383.40 404.8L383.70 404.2L384.00 402.6L384.30 401.5L384.60 399.8L384.90 401.0L385.20 404.4L385.50 405.6L385.80 406.0L386.10 404.9L386.40 401.1L386.70 402.9L387.00 404.0L387.30 403.9L387.60 404.9L387.90 401.1L388.20 398.8L388.50 400.2L388.80 403.0L389.10 403.2L389.40 400.7L389.70 400.1L390.00 397.4L390.30 398.5L390.60 401.4L390.90 401.7L391.20 401.3L391.50 399.6L391.80 402.3L392.10 401.4L392.40 403.4L392.70 401.9L393.00 404.3L393.30 401.6L393.60 404.9L393.90 402.4L394.20 402.0L394.50 402.7L394.80 401.9L395.10 399.9L395.40 399.1L395.70 400.7L396.00 400.9L396.30 402.8L396.60 400.0L396.90 406.5L397.20 405.3L397.50 400.9L397.80 402.9L398.10 398.2L398.40 403.6L398.70 400.6L399.00 401.3L399.30 396.4L399.60 403.5L399.90 402.1L400.20 400.0L400.50 401.3L400.80 400.2L401.10 404.6L401.40 402.4L401.70 404.9L402.00 400.6L402.30 399.6L402.60 399.7L402.90 397.6L403.20 401.1L403.50 403.6L403.80 398.1L404.10 399.5L404.40 398.1L404.70 402.5L405.00 401.9L405.30 403.5L405.60 403.5L405.90 400.8L406.20 401.5L406.50 403.9L406.80 404.2L407.10 398.0L407.40 405.0L407.70 403.4L408.00 405.9L408.30 402.6L408.60 405.3L408.90 402.3L409.20 401.9L409.50 402.1L409.80 399.4L410.10 398.7L410.40 400.6L410.70 402.9L411.00 402.3L411.30 401.0L411.60 403.9L411.90 403.7L412.20 402.7L412.50 403.6L412.80 399.9L413.10 401.5L413.40 400.1L413.70 401.2L414.00 400.1L414.30 399.0L414.60 401.3L414.90 403.3L415.20 404.3L415.50 404.4L415.80 403.8L416.10 403.4L416.40 402.5L416.70 400.5L417.00 400.9L417.30 403.8L417.60 402.0L417.90 402.0L418.20 403.2L418.50 402.2L418.80 401.1L419.10 396.9L419.40 402.0L419.70 404.1L420.00 403.6L420.30 401.4L420.60 406.1L420.90 402.6L421.20 402.5L421.50 400.6L421.80 404.3L422.10 403.2L422.40 401.4L422.70 397.6L423.00 398.9L423.30 396.3L423.60 397.9L423.90 398.7L424.20 401.6L424.50 398.9L424.80 401.1L425.10 403.4L425.40 404.0L425.70 397.2L426.00 400.2L426.30 400.9L426.60 402.5L426.90 403.7L427.20 402.2L427.50 404.0L427.80 401.7L428.10 403.7L428.40 401.8L428.70 401.5L429.00 399.9L429.30 401.4L429.60 402.1L429.90 400.9L430.20 399.6L430.50 401.5L430.80 402.8L431.10 404.1L431.40 398.6L431.70 399.9L432.00 400.6L432.30 402.3L432.60 401.3L432.90 401.4L433.20 399.2L433.50 400.4L433.80 403.9L434.10 400.5L434.40 404.1L434.70 401.4L435.00 398.7L435.30 399.1L435.60 400.9L435.90 398.9L436.20 401.1L436.50 400.6L436.80 402.3L437.10 404.3L437.40 405.2L437.70 401.4L438.00 406.1L438.30 404.1L438.60 403.7L438.90 403.2L439.20 401.9L439.50 404.3L439.80 398.0L440.10 399.3L440.40 399.2L440.70 399.7L441.00 399.2L441.30 401.0L441.60 402.4L441.90 404.3L442.20 403.2L442.50 402.6L442.80 401.5L443.10 403.4L443.40 405.3L443.70 400.9L444.00 402.0L444.30 400.3L444.60 401.4L444.90 401.8L445.20 400.3L445.50 403.0L445.80 404.3L446.10 402.3L446.40 400.1L446.70 400.3L447.00 401.5L447.30 401.5L447.60 397.9L447.90 400.9L448.20 401.5L448.50 403.9L448.80 404.5L449.10 403.8L449.40 400.6L449.70 400.1L450.00 402.1L450.30 402.4L450.60 400.2L450.90 401.3L451.20 399.6L451.50 397.4L451.80 401.3L452.10 399.2L452.40 400.9L452.70 399.7L453.00 400.4L453.30 401.2L453.60 401.0L453.90 400.0L454.20 404.1L454.50 402.4L454.80 403.2L455.10 400.9L455.40 403.2L455.70 404.3L456.00 407.3L456.30 406.3L456.60 408.4L456.90 408.0L457.20 406.3L457.50 406.2L457.80 403.8L458.10 405.7L458.40 403.0L458.70 401.8L459.00 400.9L459.30 399.0L459.60 400.9L459.90 400.1L460.20 401.1L460.50 402.5L460.80 403.7L461.10 405.1L461.40 402.8L461.70 401.9L462.00 402.0L462.30 400.1L462.60 405.1L462.90 401.9L463.20 403.6L463.50 398.8L463.80 404.5L464.10 400.2L464.40 400.5L464.70 400.2L465.00 402.6L465.30 404.2L465.60 400.8L465.90 398.7L466.20 399.9L466.50 398.8L466.80 401.1L467.10 403.9L467.40 403.1L467.70 402.8L468.00 407.7L468.30 404.8L468.60 402.7L468.90 403.5L469.20 403.9L469.50 405.2L469.80 405.5L470.10 405.5L470.40 402.3L470.70 398.9L471.00 401.7L471.30 403.6L471.60 403.3L471.90 400.7L472.20 401.1L472.50 402.9L472.80 403.9L473.10 404.3L473.40 402.2L473.70 401.1L474.00 399.7L474.30 399.9L474.60 399.6L474.90 401.8L475.20 400.6L475.50 398.4L475.80 400.5L476.10 399.1L476.40 403.6L476.70 400.7L477.00 402.4L477.30 404.5L477.60 403.7L477.90 400.6L478.20 401.2L478.50 403.6L478.80 407.1L479.10 402.8L479.40 404.9L479.70 401.8L480.00 401.9L480.30 400.9L480.60 399.4L480.90 402.5L481.20 400.7L481.50 401.4L481.80 400.1L482.10 404.4L482.40 403.7L482.70 404.9L483.00 400.2L483.30 402.7L483.60 401.1L483.90 398.4L484.20 403.0L484.50 403.0L484.80 404.0L485.10 400.6L485.40 403.6L485.70 402.2L486.00 399.4L486.30 401.8L486.60 399.0L486.90 401.6L487.20 402.2L487.50 403.7L487.80 402.1L488.10 404.5L488.40 398.6L488.70 401.0L489.00 401.4L489.30 402.8L489.60 403.4L489.90 401.6L490.20 400.8L490.50 403.2L490.80 401.0L491.10 401.5L491.40 399.0L491.70 403.3L492.00 397.3L492.30 403.3L492.60 401.3L492.90 398.8L493.20 398.4L493.50 402.8L493.80 399.4L494.10 406.2L494.40 403.2L494.70 403.0L495.00 404.8L495.30 402.5L495.60 405.5L495.90 404.3L496.20 403.0L496.50 405.3L496.80 403.5L497.10 401.4L497.40 401.6L497.70 400.2L498.00 400.7L498.30 404.3L498.60 403.3L498.90 403.7L499.20 405.0L499.50 402.5L499.80 403.1L500.10 402.1L500.40 397.9L500.70 403.6L501.00 401.2L501.30 403.8L501.60 401.5L501.90 398.9L502.20 401.6L502.50 401.7L502.80 401.2L503.10 401.9L503.40 400.8L503.70 406.3L504.00 404.0L504.30 403.4L504.60 400.3L504.90 401.3L505.20 402.8L505.50 400.8L505.80 399.8L506.10 400.3L506.40 401.8L506.70 402.1L507.00 400.3L507.30 402.3L507.60 404.5L507.90 403.1L508.20 402.1L508.50 401.4L508.80 400.0L509.10 401.2L509.40 400.9L509.70 399.1L510.00 399.3L510.30 400.6L510.60 404.9L510.90 403.3L511.20 401.5L511.50 401.5L511.80 403.2L512.10 404.1L512.40 402.2L512.70 402.9L513.00 402.7L513.30 406.4L513.60 402.5L513.90 401.8L514.20 400.6L514.50 401.7L514.80 402.4L515.10 398.2L515.40 396.7L515.70 396.0L516.00 400.6L516.30 402.1L516.60 400.2L516.90 403.3L517.20 400.5L517.50 404.7L517.80 404.6L518.10 403.3L518.40 400.9L518.70 399.0L519.00 400.0L519.30 398.8L519.60 402.5L519.90 402.1L520.20 401.3L520.50 399.1L520.80 400.5L521.10 399.0L521.40 402.4L521.70 397.6L522.00 399.8L522.30 395.6L522.60 403.6L522.90 403.8L523.20 400.2L523.50 401.0L523.80 400.9L524.10 399.9L524.40 398.6L524.70 401.5L525.00 403.0L525.30 401.9L525.60 401.6L525.90 399.3L526.20 402.8L526.50 400.9L526.80 403.4L527.10 400.9L527.40 400.0L527.70 399.3L528.00 399.4L528.30 402.9L528.60 403.5L528.90 403.1L529.20 400.9L529.50 402.0L529.80 396.6L530.10 400.5L530.40 399.5L530.70 400.1L531.00 397.5L531.30 399.7L531.60 398.6L531.90 400.4L532.20 402.0L532.50 403.8L532.80 404.4L533.10 397.7L533.40 397.6L533.70 397.0L534.00 398.4L534.30 396.9L534.60 398.7L534.90 399.9L535.20 399.4L535.50 400.1L535.80 399.9L536.10 397.4L536.40 400.0L536.70 397.4L537.00 399.4L537.30 399.5L537.60 398.1L537.90 397.0L538.20 398.0L538.50 397.5L538.80 398.9L539.10 400.5L539.40 401.4L539.70 405.5L540.00 400.8L540.30 399.4L540.60 400.2L540.90 401.4L541.20 400.9L541.50 397.0L541.80 398.3L542.10 400.4L542.40 401.9L542.70 400.9L543.00 401.0L543.30 399.1L543.60 393.7L543.90 394.5L544.20 399.0L544.50 397.9L544.80 395.9L545.10 399.5L545.40 400.2L545.70 397.2L546.00 392.7L546.30 395.1L546.60 393.2L546.90 397.9L547.20 397.6L547.50 398.4L547.80 396.0L548.10 394.8L548.40 399.1L548.70 397.2L549.00 391.0L549.30 392.8L549.60 395.9L549.90 395.9L550.20 393.5L550.50 397.0L550.80 397.0L551.10 396.9L551.40 391.4L551.70 397.4L552.00 399.3L552.30 395.9L552.60 396.7L552.90 395.0L553.20 391.9L553.50 395.8L553.80 394.9L554.10 397.9L554.40 397.0L554.70 397.6L555.00 398.0L555.30 396.1L555.60 400.1L555.90 398.2L556.20 395.0L556.50 399.8L556.80 398.2L557.10 394.9L557.40 398.0L557.70 395.7L558.00 396.7L558.30 398.8L558.60 398.9L558.90 397.8L559.20 397.9L559.50 397.6L559.80 397.9L560.10 400.4L560.40 398.9L560.70 397.9L561.00 400.9L561.30 397.9L561.60 394.7L561.90 395.2L562.20 396.9L562.50 400.1L562.80 396.1L563.10 397.7L563.40 395.3L563.70 397.0L564.00 401.2L564.30 397.8L564.60 397.7L564.90 398.6L565.20 397.0L565.50 395.6L565.80 395.7L566.10 395.2L566.40 395.1L566.70 394.7L567.00 396.1L567.30 396.4L567.60 397.3L567.90 397.5L568.20 398.6L568.50 396.2L568.80 395.3L569.10 394.8L569.40 396.6L569.70 395.2L570.00 397.9L570.30 396.1L570.60 396.0L570.90 397.7L571.20 396.7L571.50 397.9L571.80 399.5L572.10 397.8L572.40 393.6L572.70 397.0L573.00 399.6L573.30 399.0L573.60 403.3L573.90 400.2L574.20 395.4L574.50 397.3L574.80 397.8L575.10 398.7L575.40 401.5L575.70 400.8L576.00 400.6L576.30 401.8L576.60 400.8L576.90 401.5L577.20 395.8L577.50 400.9L577.80 402.5L578.10 396.8L578.40 399.1L578.70 398.9L579.00 398.0L579.30 397.7L579.60 397.9L579.90 396.1L580.20 399.0L580.50 401.3L580.80 399.3L581.10 395.3L581.40 393.5L581.70 401.3L582.00 400.3L582.30 400.0L582.60 398.4L582.90 399.4L583.20 400.0L583.50 395.2L583.80 394.6L584.10 397.5L584.40 394.9L584.70 394.9L585.00 396.0L585.30 396.2L585.60 399.8L585.90 396.3L586.20 401.2L586.50 397.8L586.80 401.3L587.10 397.5L587.40 398.5L587.70 401.6L588.00 400.1L588.30 397.4L588.60 397.8L588.90 396.9L589.20 400.6L589.50 397.9L589.80 401.3L590.10 396.2L590.40 396.1L590.70 392.7L591.00 397.8L591.30 399.5L591.60 400.2L591.90 400.0L592.20 399.0L592.50 401.6L592.80 396.8L593.10 396.4L593.40 400.2L593.70 399.4L594.00 399.4L594.30 401.6L594.60 399.4L594.90 395.1L595.20 398.6L595.50 401.8L595.80 400.1L596.10 400.6L596.40 398.2L596.70 397.7L597.00 397.6L597.30 399.8L597.60 398.8L597.90 398.6L598.20 399.0L598.50 395.2L598.80 398.7L599.10 401.6L599.40 400.8L599.70 399.6L600.00 398.5L600.30 401.5L600.60 398.8L600.90 398.9L601.20 398.8L601.50 398.0L601.80 397.2L602.10 398.7L602.40 399.8L602.70 397.5L603.00 398.4L603.30 394.8L603.60 392.6L603.90 396.1L604.20 393.8L604.50 393.3L604.80 395.2L605.10 396.2L605.40 395.9L605.70 396.6L606.00 392.6L606.30 392.3L606.60 394.8L606.90 397.4L607.20 400.9L607.50 396.5L607.80 398.5L608.10 396.8L608.40 396.8L608.70 396.1L609.00 397.6L609.30 398.4L609.60 397.3L609.90 398.2L610.20 398.9L610.50 399.9L610.80 398.2L611.10 397.3L611.40 401.3L611.70 398.4L612.00 402.0L612.30 401.5L612.60 394.8L612.90 397.0L613.20 395.5L613.50 401.0L613.80 398.5L614.10 398.7L614.40 398.4L614.70 397.8L615.00 402.5L615.30 401.0L615.60 398.2L615.90 402.1L616.20 401.5L616.50 395.8L616.80 398.9L617.10 398.0L617.40 397.5L617.70 398.4L618.00 398.5L618.30 393.6L618.60 396.9L618.90 400.3L619.20 401.6L619.50 401.0L619.80 400.0L620.10 396.3L620.40 397.6L620.70 395.8L621.00 396.5L621.30 401.4L621.60 398.6L621.90 395.2L622.20 399.1L622.50 396.8L622.80 400.7L623.10 398.9L623.40 400.5L623.70 395.7L624.00 400.2L624.30 396.8L624.60 398.1L624.90 398.4L625.20 396.0L625.50 397.1L625.80 399.0L626.10 396.4L626.40 394.4L626.70 399.7L627.00 401.1L627.30 395.1L627.60 399.8L627.90 400.0L628.20 393.7L628.50 392.5L628.80 396.2L629.10 393.9L629.40 393.9L629.70 399.6L630.00 398.1L630.30 401.0L630.60 398.6L630.90 393.3L631.20 395.5L631.50 394.4L631.80 395.1L632.10 397.5L632.40 393.3L632.70 399.2L633.00 399.5L633.30 399.4L633.60 397.4L633.90 396.3L634.20 397.4L634.50 397.8L634.80 401.1L635.10 397.8L635.40 399.6L635.70 398.6L636.00 397.7L636.30 398.4L636.60 397.4L636.90 396.1L637.20 398.6L637.50 397.4L637.80 392.4L638.10 393.8L638.40 394.0L638.70 393.4L639.00 394.4L639.30 396.8L639.60 399.0L639.90 398.0L640.20 396.5L640.50 396.9L640.80 394.3L641.10 392.7L641.40 397.2L641.70 398.3L642.00 398.6L642.30 399.3L642.60 394.5L642.90 400.2L643.20 398.2L643.50 396.1L643.80 394.4L644.10 394.4L644.40 392.4L644.70 399.1L645.00 398.2L645.30 397.9L645.60 396.9L645.90 400.0L646.20 396.6L646.50 399.3L646.80 398.8L647.10 399.1L647.40 395.9L647.70 393.5L648.00 396.3L648.30 398.6L648.60 399.2L648.90 399.3L649.20 398.5L649.50 398.2L649.80 398.4L650.10 399.8L650.40 399.0L650.70 403.0L651.00 400.2L651.30 396.1L651.60 397.5L651.90 397.3L652.20 400.7L652.50 398.2L652.80 400.7L653.10 397.6L653.40 394.9L653.70 394.8L654.00 394.7L654.30 396.0L654.60 396.8L654.90 397.3L655.20 396.4L655.50 397.7L655.80 398.6L656.10 395.1L656.40 394.3L656.70 393.9L657.00 396.2L657.30 397.8L657.60 394.7L657.90 395.7L658.20 393.8L658.50 390.7L658.80 395.8L659.10 394.7L659.40 399.2L659.70 395.5L660.00 398.7L660.30 401.1L660.60 402.2L660.90 398.7L661.20 396.2L661.50 397.7L661.80 398.7L662.10 398.5L662.40 399.9L662.70 395.4L663.00 392.6L663.30 395.7L663.60 398.4L663.90 398.8L664.20 401.8L664.50 402.5L664.80 400.8L665.10 400.2L665.40 397.4L665.70 394.9L666.00 396.5L666.30 395.7L666.60 398.6L666.90 397.2L667.20 398.6L667.50 398.6L667.80 399.2L668.10 397.0L668.40 397.7L668.70 397.1L669.00 398.3L669.30 398.3L669.60 401.4L669.90 398.1L670.20 395.7L670.50 396.4L670.80 396.4L671.10 393.5L671.40 393.2L671.70 398.1L672.00 401.2L672.30 396.3L672.60 395.3L672.90 398.3L673.20 400.0L673.50 400.0L673.80 397.9L674.10 397.9L674.40 388.8L674.70 392.3L675.00 392.6L675.30 397.8L675.60 399.1L675.90 400.3L676.20 399.7L676.50 401.0L676.80 399.9L677.10 400.7L677.40 398.4L677.70 399.2L678.00 398.1L678.30 400.5L678.60 403.9L678.90 399.4L679.20 399.5L679.50 399.6L679.80 398.3L680.10 399.3L680.40 398.4L680.70 395.7L681.00 396.5L681.30 399.0L681.60 396.4L681.90 395.8L682.20 394.3L682.50 393.4L682.80 398.0L683.10 396.8L683.40 398.5L683.70 400.3L684.00 403.2L684.30 397.5L684.60 398.3L684.90 394.1L685.20 398.7L685.50 396.3L685.80 397.8L686.10 399.4L686.40 396.3L686.70 398.1L687.00 400.4L687.30 401.3L687.60 398.0L687.90 396.8L688.20 398.1L688.50 398.0L688.80 397.4L689.10 397.0L689.40 399.7L689.70 398.2L690.00 401.3L690.30 399.3L690.60 397.7L690.90 398.6L691.20 395.2L691.50 399.4L691.80 398.9L692.10 400.6L692.40 397.9L692.70 397.9L693.00 400.5L693.30 395.1L693.60 398.4L693.90 398.9L694.20 399.4L694.50 395.0L694.80 395.8L695.10 398.1L695.40 395.7L695.70 397.7L696.00 401.8L696.30 399.2L696.60 398.2L696.90 397.2L697.20 397.9L697.50 394.7L697.80 398.4L698.10 396.2L698.40 397.5L698.70 399.6L699.00 398.1L699.30 399.4L699.60 396.1L699.90 399.6L700.20 399.5L700.50 399.4L700.80 398.7L701.10 398.2L701.40 400.2L701.70 398.9L702.00 397.9L702.30 396.8L702.60 397.6L702.90 399.7L703.20 396.6L703.50 399.8L703.80 396.6L704.10 396.2L704.40 393.4L704.70 395.2L705.00 397.8L705.30 398.8L705.60 399.7L705.90 399.0L706.20 397.9L706.50 397.4L706.80 397.7L707.10 396.0L707.40 395.4L707.70 396.5L708.00 399.0L708.30 400.8L708.60 398.5L708.90 396.1L709.20 394.1L709.50 395.3L709.80 394.0L710.10 396.2L710.40 395.9L710.70 397.8L711.00 396.7L711.30 390.2L711.60 395.8L711.90 393.8L712.20 395.5L712.50 396.6L712.80 396.2L713.10 400.3L713.40 397.4L713.70 398.7L714.00 400.7L714.30 399.4L714.60 396.1L714.90 395.0L715.20 394.4L715.50 392.9L715.80 393.9L716.10 395.1L716.40 394.2L716.70 393.8L717.00 396.0L717.30 395.4L717.60 400.4L717.90 401.9L718.20 398.3L718.50 396.1L718.80 391.1L719.10 393.4L719.40 395.0L719.70 388.5L720.00 397.4L720.30 395.9L720.60 392.6L720.90 397.8L721.20 398.9L721.50 397.8L721.80 398.6L722.10 398.1L722.40 395.3L722.70 396.1L723.00 391.7L723.30 400.9L723.60 396.5L723.90 399.5L724.20 397.7L724.50 397.0L724.80 397.5L725.10 397.1L725.40 395.4L725.70 395.7L726.00 397.2L726.30 398.6L726.60 396.0L726.90 396.4L727.20 398.8L727.50 398.7L727.80 397.2L728.10 393.8L728.40 397.9L728.70 398.9L729.00 397.1L729.30 396.9L729.60 394.8L729.90 398.8L730.20 394.5L730.50 392.3L730.80 394.2L731.10 399.1L731.40 397.0L731.70 398.9L732.00 394.6L732.30 397.9L732.60 398.1L732.90 397.6L733.20 397.7L733.50 398.4L733.80 395.3L734.10 397.1L734.40 395.8L734.70 400.5L735.00 399.4L735.30 400.8L735.60 397.3L735.90 395.8L736.20 392.9L736.50 400.1L736.80 398.7L737.10 396.5L737.40 398.3L737.70 397.5L738.00 398.2L738.30 398.0L738.60 395.9L738.90 393.4L739.20 398.2L739.50 399.1L739.80 399.0L740.10 398.1L740.40 398.0L740.70 396.5L741.00 395.9L741.30 395.1L741.60 398.4L741.90 399.5L742.20 396.0L742.50 397.9L742.80 398.5L743.10 394.4L743.40 391.1L743.70 396.0L744.00 393.5L744.30 399.7L744.60 401.4L744.90 399.4L745.20 396.9L745.50 396.3L745.80 397.1L746.10 397.9L746.40 396.1L746.70 395.8L747.00 397.6L747.30 400.1L747.60 400.3L747.90 397.0L748.20 397.2L748.50 395.0L748.80 391.5L749.10 391.8L749.40 392.8L749.70 396.6L750.00 397.7L750.30 396.8L750.60 399.0L750.90 399.6L751.20 400.5L751.50 399.8L751.80 397.5L752.10 399.5L752.40 399.5L752.70 396.1L753.00 400.6L753.30 401.0L753.60 399.8L753.90 402.4L754.20 398.6L754.50 396.5L754.80 396.8L755.10 395.7L755.40 394.9L755.70 396.4L756.00 397.8L756.30 397.7L756.60 395.8L756.90 396.5L757.20 398.2L757.50 397.2L757.80 394.3L758.10 398.2L758.40 395.4L758.70 394.7L759.00 392.5L759.30 395.0L759.60 399.9L759.90 398.9L760.20 399.7L760.50 397.2L760.80 401.1L761.10 396.9L761.40 396.9L761.70 396.5L762.00 397.5L762.30 396.3L762.60 396.4L762.90 399.6L763.20 402.6L763.50 403.9L763.80 400.3L764.10 400.9L764.40 395.9L764.70 398.3L765.00 396.5L765.30 395.9L765.60 396.9L765.90 398.5L766.20 397.1L766.50 397.8L766.80 398.6L767.10 398.5L767.40 396.8L767.70 398.7L768.00 398.4L768.30 396.5L768.60 394.2L768.90 398.0L769.20 397.4L769.50 396.4L769.80 401.0L770.10 401.0L770.40 399.3L770.70 399.6L771.00 397.0L771.30 395.0L771.60 398.0L771.90 397.9L772.20 397.0L772.50 388.5L772.80 396.4L773.10 397.8L773.40 399.1L773.70 397.3L774.00 395.8L774.30 391.0L774.60 397.2L774.90 396.8L775.20 397.3L775.50 398.0L775.80 398.7L776.10 402.8L776.40 402.9L776.70 403.6L777.00 398.9L777.30 396.3L777.60 402.1L777.90 401.8L778.20 399.4L778.50 393.6L778.80 400.3L779.10 403.3L779.40 400.9L779.70 401.7L780.00 397.8L780.30 399.2L780.60 399.8L780.90 399.0L781.20 397.7L781.50 394.5L781.80 401.1L782.10 398.2" fill="none" stroke="#000" stroke-width="1.0"/>
<path d="M1.27 401.8L1.42 443.1L1.80 450.4L2.20 450.4L2.58 443.1L2.73 401.8Z" fill-opacity="0.2904282808863494"/>
<path d="M9.36 401.8L9.46 443.4L9.66 450.8L10.06 450.8L10.27 443.4L10.37 401.8Z" fill-opacity="0.3937696817345897"/>
<path d="M13.19 401.8L13.37 440.6L13.86 447.5L14.26 447.5L14.76 440.6L14.93 401.8Z" fill-opacity="0.43871544811303964"/>
<path d="M21.19 401.8L21.32 445.7L21.61 453.4L22.01 453.4L22.30 445.7L22.42 401.8Z" fill-opacity="0.2970127369540829"/>
<path d="M27.37 401.8L27.49 440.3L27.80 447.1L28.20 447.1L28.51 440.3L28.64 401.8Z" fill-opacity="0.2944799561788788"/>
<path d="M30.86 401.8L31.02 445.3L31.44 453.0L31.84 453.0L32.27 445.3L32.43 401.8Z" fill-opacity="0.40189729914093264"/>
<path d="M35.37 401.8L35.53 445.0L35.94 452.6L36.34 452.6L36.75 445.0L36.91 401.8Z" fill-opacity="0.44609570459985814"/>
<path d="M39.79 401.8L39.97 443.0L40.47 450.3L40.87 450.3L41.38 443.0L41.56 401.8Z" fill-opacity="0.41846314388783457"/>
<path d="M43.74 401.8L43.86 445.6L44.14 453.4L44.54 453.4L44.82 445.6L44.94 401.8Z" fill-opacity="0.3966750445674749"/>
<path d="M48.02 401.8L48.18 445.9L48.63 453.7L49.03 453.7L49.49 445.9L49.65 401.8Z" fill-opacity="0.29057791022708757"/>
<path d="M53.48 401.8L53.64 443.7L54.08 451.1L54.48 451.1L54.92 443.7L55.09 401.8Z" fill-opacity="0.3925126975435578"/>
<path d="M59.12 401.8L59.29 440.3L59.76 447.1L60.16 447.1L60.63 440.3L60.79 401.8Z" fill-opacity="0.3294568409343555"/>
<path d="M63.37 401.8L63.54 443.8L64.01 451.2L64.41 451.2L64.88 443.8L65.05 401.8Z" fill-opacity="0.28713396495512156"/>
<path d="M70.85 401.8L70.98 441.8L71.30 448.8L71.70 448.8L72.02 441.8L72.15 401.8Z" fill-opacity="0.2681449089130803"/>
<path d="M74.67 401.8L74.83 444.3L75.26 451.8L75.66 451.8L76.08 444.3L76.24 401.8Z" fill-opacity="0.3921286773055117"/>
<path d="M80.32 401.8L80.46 443.8L80.83 451.2L81.23 451.2L81.60 443.8L81.75 401.8Z" fill-opacity="0.26188352726711067"/>
<path d="M88.22 401.8L88.37 441.5L88.74 448.5L89.14 448.5L89.52 441.5L89.66 401.8Z" fill-opacity="0.33503021059500887"/>
<path d="M92.03 401.8L92.17 443.5L92.49 450.9L92.89 450.9L93.22 443.5L93.35 401.8Z" fill-opacity="0.26435188226225953"/>
<path d="M98.13 401.8L98.29 442.5L98.75 449.7L99.15 449.7L99.60 442.5L99.77 401.8Z" fill-opacity="0.3281709475490848"/>
<path d="M104.49 401.8L104.64 444.4L105.04 451.9L105.44 451.9L105.84 444.4L105.99 401.8Z" fill-opacity="0.262314204225756"/>
<path d="M111.50 401.8L111.62 443.6L111.89 451.0L112.29 451.0L112.56 443.6L112.67 401.8Z" fill-opacity="0.3327569265406971"/>
<path d="M117.17 401.8L117.27 445.3L117.51 453.0L117.91 453.0L118.14 445.3L118.25 401.8Z" fill-opacity="0.2876699742225604"/>
<path d="M124.48 401.8L124.62 441.9L124.97 449.0L125.37 449.0L125.73 441.9L125.86 401.8Z" fill-opacity="0.2646378010886706"/>
<path d="M131.25 401.8L131.37 441.6L131.67 448.7L132.07 448.7L132.36 441.6L132.49 401.8Z" fill-opacity="0.25853376036650305"/>
<path d="M136.33 401.8L136.49 441.2L136.96 448.1L137.36 448.1L137.82 441.2L137.99 401.8Z" fill-opacity="0.34582523335468496"/>
<path d="M142.39 401.8L142.55 445.4L143.00 453.1L143.40 453.1L143.85 445.4L144.01 401.8Z" fill-opacity="0.25485779416134974"/>
<path d="M148.23 401.8L148.37 445.4L148.75 453.1L149.15 453.1L149.52 445.4L149.66 401.8Z" fill-opacity="0.34064127375952225"/>
<path d="M153.54 401.8L153.72 441.9L154.21 449.0L154.61 449.0L155.11 441.9L155.28 401.8Z" fill-opacity="0.31145318102852926"/>
<path d="M158.04 401.8L158.15 444.2L158.39 451.7L158.79 451.7L159.03 444.2L159.14 401.8Z" fill-opacity="0.2734996937964933"/>
<path d="M162.79 401.8L162.90 442.1L163.16 449.2L163.56 449.2L163.82 442.1L163.94 401.8Z" fill-opacity="0.3416682217164569"/>
<path d="M167.76 401.8L167.92 444.3L168.36 451.8L168.76 451.8L169.20 444.3L169.36 401.8Z" fill-opacity="0.3927473084652038"/>
<path d="M172.55 401.8L172.71 444.4L173.17 451.9L173.57 451.9L174.02 444.4L174.18 401.8Z" fill-opacity="0.34269639951078573"/>
<path d="M179.77 401.8L179.88 442.3L180.13 449.5L180.53 449.5L180.77 442.3L180.88 401.8Z" fill-opacity="0.30256050892826813"/>
<path d="M186.03 401.8L186.20 445.4L186.67 453.1L187.07 453.1L187.55 445.4L187.72 401.8Z" fill-opacity="0.4028440487038799"/>
<path d="M193.17 401.8L193.32 441.1L193.76 448.0L194.16 448.0L194.59 441.1L194.75 401.8Z" fill-opacity="0.28465497458786493"/>
<path d="M198.18 401.8L198.35 441.3L198.85 448.2L199.25 448.2L199.75 441.3L199.93 401.8Z" fill-opacity="0.4102861705241423"/>
<path d="M205.76 401.8L205.87 445.3L206.09 453.0L206.49 453.0L206.72 445.3L206.83 401.8Z" fill-opacity="0.25001302346965176"/>
<path d="M212.95 401.8L213.07 444.8L213.34 452.4L213.74 452.4L214.01 444.8L214.13 401.8Z" fill-opacity="0.3806201740798578"/>
<path d="M217.38 401.8L217.51 441.6L217.84 448.6L218.24 448.6L218.57 441.6L218.71 401.8Z" fill-opacity="0.4372709782472723"/>
<path d="M225.15 401.8L225.27 445.6L225.53 453.3L225.93 453.3L226.19 445.6L226.30 401.8Z" fill-opacity="0.3861602785848087"/>
<path d="M231.73 401.8L231.91 446.1L232.39 453.9L232.79 453.9L233.28 446.1L233.45 401.8Z" fill-opacity="0.41539248428648645"/>
<path d="M236.52 401.8L236.65 443.3L237.01 450.6L237.41 450.6L237.76 443.3L237.89 401.8Z" fill-opacity="0.33957944239300203"/>
<path d="M240.86 401.8L240.97 440.3L241.24 447.1L241.64 447.1L241.90 440.3L242.02 401.8Z" fill-opacity="0.3162219978409177"/>
<path d="M248.34 401.8L248.48 443.5L248.83 450.9L249.23 450.9L249.58 443.5L249.72 401.8Z" fill-opacity="0.2956391766663877"/>
<path d="M254.56 401.8L254.73 445.5L255.22 453.2L255.62 453.2L256.12 445.5L256.29 401.8Z" fill-opacity="0.31462311575404095"/>
<path d="M262.21 401.8L262.35 440.8L262.68 447.7L263.08 447.7L263.40 440.8L263.54 401.8Z" fill-opacity="0.336000886411399"/>
<path d="M266.29 401.8L266.43 444.5L266.80 452.0L267.20 452.0L267.56 444.5L267.71 401.8Z" fill-opacity="0.4290586072890241"/>
<path d="M270.77 401.8L270.91 443.9L271.26 451.3L271.66 451.3L272.00 443.9L272.14 401.8Z" fill-opacity="0.3809273605564113"/>
<path d="M278.15 401.8L278.31 443.6L278.77 451.0L279.17 451.0L279.63 443.6L279.79 401.8Z" fill-opacity="0.370828685383475"/>
<path d="M283.24 401.8L283.35 441.8L283.63 448.9L284.03 448.9L284.30 441.8L284.42 401.8Z" fill-opacity="0.4437241058988963"/>
<path d="M289.30 401.8L289.42 443.5L289.69 450.9L290.09 450.9L290.35 443.5L290.47 401.8Z" fill-opacity="0.28851259510252875"/>
<path d="M294.19 401.8L294.30 445.3L294.56 453.0L294.96 453.0L295.21 445.3L295.32 401.8Z" fill-opacity="0.3112583185786313"/>
<path d="M298.04 401.8L298.17 444.3L298.47 451.8L298.87 451.8L299.18 444.3L299.31 401.8Z" fill-opacity="0.3097715333562475"/>
<path d="M302.74 401.8L302.88 445.7L303.23 453.4L303.63 453.4L303.98 445.7L304.11 401.8Z" fill-opacity="0.3720134578869626"/>
<path d="M307.05 401.8L307.20 446.1L307.63 453.9L308.03 453.9L308.45 446.1L308.61 401.8Z" fill-opacity="0.27318241615806976"/>
<path d="M312.82 401.8L312.93 441.4L313.14 448.4L313.54 448.4L313.76 441.4L313.86 401.8Z" fill-opacity="0.3385841713169219"/>
<path d="M320.09 401.8L320.21 441.1L320.49 448.1L320.89 448.1L321.16 441.1L321.28 401.8Z" fill-opacity="0.39866174446958946"/>
<path d="M324.35 401.8L324.52 441.6L324.97 448.6L325.37 448.6L325.82 441.6L325.98 401.8Z" fill-opacity="0.36245769064733263"/>
<path d="M332.45 401.8L332.59 445.0L332.93 452.6L333.33 452.6L333.68 445.0L333.81 401.8Z" fill-opacity="0.42638848928189643"/>
<path d="M336.45 401.8L336.60 445.4L337.02 453.1L337.42 453.1L337.84 445.4L337.99 401.8Z" fill-opacity="0.28808133868683944"/>
<path d="M340.29 401.8L340.46 446.1L340.93 454.0L341.33 454.0L341.80 446.1L341.97 401.8Z" fill-opacity="0.3805731856394833"/>
<path d="M346.90 401.8L347.01 441.9L347.24 448.9L347.64 448.9L347.88 441.9L347.99 401.8Z" fill-opacity="0.33337933069949555"/>
<path d="M353.00 401.8L353.18 443.5L353.67 450.9L354.07 450.9L354.56 443.5L354.73 401.8Z" fill-opacity="0.36497748988333123"/>
<path d="M356.77 401.8L356.91 445.2L357.27 452.9L357.67 452.9L358.04 445.2L358.18 401.8Z" fill-opacity="0.3945852419211007"/>
<path d="M363.18 401.8L363.34 441.0L363.75 447.9L364.15 447.9L364.57 441.0L364.72 401.8Z" fill-opacity="0.39965371123069837"/>
<path d="M369.08 401.8L369.21 442.9L369.55 450.1L369.95 450.1L370.28 442.9L370.41 401.8Z" fill-opacity="0.27934311175822113"/>
<path d="M373.44 401.8L373.57 444.8L373.91 452.4L374.31 452.4L374.65 444.8L374.79 401.8Z" fill-opacity="0.2871044137730051"/>
<path d="M380.12 401.8L380.28 443.1L380.72 450.3L381.12 450.3L381.56 443.1L381.72 401.8Z" fill-opacity="0.3628100122540314"/>
<path d="M385.38 401.8L385.50 440.5L385.77 447.3L386.17 447.3L386.44 440.5L386.55 401.8Z" fill-opacity="0.3612666069954747"/>
<path d="M390.65 401.8L390.77 443.5L391.04 450.9L391.44 450.9L391.72 443.5L391.84 401.8Z" fill-opacity="0.3487466635058384"/>
<path d="M394.13 401.8L394.26 440.6L394.56 447.4L394.96 447.4L395.27 440.6L395.39 401.8Z" fill-opacity="0.28014909522841736"/>
<path d="M399.72 401.8L399.84 443.1L400.11 450.4L400.51 450.4L400.79 443.1L400.91 401.8Z" fill-opacity="0.30782724572705417"/>
<path d="M403.39 401.8L403.50 446.1L403.74 453.9L404.14 453.9L404.37 446.1L404.48 401.8Z" fill-opacity="0.2696357402225412"/>
<path d="M406.88 401.8L407.01 442.2L407.36 449.4L407.76 449.4L408.11 442.2L408.25 401.8Z" fill-opacity="0.43057222811951246"/>
<path d="M412.76 401.8L412.94 445.0L413.45 452.6L413.85 452.6L414.37 445.0L414.55 401.8Z" fill-opacity="0.4037208052091523"/>
<path d="M417.99 401.8L418.13 444.5L418.49 452.1L418.89 452.1L419.26 444.5L419.40 401.8Z" fill-opacity="0.4315505932591811"/>
<path d="M421.78 401.8L421.92 443.7L422.26 451.1L422.66 451.1L423.01 443.7L423.15 401.8Z" fill-opacity="0.3108780393158151"/>
<path d="M429.94 401.8L430.04 445.5L430.25 453.2L430.65 453.2L430.86 445.5L430.97 401.8Z" fill-opacity="0.34602032030922375"/>
<path d="M434.08 401.8L434.21 444.3L434.49 451.8L434.89 451.8L435.18 444.3L435.30 401.8Z" fill-opacity="0.2672619424639151"/>
<path d="M440.82 401.8L441.00 441.5L441.48 448.5L441.88 448.5L442.37 441.5L442.54 401.8Z" fill-opacity="0.3465994526569045"/>
<path d="M445.94 401.8L446.12 444.6L446.62 452.1L447.02 452.1L447.51 444.6L447.69 401.8Z" fill-opacity="0.3603850631484712"/>
<path d="M451.56 401.8L451.70 445.5L452.05 453.3L452.45 453.3L452.80 445.5L452.93 401.8Z" fill-opacity="0.2556194670144295"/>
<path d="M456.16 401.8L456.29 440.8L456.64 447.7L457.04 447.7L457.39 440.8L457.53 401.8Z" fill-opacity="0.3742769948778299"/>
<path d="M461.15 401.8L461.30 441.3L461.73 448.2L462.13 448.2L462.56 441.3L462.72 401.8Z" fill-opacity="0.4277927295073287"/>
<path d="M467.59 401.8L467.70 443.7L467.95 451.1L468.35 451.1L468.60 443.7L468.71 401.8Z" fill-opacity="0.3809324296459242"/>
<path d="M471.40 401.8L471.51 442.6L471.75 449.8L472.15 449.8L472.40 442.6L472.51 401.8Z" fill-opacity="0.30715941625562554"/>
<path d="M478.83 401.8L478.96 446.2L479.28 454.0L479.68 454.0L479.99 446.2L480.12 401.8Z" fill-opacity="0.4032363304074196"/>
<path d="M483.51 401.8L483.68 445.8L484.14 453.6L484.54 453.6L485.00 445.8L485.17 401.8Z" fill-opacity="0.2811321552859357"/>
<path d="M490.52 401.8L490.66 440.6L491.00 447.5L491.40 447.5L491.74 440.6L491.88 401.8Z" fill-opacity="0.27757717851844926"/>
<path d="M496.50 401.8L496.65 444.0L497.02 451.5L497.42 451.5L497.79 444.0L497.94 401.8Z" fill-opacity="0.34752647819688987"/>
<path d="M504.18 401.8L504.34 440.9L504.80 447.8L505.20 447.8L505.66 440.9L505.82 401.8Z" fill-opacity="0.35682479456189037"/>
<path d="M509.61 401.8L509.73 440.9L509.98 447.8L510.38 447.8L510.63 440.9L510.74 401.8Z" fill-opacity="0.2742645327976204"/>
<path d="M515.61 401.8L515.72 443.4L515.97 450.8L516.37 450.8L516.61 443.4L516.72 401.8Z" fill-opacity="0.38713287275618"/>
<path d="M-0.08 401.8L0.26 442.5L1.35 449.7L1.85 449.7L2.94 442.5L3.28 401.8Z" fill-opacity="0.48999999999999994"/>
<path d="M4.46 401.8L4.64 443.6L5.15 451.0L5.65 451.0L6.16 443.6L6.35 401.8Z" fill-opacity="0.7"/>
<path d="M8.09 401.8L8.55 444.6L10.15 452.2L10.65 452.2L12.25 444.6L12.71 401.8Z" fill-opacity="0.7"/>
<path d="M13.86 401.8L14.04 442.5L14.55 449.7L15.05 449.7L15.56 442.5L15.75 401.8Z" fill-opacity="0.42"/>
<path d="M17.59 401.8L17.85 442.5L18.65 449.7L19.15 449.7L19.95 442.5L20.21 401.8Z" fill-opacity="0.7"/>
<path d="M22.02 401.8L22.15 444.6L22.45 452.2L22.95 452.2L23.25 444.6L23.38 401.8Z" fill-opacity="0.42"/>
<path d="M24.66 401.8L24.84 443.6L25.35 451.0L25.85 451.0L26.36 443.6L26.55 401.8Z" fill-opacity="0.7"/>
<path d="M30.22 401.8L30.35 442.5L30.65 449.7L31.15 449.7L31.45 442.5L31.58 401.8Z" fill-opacity="0.7"/>
<path d="M36.51 401.8L36.90 442.5L38.25 449.7L38.75 449.7L40.10 442.5L40.49 401.8Z" fill-opacity="0.7"/>
<path d="M41.66 401.8L41.84 442.5L42.35 449.7L42.85 449.7L43.36 442.5L43.55 401.8Z" fill-opacity="0.7"/>
<path d="M51.71 401.8L52.10 444.6L53.45 452.2L53.95 452.2L55.30 444.6L55.70 401.8Z" fill-opacity="0.7"/>
<path d="M57.45 401.8L57.64 445.7L58.15 453.5L58.65 453.5L59.16 445.7L59.34 401.8Z" fill-opacity="0.7"/>
<path d="M61.82 401.8L61.95 442.5L62.25 449.7L62.75 449.7L63.05 442.5L63.18 401.8Z" fill-opacity="0.42"/>
<path d="M65.06 401.8L65.24 444.6L65.75 452.2L66.25 452.2L66.76 444.6L66.94 401.8Z" fill-opacity="0.7"/>
<path d="M68.86 401.8L69.04 442.5L69.55 449.7L70.05 449.7L70.56 442.5L70.74 401.8Z" fill-opacity="0.7"/>
<path d="M71.92 401.8L72.05 442.5L72.35 449.7L72.85 449.7L73.15 442.5L73.28 401.8Z" fill-opacity="0.42"/>
<path d="M75.76 401.8L75.94 443.6L76.45 451.0L76.95 451.0L77.46 443.6L77.64 401.8Z" fill-opacity="0.7"/>
<path d="M78.83 401.8L79.14 446.9L80.15 454.8L80.65 454.8L81.66 446.9L81.98 401.8Z" fill-opacity="0.42"/>
<path d="M87.09 401.8L87.35 443.6L88.15 451.0L88.65 451.0L89.45 443.6L89.71 401.8Z" fill-opacity="0.7"/>
<path d="M90.26 401.8L90.44 444.6L90.95 452.2L91.45 452.2L91.96 444.6L92.14 401.8Z" fill-opacity="0.7"/>
<path d="M98.41 401.8L98.57 442.5L98.95 449.7L99.45 449.7L99.83 442.5L99.99 401.8Z" fill-opacity="0.7"/>
<path d="M99.99 401.8L100.25 442.5L101.05 449.7L101.55 449.7L102.35 442.5L102.61 401.8Z" fill-opacity="0.42"/>
<path d="M104.92 401.8L105.26 445.7L106.35 453.5L106.85 453.5L107.94 445.7L108.28 401.8Z" fill-opacity="0.7"/>
<path d="M111.80 401.8L112.20 443.6L113.55 451.0L114.05 451.0L115.40 443.6L115.80 401.8Z" fill-opacity="0.7"/>
<path d="M117.02 401.8L117.15 446.9L117.45 454.8L117.95 454.8L118.25 446.9L118.38 401.8Z" fill-opacity="0.7"/>
<path d="M123.96 401.8L124.14 442.5L124.65 449.7L125.15 449.7L125.66 442.5L125.84 401.8Z" fill-opacity="0.7"/>
<path d="M128.46 401.8L128.64 443.6L129.15 451.0L129.65 451.0L130.16 443.6L130.34 401.8Z" fill-opacity="0.7"/>
<path d="M131.56 401.8L131.74 442.5L132.25 449.7L132.75 449.7L133.26 442.5L133.44 401.8Z" fill-opacity="0.42"/>
<path d="M136.66 401.8L136.84 442.5L137.35 449.7L137.85 449.7L138.36 442.5L138.54 401.8Z" fill-opacity="0.7"/>
<path d="M139.69 401.8L139.95 442.5L140.75 449.7L141.25 449.7L142.05 442.5L142.31 401.8Z" fill-opacity="0.7"/>
<path d="M142.81 401.8L143.20 444.6L144.55 452.2L145.05 452.2L146.40 444.6L146.80 401.8Z" fill-opacity="0.7"/>
<path d="M151.75 401.8L151.94 442.5L152.45 449.7L152.95 449.7L153.46 442.5L153.64 401.8Z" fill-opacity="0.24499999999999997"/>
<path d="M156.86 401.8L157.04 442.5L157.55 449.7L158.05 449.7L158.56 442.5L158.75 401.8Z" fill-opacity="0.7"/>
<path d="M160.52 401.8L160.65 443.6L160.95 451.0L161.45 451.0L161.75 443.6L161.88 401.8Z" fill-opacity="0.42"/>
<path d="M163.09 401.8L163.35 446.9L164.15 454.8L164.65 454.8L165.45 446.9L165.71 401.8Z" fill-opacity="0.7"/>
<path d="M168.09 401.8L168.35 444.6L169.15 452.2L169.65 452.2L170.45 444.6L170.71 401.8Z" fill-opacity="0.7"/>
<path d="M173.19 401.8L173.45 444.6L174.25 452.2L174.75 452.2L175.55 444.6L175.81 401.8Z" fill-opacity="0.7"/>
<path d="M179.38 401.8L179.90 444.6L181.75 452.2L182.25 452.2L184.10 444.6L184.62 401.8Z" fill-opacity="0.7"/>
<path d="M188.36 401.8L188.54 442.5L189.05 449.7L189.55 449.7L190.06 442.5L190.25 401.8Z" fill-opacity="0.7"/>
<path d="M192.16 401.8L192.34 444.6L192.85 452.2L193.35 452.2L193.86 444.6L194.04 401.8Z" fill-opacity="0.42"/>
<path d="M195.89 401.8L196.15 444.6L196.95 452.2L197.45 452.2L198.25 444.6L198.51 401.8Z" fill-opacity="0.7"/>
<path d="M199.82 401.8L200.56 446.9L203.25 454.8L203.75 454.8L206.44 446.9L207.18 401.8Z" fill-opacity="0.7"/>
<path d="M208.69 401.8L209.35 443.6L211.75 451.0L212.25 451.0L214.65 443.6L215.31 401.8Z" fill-opacity="0.7"/>
<path d="M216.36 401.8L216.54 442.5L217.05 449.7L217.55 449.7L218.06 442.5L218.25 401.8Z" fill-opacity="0.7"/>
<path d="M219.56 401.8L219.74 443.6L220.25 451.0L220.75 451.0L221.26 443.6L221.44 401.8Z" fill-opacity="0.7"/>
<path d="M222.59 401.8L222.85 442.5L223.65 449.7L224.15 449.7L224.95 442.5L225.21 401.8Z" fill-opacity="0.7"/>
<path d="M225.79 401.8L226.05 442.5L226.85 449.7L227.35 449.7L228.15 442.5L228.41 401.8Z" fill-opacity="0.7"/>
<path d="M228.99 401.8L229.25 442.5L230.05 449.7L230.55 449.7L231.35 442.5L231.61 401.8Z" fill-opacity="0.42"/>
<path d="M232.49 401.8L232.75 445.7L233.55 453.5L234.05 453.5L234.85 445.7L235.11 401.8Z" fill-opacity="0.42"/>
<path d="M240.28 401.8L240.80 444.6L242.65 452.2L243.15 452.2L245.00 444.6L245.53 401.8Z" fill-opacity="0.7"/>
<path d="M251.69 401.8L251.95 443.6L252.75 451.0L253.25 451.0L254.05 443.6L254.31 401.8Z" fill-opacity="0.7"/>
<path d="M256.02 401.8L256.36 442.5L257.45 449.7L257.95 449.7L259.04 442.5L259.38 401.8Z" fill-opacity="0.7"/>
<path d="M260.59 401.8L260.85 443.6L261.65 451.0L262.15 451.0L262.95 443.6L263.21 401.8Z" fill-opacity="0.7"/>
<path d="M263.69 401.8L263.95 444.6L264.75 452.2L265.25 452.2L266.05 444.6L266.31 401.8Z" fill-opacity="0.42"/>
<path d="M266.82 401.8L267.16 445.7L268.25 453.5L268.75 453.5L269.84 445.7L270.18 401.8Z" fill-opacity="0.42"/>
<path d="M274.39 401.8L274.85 444.6L276.45 452.2L276.95 452.2L278.55 444.6L279.01 401.8Z" fill-opacity="0.7"/>
<path d="M282.45 401.8L282.66 443.6L283.25 451.0L283.75 451.0L284.34 443.6L284.55 401.8Z" fill-opacity="0.7"/>
<path d="M286.45 401.8L286.66 444.5L287.25 452.0L287.75 452.0L288.34 444.5L288.55 401.8Z" fill-opacity="0.5599999999999999"/>
<path d="M289.18 401.8L290.10 445.7L293.55 453.5L294.05 453.5L297.50 445.7L298.42 401.8Z" fill-opacity="0.7"/>
<path d="M297.19 401.8L297.45 438.3L298.25 444.7L298.75 444.7L299.55 438.3L299.81 401.8Z" fill-opacity="0.7"/>
<path d="M300.06 401.8L300.24 437.2L300.75 443.4L301.25 443.4L301.76 437.2L301.94 401.8Z" fill-opacity="0.7"/>
<path d="M303.69 401.8L303.95 440.4L304.75 447.2L305.25 447.2L306.05 440.4L306.31 401.8Z" fill-opacity="0.7"/>
<path d="M307.49 401.8L307.75 439.3L308.55 445.9L309.05 445.9L309.85 439.3L310.11 401.8Z" fill-opacity="0.7"/>
<path d="M311.27 401.8L311.80 443.6L313.65 451.0L314.15 451.0L316.00 443.6L316.52 401.8Z" fill-opacity="0.7"/>
<path d="M318.88 401.8L319.40 444.6L321.25 452.2L321.75 452.2L323.60 444.6L324.12 401.8Z" fill-opacity="0.7"/>
<path d="M325.36 401.8L325.54 443.6L326.05 451.0L326.55 451.0L327.06 443.6L327.25 401.8Z" fill-opacity="0.7"/>
<path d="M328.69 401.8L328.95 442.5L329.75 449.7L330.25 449.7L331.05 442.5L331.31 401.8Z" fill-opacity="0.42"/>
<path d="M333.39 401.8L333.65 444.6L334.45 452.2L334.95 452.2L335.75 444.6L336.01 401.8Z" fill-opacity="0.7"/>
<path d="M340.45 401.8L340.64 440.4L341.15 447.2L341.65 447.2L342.16 440.4L342.34 401.8Z" fill-opacity="0.7"/>
<path d="M346.75 401.8L346.94 442.5L347.45 449.7L347.95 449.7L348.46 442.5L348.64 401.8Z" fill-opacity="0.7"/>
<path d="M349.25 401.8L349.44 444.6L349.95 452.2L350.45 452.2L350.96 444.6L351.14 401.8Z" fill-opacity="0.7"/>
<path d="M352.32 401.8L352.45 442.5L352.75 449.7L353.25 449.7L353.55 442.5L353.68 401.8Z" fill-opacity="0.42"/>
<path d="M361.81 401.8L362.20 444.6L363.55 452.2L364.05 452.2L365.40 444.6L365.80 401.8Z" fill-opacity="0.7"/>
<path d="M368.16 401.8L368.34 445.7L368.85 453.5L369.35 453.5L369.86 445.7L370.05 401.8Z" fill-opacity="0.7"/>
<path d="M371.95 401.8L372.14 443.6L372.65 451.0L373.15 451.0L373.66 443.6L373.84 401.8Z" fill-opacity="0.42"/>
<path d="M375.75 401.8L375.94 443.6L376.45 451.0L376.95 451.0L377.46 443.6L377.64 401.8Z" fill-opacity="0.7"/>
<path d="M378.72 401.8L379.06 443.6L380.15 451.0L380.65 451.0L381.74 443.6L382.08 401.8Z" fill-opacity="0.7"/>
<path d="M383.18 401.8L383.70 443.6L385.55 451.0L386.05 451.0L387.90 443.6L388.43 401.8Z" fill-opacity="0.5599999999999999"/>
<path d="M389.56 401.8L389.74 446.9L390.25 454.8L390.75 454.8L391.26 446.9L391.44 401.8Z" fill-opacity="0.42"/>
<path d="M395.90 401.8L396.32 444.6L397.75 452.2L398.25 452.2L399.68 444.6L400.10 401.8Z" fill-opacity="0.7"/>
<path d="M399.99 401.8L400.25 444.6L401.05 452.2L401.55 452.2L402.35 444.6L402.61 401.8Z" fill-opacity="0.7"/>
<path d="M408.19 401.8L408.45 444.6L409.25 452.2L409.75 452.2L410.55 444.6L410.81 401.8Z" fill-opacity="0.7"/>
<path d="M412.06 401.8L412.24 442.5L412.75 449.7L413.25 449.7L413.76 442.5L413.94 401.8Z" fill-opacity="0.42"/>
<path d="M415.00 401.8L415.40 445.7L416.75 453.5L417.25 453.5L418.60 445.7L419.00 401.8Z" fill-opacity="0.7"/>
<path d="M421.40 401.8L421.80 442.5L423.15 449.7L423.65 449.7L425.00 442.5L425.39 401.8Z" fill-opacity="0.7"/>
<path d="M425.69 401.8L425.95 446.9L426.75 454.8L427.25 454.8L428.05 446.9L428.31 401.8Z" fill-opacity="0.7"/>
<path d="M433.45 401.8L433.64 442.5L434.15 449.7L434.65 449.7L435.16 442.5L435.34 401.8Z" fill-opacity="0.7"/>
<path d="M437.86 401.8L438.04 442.5L438.55 449.7L439.05 449.7L439.56 442.5L439.75 401.8Z" fill-opacity="0.7"/>
<path d="M440.99 401.8L441.25 442.5L442.05 449.7L442.55 449.7L443.35 442.5L443.61 401.8Z" fill-opacity="0.7"/>
<path d="M445.27 401.8L445.80 442.5L447.65 449.7L448.15 449.7L450.00 442.5L450.52 401.8Z" fill-opacity="0.5599999999999999"/>
<path d="M451.09 401.8L451.55 444.6L453.15 452.2L453.65 452.2L455.25 444.6L455.71 401.8Z" fill-opacity="0.7"/>
<path d="M461.19 401.8L461.45 445.7L462.25 453.5L462.75 453.5L463.55 445.7L463.81 401.8Z" fill-opacity="0.21"/>
<path d="M466.95 401.8L467.14 442.5L467.65 449.7L468.15 449.7L468.66 442.5L468.84 401.8Z" fill-opacity="0.42"/>
<path d="M471.25 401.8L471.44 443.6L471.95 451.0L472.45 451.0L472.96 443.6L473.14 401.8Z" fill-opacity="0.7"/>
<path d="M474.45 401.8L474.64 446.9L475.15 454.8L475.65 454.8L476.16 446.9L476.34 401.8Z" fill-opacity="0.7"/>
<path d="M478.19 401.8L478.45 443.6L479.25 451.0L479.75 451.0L480.55 443.6L480.81 401.8Z" fill-opacity="0.42"/>
<path d="M482.62 401.8L482.96 443.6L484.05 451.0L484.55 451.0L485.64 443.6L485.98 401.8Z" fill-opacity="0.7"/>
<path d="M489.56 401.8L489.74 444.6L490.25 452.2L490.75 452.2L491.26 444.6L491.44 401.8Z" fill-opacity="0.42"/>
<path d="M492.02 401.8L492.36 444.6L493.45 452.2L493.95 452.2L495.04 444.6L495.38 401.8Z" fill-opacity="0.7"/>
<path d="M497.85 401.8L498.06 444.6L498.65 452.2L499.15 452.2L499.74 444.6L499.95 401.8Z" fill-opacity="0.7"/>
<path d="M500.06 401.8L500.24 442.5L500.75 449.7L501.25 449.7L501.76 442.5L501.94 401.8Z" fill-opacity="0.42"/>
<path d="M501.86 401.8L502.04 444.6L502.55 452.2L503.05 452.2L503.56 444.6L503.75 401.8Z" fill-opacity="0.21"/>
<path d="M505.66 401.8L505.84 444.6L506.35 452.2L506.85 452.2L507.36 444.6L507.55 401.8Z" fill-opacity="0.7"/>
<path d="M510.69 401.8L510.95 443.6L511.75 451.0L512.25 451.0L513.05 443.6L513.31 401.8Z" fill-opacity="0.7"/>
<path d="M513.62 401.8L513.96 446.9L515.05 454.8L515.55 454.8L516.64 446.9L516.98 401.8Z" fill-opacity="0.7"/>
<path d="M518.32 401.8L518.66 447.9L519.75 456.0L520.25 456.0L521.34 447.9L521.68 401.8Z" fill-opacity="0.7"/>
<path d="M522.75 401.2L522.94 437.1L523.45 443.4L523.95 443.4L524.46 437.1L524.65 401.2Z" fill-opacity="0.42"/>
<path d="M535.45 399.3L535.64 441.0L536.15 448.4L536.65 448.4L537.16 441.0L537.35 399.3Z" fill-opacity="0.7"/>
<path d="M550.45 398.8L550.64 439.9L551.15 447.2L551.65 447.2L552.16 439.9L552.35 398.8Z" fill-opacity="0.7"/>
<path d="M556.85 398.8L557.04 441.0L557.55 448.4L558.05 448.4L558.56 441.0L558.75 398.8Z" fill-opacity="0.7"/>
<path d="M559.72 398.8L560.06 444.2L561.15 452.2L561.65 452.2L562.74 444.2L563.08 398.8Z" fill-opacity="0.7"/>
<path d="M566.82 398.8L566.95 445.3L567.25 453.5L567.75 453.5L568.05 445.3L568.18 398.8Z" fill-opacity="0.7"/>
<path d="M577.65 398.8L577.84 441.0L578.35 448.4L578.85 448.4L579.36 441.0L579.55 398.8Z" fill-opacity="0.7"/>
<path d="M593.35 398.8L593.54 439.9L594.05 447.2L594.55 447.2L595.06 439.9L595.25 398.8Z" fill-opacity="0.7"/>
<path d="M598.81 398.8L598.97 441.0L599.35 448.4L599.85 448.4L600.23 441.0L600.39 398.8Z" fill-opacity="0.7"/>
<path d="M601.82 398.8L602.16 444.2L603.25 452.2L603.75 452.2L604.84 444.2L605.18 398.8Z" fill-opacity="0.7"/>
<path d="M608.82 398.8L608.95 445.3L609.25 453.5L609.75 453.5L610.05 445.3L610.18 398.8Z" fill-opacity="0.7"/>
<path d="M622.00 398.8L622.40 446.4L623.75 454.8L624.25 454.8L625.60 446.4L626.00 398.8Z" fill-opacity="0.7"/>
<path d="M632.98 398.8L633.08 441.0L633.25 448.4L633.75 448.4L633.92 441.0L634.02 398.8Z" fill-opacity="0.13999999999999999"/>
<path d="M637.71 398.8L638.31 447.4L640.45 456.0L640.95 456.0L643.09 447.4L643.69 398.8Z" fill-opacity="0.7"/>
<path d="M645.41 398.8L645.57 442.1L645.95 449.7L646.45 449.7L646.83 442.1L646.99 398.8Z" fill-opacity="0.7"/>
<path d="M654.69 398.8L655.15 444.2L656.75 452.2L657.25 452.2L658.85 444.2L659.31 398.8Z" fill-opacity="0.7"/>
<path d="M660.42 398.8L660.76 443.2L661.85 451.0L662.35 451.0L663.44 443.2L663.78 398.8Z" fill-opacity="0.7"/>
<path d="M667.90 398.8L668.30 444.2L669.65 452.2L670.15 452.2L671.50 444.2L671.89 398.8Z" fill-opacity="0.5599999999999999"/>
<path d="M674.49 398.8L674.75 444.2L675.55 452.2L676.05 452.2L676.85 444.2L677.11 398.8Z" fill-opacity="0.7"/>
<path d="M678.25 398.8L678.44 442.1L678.95 449.7L679.45 449.7L679.96 442.1L680.15 398.8Z" fill-opacity="0.42"/>
<path d="M684.55 398.8L684.74 442.1L685.25 449.7L685.75 449.7L686.26 442.1L686.45 398.8Z" fill-opacity="0.7"/>
<path d="M689.69 398.8L690.15 445.3L691.75 453.5L692.25 453.5L693.85 445.3L694.31 398.8Z" fill-opacity="0.7"/>
<path d="M695.69 398.8L695.95 442.1L696.75 449.7L697.25 449.7L698.05 442.1L698.31 398.8Z" fill-opacity="0.7"/>
<path d="M698.92 398.8L699.05 444.2L699.35 452.2L699.85 452.2L700.15 444.2L700.28 398.8Z" fill-opacity="0.7"/>
<path d="M701.45 398.8L701.64 441.0L702.15 448.4L702.65 448.4L703.16 441.0L703.35 398.8Z" fill-opacity="0.7"/>
<path d="M708.75 398.8L708.94 441.0L709.45 448.4L709.95 448.4L710.46 441.0L710.65 398.8Z" fill-opacity="0.7"/>
<path d="M723.55 398.8L723.74 439.9L724.25 447.2L724.75 447.2L725.26 439.9L725.45 398.8Z" fill-opacity="0.7"/>
<path d="M729.25 398.8L729.44 441.0L729.95 448.4L730.45 448.4L730.96 441.0L731.15 398.8Z" fill-opacity="0.7"/>
<path d="M732.30 398.8L732.70 444.2L734.05 452.2L734.55 452.2L735.90 444.2L736.29 398.8Z" fill-opacity="0.7"/>
<path d="M739.32 398.8L739.45 445.3L739.75 453.5L740.25 453.5L740.55 445.3L740.68 398.8Z" fill-opacity="0.42"/>
<path d="M747.32 398.8L747.45 441.0L747.75 448.4L748.25 448.4L748.55 441.0L748.68 398.8Z" fill-opacity="0.7"/>
<path d="M753.25 398.8L753.44 439.9L753.95 447.2L754.45 447.2L754.96 439.9L755.15 398.8Z" fill-opacity="0.7"/>
<path d="M759.05 398.8L759.24 437.8L759.75 444.7L760.25 444.7L760.76 437.8L760.95 398.8Z" fill-opacity="0.42"/>
<path d="M770.22 398.8L770.35 439.9L770.65 447.2L771.15 447.2L771.45 439.9L771.58 398.8Z" fill-opacity="0.7"/>
<path d="M772.05 398.8L772.24 443.2L772.75 451.0L773.25 451.0L773.76 443.2L773.95 398.8Z" fill-opacity="0.7"/>
<path d="M778.55 398.8L778.74 439.9L779.25 447.2L779.75 447.2L780.26 439.9L780.45 398.8Z" fill-opacity="0.42"/>
<path d="M0.50 401.8L0.65 443.4L1.33 450.7L1.68 450.7L2.35 443.4L2.50 401.8Z" fill-opacity="0.7"/>
<path d="M4.83 401.8L4.95 444.5L5.42 452.0L5.77 452.0L6.25 444.5L6.36 401.8Z" fill-opacity="1"/>
<path d="M8.40 401.8L8.55 444.2L9.23 451.7L9.58 451.7L10.25 444.2L10.40 401.8Z" fill-opacity="1"/>
<path d="M10.48 401.8L10.63 445.5L11.31 453.2L11.66 453.2L12.33 445.5L12.48 401.8Z" fill-opacity="1"/>
<path d="M14.04 401.8L14.15 443.4L14.63 450.7L14.98 450.7L15.45 443.4L15.57 401.8Z" fill-opacity="0.6"/>
<path d="M17.98 401.8L18.12 443.4L18.70 450.7L19.05 450.7L19.63 443.4L19.76 401.8Z" fill-opacity="1"/>
<path d="M22.00 401.8L22.10 445.5L22.50 453.2L22.85 453.2L23.25 445.5L23.35 401.8Z" fill-opacity="0.6"/>
<path d="M25.03 401.8L25.14 444.5L25.62 452.0L25.97 452.0L26.44 444.5L26.56 401.8Z" fill-opacity="1"/>
<path d="M30.34 401.8L30.44 443.4L30.84 450.7L31.19 450.7L31.60 443.4L31.70 401.8Z" fill-opacity="1"/>
<path d="M36.62 401.8L36.77 443.0L37.44 450.3L37.79 450.3L38.47 443.0L38.62 401.8Z" fill-opacity="1"/>
<path d="M38.26 401.8L38.41 443.4L39.08 450.7L39.43 450.7L40.11 443.4L40.26 401.8Z" fill-opacity="1"/>
<path d="M41.79 401.8L41.90 443.4L42.38 450.7L42.73 450.7L43.20 443.4L43.32 401.8Z" fill-opacity="1"/>
<path d="M51.83 401.8L51.98 443.0L52.65 450.3L53.00 450.3L53.68 443.0L53.83 401.8Z" fill-opacity="1"/>
<path d="M53.80 401.8L53.95 445.5L54.62 453.2L54.97 453.2L55.65 445.5L55.80 401.8Z" fill-opacity="1"/>
<path d="M57.82 401.8L57.93 446.6L58.41 454.5L58.76 454.5L59.23 446.6L59.35 401.8Z" fill-opacity="1"/>
<path d="M61.68 401.8L61.78 443.4L62.19 450.7L62.54 450.7L62.94 443.4L63.04 401.8Z" fill-opacity="0.6"/>
<path d="M65.34 401.8L65.46 445.5L65.93 453.2L66.28 453.2L66.76 445.5L66.87 401.8Z" fill-opacity="1"/>
<path d="M69.12 401.8L69.23 443.4L69.71 450.7L70.06 450.7L70.53 443.4L70.65 401.8Z" fill-opacity="1"/>
<path d="M72.10 401.8L72.20 443.4L72.60 450.7L72.95 450.7L73.35 443.4L73.45 401.8Z" fill-opacity="0.6"/>
<path d="M75.77 401.8L75.89 444.5L76.36 452.0L76.71 452.0L77.19 444.5L77.30 401.8Z" fill-opacity="1"/>
<path d="M79.31 401.8L79.45 447.7L80.11 455.8L80.46 455.8L81.11 447.7L81.26 401.8Z" fill-opacity="0.6"/>
<path d="M87.56 401.8L87.70 444.5L88.28 452.0L88.63 452.0L89.20 444.5L89.34 401.8Z" fill-opacity="1"/>
<path d="M90.36 401.8L90.47 445.5L90.95 453.2L91.30 453.2L91.77 445.5L91.89 401.8Z" fill-opacity="1"/>
<path d="M98.60 401.8L98.70 443.4L99.13 450.7L99.48 450.7L99.91 443.4L100.02 401.8Z" fill-opacity="1"/>
<path d="M100.24 401.8L100.37 443.4L100.95 450.7L101.30 450.7L101.88 443.4L102.01 401.8Z" fill-opacity="0.6"/>
<path d="M105.58 401.8L105.73 446.6L106.40 454.5L106.75 454.5L107.43 446.6L107.58 401.8Z" fill-opacity="1"/>
<path d="M112.00 401.8L112.15 443.9L112.82 451.3L113.17 451.3L113.85 443.9L114.00 401.8Z" fill-opacity="1"/>
<path d="M113.89 401.8L114.04 444.5L114.71 452.0L115.06 452.0L115.74 444.5L115.89 401.8Z" fill-opacity="1"/>
<path d="M116.91 401.8L117.01 447.7L117.41 455.8L117.76 455.8L118.16 447.7L118.26 401.8Z" fill-opacity="1"/>
<path d="M124.25 401.8L124.37 443.4L124.84 450.7L125.19 450.7L125.67 443.4L125.78 401.8Z" fill-opacity="1"/>
<path d="M128.73 401.8L128.84 444.5L129.32 452.0L129.67 452.0L130.14 444.5L130.26 401.8Z" fill-opacity="1"/>
<path d="M131.68 401.8L131.80 443.4L132.27 450.7L132.62 450.7L133.10 443.4L133.21 401.8Z" fill-opacity="0.6"/>
<path d="M137.00 401.8L137.11 443.4L137.59 450.7L137.94 450.7L138.41 443.4L138.53 401.8Z" fill-opacity="1"/>
<path d="M140.24 401.8L140.38 443.4L140.96 450.7L141.31 450.7L141.89 443.4L142.02 401.8Z" fill-opacity="1"/>
<path d="M142.89 401.8L143.04 445.1L143.71 452.8L144.06 452.8L144.74 445.1L144.89 401.8Z" fill-opacity="1"/>
<path d="M144.87 401.8L145.02 445.5L145.69 453.2L146.04 453.2L146.72 445.5L146.87 401.8Z" fill-opacity="1"/>
<path d="M151.98 401.8L152.09 443.4L152.57 450.7L152.92 450.7L153.40 443.4L153.51 401.8Z" fill-opacity="0.35"/>
<path d="M156.87 401.8L156.99 443.4L157.46 450.7L157.81 450.7L158.29 443.4L158.40 401.8Z" fill-opacity="1"/>
<path d="M160.36 401.8L160.46 444.5L160.86 452.0L161.21 452.0L161.61 444.5L161.72 401.8Z" fill-opacity="0.6"/>
<path d="M163.63 401.8L163.76 447.7L164.34 455.8L164.69 455.8L165.27 447.7L165.40 401.8Z" fill-opacity="1"/>
<path d="M168.65 401.8L168.78 445.5L169.36 453.2L169.71 453.2L170.29 445.5L170.42 401.8Z" fill-opacity="1"/>
<path d="M173.78 401.8L173.92 445.5L174.49 453.2L174.84 453.2L175.42 445.5L175.56 401.8Z" fill-opacity="1"/>
<path d="M179.86 401.8L180.01 445.4L180.68 453.1L181.03 453.1L181.71 445.4L181.86 401.8Z" fill-opacity="1"/>
<path d="M182.23 401.8L182.38 445.5L183.06 453.2L183.41 453.2L184.08 445.5L184.23 401.8Z" fill-opacity="1"/>
<path d="M188.35 401.8L188.46 443.4L188.94 450.7L189.29 450.7L189.76 443.4L189.88 401.8Z" fill-opacity="1"/>
<path d="M192.46 401.8L192.57 445.5L193.05 453.2L193.40 453.2L193.87 445.5L193.99 401.8Z" fill-opacity="0.6"/>
<path d="M196.29 401.8L196.42 445.5L197.00 453.2L197.35 453.2L197.93 445.5L198.06 401.8Z" fill-opacity="1"/>
<path d="M200.18 401.8L200.33 446.2L201.00 454.0L201.35 454.0L202.03 446.2L202.18 401.8Z" fill-opacity="1"/>
<path d="M202.38 401.8L202.53 447.7L203.21 455.8L203.56 455.8L204.23 447.7L204.38 401.8Z" fill-opacity="1"/>
<path d="M204.74 401.8L204.89 446.1L205.57 453.9L205.92 453.9L206.59 446.1L206.74 401.8Z" fill-opacity="1"/>
<path d="M208.86 401.8L209.01 443.4L209.68 450.8L210.03 450.8L210.71 443.4L210.86 401.8Z" fill-opacity="1"/>
<path d="M210.98 401.8L211.13 444.5L211.81 452.0L212.16 452.0L212.83 444.5L212.98 401.8Z" fill-opacity="1"/>
<path d="M213.10 401.8L213.25 443.5L213.93 450.9L214.28 450.9L214.95 443.5L215.10 401.8Z" fill-opacity="1"/>
<path d="M216.68 401.8L216.79 443.4L217.27 450.7L217.62 450.7L218.09 443.4L218.21 401.8Z" fill-opacity="1"/>
<path d="M219.77 401.8L219.89 444.5L220.36 452.0L220.71 452.0L221.19 444.5L221.30 401.8Z" fill-opacity="1"/>
<path d="M222.99 401.8L223.12 443.4L223.70 450.7L224.05 450.7L224.63 443.4L224.76 401.8Z" fill-opacity="1"/>
<path d="M226.13 401.8L226.27 443.4L226.85 450.7L227.20 450.7L227.77 443.4L227.91 401.8Z" fill-opacity="1"/>
<path d="M229.30 401.8L229.43 443.4L230.01 450.7L230.36 450.7L230.94 443.4L231.07 401.8Z" fill-opacity="0.6"/>
<path d="M232.85 401.8L232.98 446.6L233.56 454.5L233.91 454.5L234.49 446.6L234.62 401.8Z" fill-opacity="0.6"/>
<path d="M240.46 401.8L240.61 443.5L241.29 450.8L241.64 450.8L242.31 443.5L242.46 401.8Z" fill-opacity="1"/>
<path d="M243.33 401.8L243.48 445.5L244.15 453.2L244.50 453.2L245.18 445.5L245.33 401.8Z" fill-opacity="1"/>
<path d="M252.10 401.8L252.23 444.5L252.81 452.0L253.16 452.0L253.74 444.5L253.87 401.8Z" fill-opacity="1"/>
<path d="M256.70 401.8L256.85 443.4L257.53 450.7L257.88 450.7L258.55 443.4L258.70 401.8Z" fill-opacity="1"/>
<path d="M261.10 401.8L261.24 444.5L261.81 452.0L262.16 452.0L262.74 444.5L262.88 401.8Z" fill-opacity="1"/>
<path d="M264.07 401.8L264.21 445.5L264.79 453.2L265.14 453.2L265.71 445.5L265.85 401.8Z" fill-opacity="0.6"/>
<path d="M267.57 401.8L267.72 446.6L268.40 454.5L268.75 454.5L269.42 446.6L269.57 401.8Z" fill-opacity="0.6"/>
<path d="M274.48 401.8L274.63 443.5L275.30 450.9L275.65 450.9L276.33 443.5L276.48 401.8Z" fill-opacity="1"/>
<path d="M276.65 401.8L276.80 445.5L277.48 453.2L277.83 453.2L278.50 445.5L278.65 401.8Z" fill-opacity="1"/>
<path d="M282.84 401.8L282.96 444.5L283.46 452.0L283.81 452.0L284.32 444.5L284.44 401.8Z" fill-opacity="1"/>
<path d="M286.53 401.8L286.65 445.3L287.15 453.0L287.50 453.0L288.01 445.3L288.13 401.8Z" fill-opacity="0.8"/>
<path d="M289.49 401.8L289.64 445.1L290.31 452.8L290.66 452.8L291.34 445.1L291.49 401.8Z" fill-opacity="1"/>
<path d="M291.77 401.8L291.92 444.7L292.59 452.2L292.94 452.2L293.62 444.7L293.77 401.8Z" fill-opacity="1"/>
<path d="M293.82 401.8L293.97 446.6L294.65 454.5L295.00 454.5L295.67 446.6L295.82 401.8Z" fill-opacity="1"/>
<path d="M296.24 401.8L296.39 444.7L297.06 452.2L297.41 452.2L298.09 444.7L298.24 401.8Z" fill-opacity="1"/>
<path d="M297.50 401.8L297.63 439.1L298.21 445.7L298.56 445.7L299.14 439.1L299.28 401.8Z" fill-opacity="1"/>
<path d="M300.17 401.8L300.29 438.0L300.76 444.4L301.11 444.4L301.59 438.0L301.70 401.8Z" fill-opacity="1"/>
<path d="M303.95 401.8L304.08 441.2L304.66 448.2L305.01 448.2L305.59 441.2L305.72 401.8Z" fill-opacity="1"/>
<path d="M307.80 401.8L307.93 440.1L308.51 446.9L308.86 446.9L309.44 440.1L309.57 401.8Z" fill-opacity="1"/>
<path d="M311.84 401.8L311.99 442.4L312.66 449.6L313.01 449.6L313.69 442.4L313.84 401.8Z" fill-opacity="1"/>
<path d="M313.96 401.8L314.11 444.5L314.79 452.0L315.14 452.0L315.81 444.5L315.96 401.8Z" fill-opacity="1"/>
<path d="M319.27 401.8L319.42 444.5L320.09 452.0L320.44 452.0L321.12 444.5L321.27 401.8Z" fill-opacity="1"/>
<path d="M321.80 401.8L321.95 445.5L322.63 453.2L322.98 453.2L323.65 445.5L323.80 401.8Z" fill-opacity="1"/>
<path d="M325.41 401.8L325.52 444.5L326.00 452.0L326.35 452.0L326.83 444.5L326.94 401.8Z" fill-opacity="1"/>
<path d="M328.92 401.8L329.06 443.4L329.64 450.7L329.99 450.7L330.57 443.4L330.70 401.8Z" fill-opacity="0.6"/>
<path d="M333.61 401.8L333.75 445.5L334.33 453.2L334.68 453.2L335.26 445.5L335.39 401.8Z" fill-opacity="1"/>
<path d="M340.63 401.8L340.74 441.2L341.22 448.2L341.57 448.2L342.04 441.2L342.16 401.8Z" fill-opacity="1"/>
<path d="M346.98 401.8L347.09 443.4L347.57 450.7L347.92 450.7L348.39 443.4L348.51 401.8Z" fill-opacity="1"/>
<path d="M349.26 401.8L349.37 445.5L349.85 453.2L350.20 453.2L350.67 445.5L350.79 401.8Z" fill-opacity="1"/>
<path d="M352.39 401.8L352.49 443.4L352.89 450.7L353.24 450.7L353.64 443.4L353.74 401.8Z" fill-opacity="0.6"/>
<path d="M361.83 401.8L361.98 443.6L362.65 450.9L363.00 450.9L363.68 443.6L363.83 401.8Z" fill-opacity="1"/>
<path d="M363.64 401.8L363.79 445.5L364.46 453.2L364.81 453.2L365.49 445.5L365.64 401.8Z" fill-opacity="1"/>
<path d="M368.17 401.8L368.29 446.6L368.76 454.5L369.11 454.5L369.59 446.6L369.70 401.8Z" fill-opacity="1"/>
<path d="M372.04 401.8L372.16 444.5L372.63 452.0L372.98 452.0L373.46 444.5L373.57 401.8Z" fill-opacity="0.6"/>
<path d="M376.05 401.8L376.16 444.5L376.64 452.0L376.99 452.0L377.46 444.5L377.58 401.8Z" fill-opacity="1"/>
<path d="M379.38 401.8L379.53 444.5L380.21 452.0L380.56 452.0L381.23 444.5L381.38 401.8Z" fill-opacity="1"/>
<path d="M383.59 401.8L383.74 444.2L384.41 451.7L384.76 451.7L385.44 444.2L385.59 401.8Z" fill-opacity="0.8"/>
<path d="M385.96 401.8L386.11 444.5L386.78 452.0L387.13 452.0L387.81 444.5L387.96 401.8Z" fill-opacity="0.8"/>
<path d="M389.82 401.8L389.94 447.7L390.41 455.8L390.76 455.8L391.24 447.7L391.35 401.8Z" fill-opacity="0.6"/>
<path d="M395.94 401.8L396.09 444.2L396.76 451.7L397.11 451.7L397.79 444.2L397.94 401.8Z" fill-opacity="1"/>
<path d="M398.18 401.8L398.33 445.5L399.00 453.2L399.35 453.2L400.03 445.5L400.18 401.8Z" fill-opacity="1"/>
<path d="M400.48 401.8L400.61 445.5L401.19 453.2L401.54 453.2L402.12 445.5L402.25 401.8Z" fill-opacity="1"/>
<path d="M408.72 401.8L408.86 445.5L409.43 453.2L409.78 453.2L410.36 445.5L410.50 401.8Z" fill-opacity="1"/>
<path d="M412.04 401.8L412.16 443.4L412.63 450.7L412.98 450.7L413.46 443.4L413.57 401.8Z" fill-opacity="0.6"/>
<path d="M415.12 401.8L415.27 445.3L415.95 452.9L416.30 452.9L416.97 445.3L417.12 401.8Z" fill-opacity="1"/>
<path d="M416.93 401.8L417.08 446.6L417.75 454.5L418.10 454.5L418.78 446.6L418.93 401.8Z" fill-opacity="1"/>
<path d="M421.42 401.8L421.57 441.4L422.25 448.3L422.60 448.3L423.27 441.4L423.42 401.8Z" fill-opacity="1"/>
<path d="M423.45 401.8L423.60 443.4L424.28 450.7L424.63 450.7L425.30 443.4L425.45 401.8Z" fill-opacity="1"/>
<path d="M426.08 401.8L426.22 447.7L426.79 455.8L427.14 455.8L427.72 447.7L427.86 401.8Z" fill-opacity="1"/>
<path d="M433.55 401.8L433.67 443.4L434.14 450.7L434.49 450.7L434.97 443.4L435.08 401.8Z" fill-opacity="1"/>
<path d="M438.11 401.8L438.22 443.4L438.70 450.7L439.05 450.7L439.52 443.4L439.64 401.8Z" fill-opacity="1"/>
<path d="M441.53 401.8L441.66 443.4L442.24 450.7L442.59 450.7L443.17 443.4L443.30 401.8Z" fill-opacity="1"/>
<path d="M445.64 401.8L445.79 442.5L446.46 449.7L446.81 449.7L447.49 442.5L447.64 401.8Z" fill-opacity="0.8"/>
<path d="M448.27 401.8L448.42 443.4L449.10 450.7L449.45 450.7L450.12 443.4L450.27 401.8Z" fill-opacity="0.8"/>
<path d="M451.13 401.8L451.28 444.9L451.95 452.5L452.30 452.5L452.98 444.9L453.13 401.8Z" fill-opacity="1"/>
<path d="M453.62 401.8L453.77 445.5L454.44 453.2L454.79 453.2L455.47 445.5L455.62 401.8Z" fill-opacity="1"/>
<path d="M461.61 401.8L461.75 446.6L462.33 454.5L462.68 454.5L463.26 446.6L463.39 401.8Z" fill-opacity="0.3"/>
<path d="M467.33 401.8L467.45 443.4L467.92 450.7L468.27 450.7L468.75 443.4L468.86 401.8Z" fill-opacity="0.6"/>
<path d="M471.51 401.8L471.62 444.5L472.10 452.0L472.45 452.0L472.92 444.5L473.04 401.8Z" fill-opacity="1"/>
<path d="M474.65 401.8L474.77 447.7L475.24 455.8L475.59 455.8L476.07 447.7L476.18 401.8Z" fill-opacity="1"/>
<path d="M478.61 401.8L478.75 444.5L479.33 452.0L479.68 452.0L480.26 444.5L480.39 401.8Z" fill-opacity="0.6"/>
<path d="M483.30 401.8L483.45 444.5L484.13 452.0L484.48 452.0L485.15 444.5L485.30 401.8Z" fill-opacity="1"/>
<path d="M489.83 401.8L489.94 445.5L490.42 453.2L490.77 453.2L491.24 445.5L491.36 401.8Z" fill-opacity="0.6"/>
<path d="M492.84 401.8L492.99 445.5L493.66 453.2L494.01 453.2L494.69 445.5L494.84 401.8Z" fill-opacity="1"/>
<path d="M498.11 401.8L498.23 445.5L498.73 453.2L499.08 453.2L499.59 445.5L499.71 401.8Z" fill-opacity="1"/>
<path d="M500.11 401.8L500.22 443.4L500.70 450.7L501.05 450.7L501.52 443.4L501.64 401.8Z" fill-opacity="0.6"/>
<path d="M501.86 401.8L501.98 445.5L502.45 453.2L502.80 453.2L503.28 445.5L503.39 401.8Z" fill-opacity="0.3"/>
<path d="M505.68 401.8L505.79 445.5L506.27 453.2L506.62 453.2L507.10 445.5L507.21 401.8Z" fill-opacity="1"/>
<path d="M511.04 401.8L511.17 444.5L511.75 452.0L512.10 452.0L512.68 444.5L512.82 401.8Z" fill-opacity="1"/>
<path d="M514.26 401.8L514.41 447.7L515.08 455.8L515.43 455.8L516.11 447.7L516.26 401.8Z" fill-opacity="1"/>
<path d="M519.09 401.8L519.24 448.7L519.92 457.0L520.27 457.0L520.94 448.7L521.09 401.8Z" fill-opacity="1"/>
<path d="M522.93 401.2L523.04 437.9L523.52 444.4L523.87 444.4L524.34 437.9L524.46 401.2Z" fill-opacity="0.6"/>
<path d="M535.53 399.4L535.65 441.9L536.12 449.4L536.47 449.4L536.95 441.9L537.06 399.4Z" fill-opacity="1"/>
<path d="M550.51 398.8L550.62 440.8L551.10 448.2L551.45 448.2L551.93 440.8L552.04 398.8Z" fill-opacity="1"/>
<path d="M556.84 398.8L556.96 441.8L557.43 449.4L557.78 449.4L558.26 441.8L558.37 398.8Z" fill-opacity="1"/>
<path d="M560.60 398.8L560.75 445.0L561.42 453.2L561.77 453.2L562.45 445.0L562.60 398.8Z" fill-opacity="1"/>
<path d="M566.77 398.8L566.87 446.1L567.27 454.5L567.62 454.5L568.02 446.1L568.12 398.8Z" fill-opacity="1"/>
<path d="M577.98 398.8L578.09 441.8L578.57 449.4L578.92 449.4L579.39 441.8L579.51 398.8Z" fill-opacity="1"/>
<path d="M593.70 398.8L593.81 440.8L594.29 448.2L594.64 448.2L595.11 440.8L595.23 398.8Z" fill-opacity="1"/>
<path d="M598.84 398.8L598.95 441.8L599.38 449.4L599.73 449.4L600.16 441.8L600.27 398.8Z" fill-opacity="1"/>
<path d="M602.39 398.8L602.54 445.0L603.21 453.2L603.56 453.2L604.24 445.0L604.39 398.8Z" fill-opacity="1"/>
<path d="M608.68 398.8L608.78 446.1L609.18 454.5L609.53 454.5L609.94 446.1L610.04 398.8Z" fill-opacity="1"/>
<path d="M621.86 398.8L622.01 445.5L622.68 453.7L623.03 453.7L623.71 445.5L623.86 398.8Z" fill-opacity="1"/>
<path d="M623.88 398.8L624.03 447.2L624.70 455.8L625.05 455.8L625.73 447.2L625.88 398.8Z" fill-opacity="1"/>
<path d="M632.95 398.8L633.04 441.8L633.40 449.4L633.75 449.4L634.10 441.8L634.20 398.8Z" fill-opacity="0.2"/>
<path d="M638.41 398.8L638.56 446.3L639.23 454.7L639.58 454.7L640.26 446.3L640.41 398.8Z" fill-opacity="1"/>
<path d="M641.27 398.8L641.42 448.3L642.09 457.0L642.44 457.0L643.12 448.3L643.27 398.8Z" fill-opacity="1"/>
<path d="M645.57 398.8L645.68 442.9L646.11 450.7L646.46 450.7L646.89 442.9L647.00 398.8Z" fill-opacity="1"/>
<path d="M654.83 398.8L654.98 444.5L655.65 452.6L656.00 452.6L656.68 444.5L656.83 398.8Z" fill-opacity="1"/>
<path d="M657.09 398.8L657.24 445.0L657.92 453.2L658.27 453.2L658.94 445.0L659.09 398.8Z" fill-opacity="1"/>
<path d="M661.15 398.8L661.30 444.0L661.97 452.0L662.32 452.0L663.00 444.0L663.15 398.8Z" fill-opacity="1"/>
<path d="M667.96 398.8L668.11 442.6L668.79 450.4L669.14 450.4L669.81 442.6L669.96 398.8Z" fill-opacity="0.8"/>
<path d="M669.97 398.8L670.12 445.0L670.79 453.2L671.14 453.2L671.82 445.0L671.97 398.8Z" fill-opacity="0.8"/>
<path d="M675.08 398.8L675.22 445.0L675.80 453.2L676.15 453.2L676.73 445.0L676.86 398.8Z" fill-opacity="1"/>
<path d="M678.28 398.8L678.40 442.9L678.87 450.7L679.22 450.7L679.70 442.9L679.81 398.8Z" fill-opacity="0.6"/>
<path d="M684.92 398.8L685.03 442.9L685.51 450.7L685.86 450.7L686.33 442.9L686.45 398.8Z" fill-opacity="1"/>
<path d="M689.85 398.8L690.00 445.2L690.67 453.4L691.02 453.4L691.70 445.2L691.85 398.8Z" fill-opacity="1"/>
<path d="M692.22 398.8L692.37 446.1L693.05 454.5L693.40 454.5L694.07 446.1L694.22 398.8Z" fill-opacity="1"/>
<path d="M696.01 398.8L696.15 442.9L696.73 450.7L697.08 450.7L697.66 442.9L697.79 398.8Z" fill-opacity="1"/>
<path d="M698.82 398.8L698.92 445.0L699.32 453.2L699.67 453.2L700.07 445.0L700.17 398.8Z" fill-opacity="1"/>
<path d="M701.69 398.8L701.80 441.8L702.28 449.4L702.63 449.4L703.10 441.8L703.22 398.8Z" fill-opacity="1"/>
<path d="M709.06 398.8L709.18 441.8L709.65 449.4L710.00 449.4L710.48 441.8L710.59 398.8Z" fill-opacity="1"/>
<path d="M723.76 398.8L723.87 440.8L724.35 448.2L724.70 448.2L725.17 440.8L725.29 398.8Z" fill-opacity="1"/>
<path d="M729.41 398.8L729.53 441.8L730.00 449.4L730.35 449.4L730.83 441.8L730.94 398.8Z" fill-opacity="1"/>
<path d="M732.20 398.8L732.35 444.6L733.02 452.7L733.37 452.7L734.05 444.6L734.20 398.8Z" fill-opacity="1"/>
<path d="M734.14 398.8L734.29 445.0L734.97 453.2L735.32 453.2L735.99 445.0L736.14 398.8Z" fill-opacity="1"/>
<path d="M739.51 398.8L739.61 446.1L740.02 454.5L740.37 454.5L740.77 446.1L740.87 398.8Z" fill-opacity="0.6"/>
<path d="M747.26 398.8L747.36 441.8L747.76 449.4L748.11 449.4L748.51 441.8L748.61 398.8Z" fill-opacity="1"/>
<path d="M753.56 398.8L753.67 440.8L754.15 448.2L754.50 448.2L754.97 440.8L755.09 398.8Z" fill-opacity="1"/>
<path d="M759.35 398.8L759.46 438.7L759.94 445.7L760.29 445.7L760.76 438.7L760.88 398.8Z" fill-opacity="0.6"/>
<path d="M770.15 398.8L770.25 440.8L770.65 448.2L771.00 448.2L771.40 440.8L771.51 398.8Z" fill-opacity="1"/>
<path d="M772.39 398.8L772.50 444.0L772.98 452.0L773.33 452.0L773.80 444.0L773.92 398.8Z" fill-opacity="1"/>
<path d="M778.91 398.8L779.02 440.8L779.50 448.2L779.85 448.2L780.32 440.8L780.44 398.8Z" fill-opacity="0.6"/>
<path d="M60.7 400.8L61.4 385.7L61.8 385.7L62.5 400.8Z"/>
<path d="M371.1 400.8L371.8 385.7L372.2 385.7L372.9 400.8Z"/>
<path d="M535.7 398.3L536.4 389.5L536.8 389.5L537.5 398.3Z"/>
<path d="M577.4 397.8L578.1 389.5L578.5 389.5L579.2 397.8Z"/>
<path d="M708.1 397.8L708.8 389.5L709.2 389.5L709.9 397.8Z"/>
</g>
</svg>
</body></html>
